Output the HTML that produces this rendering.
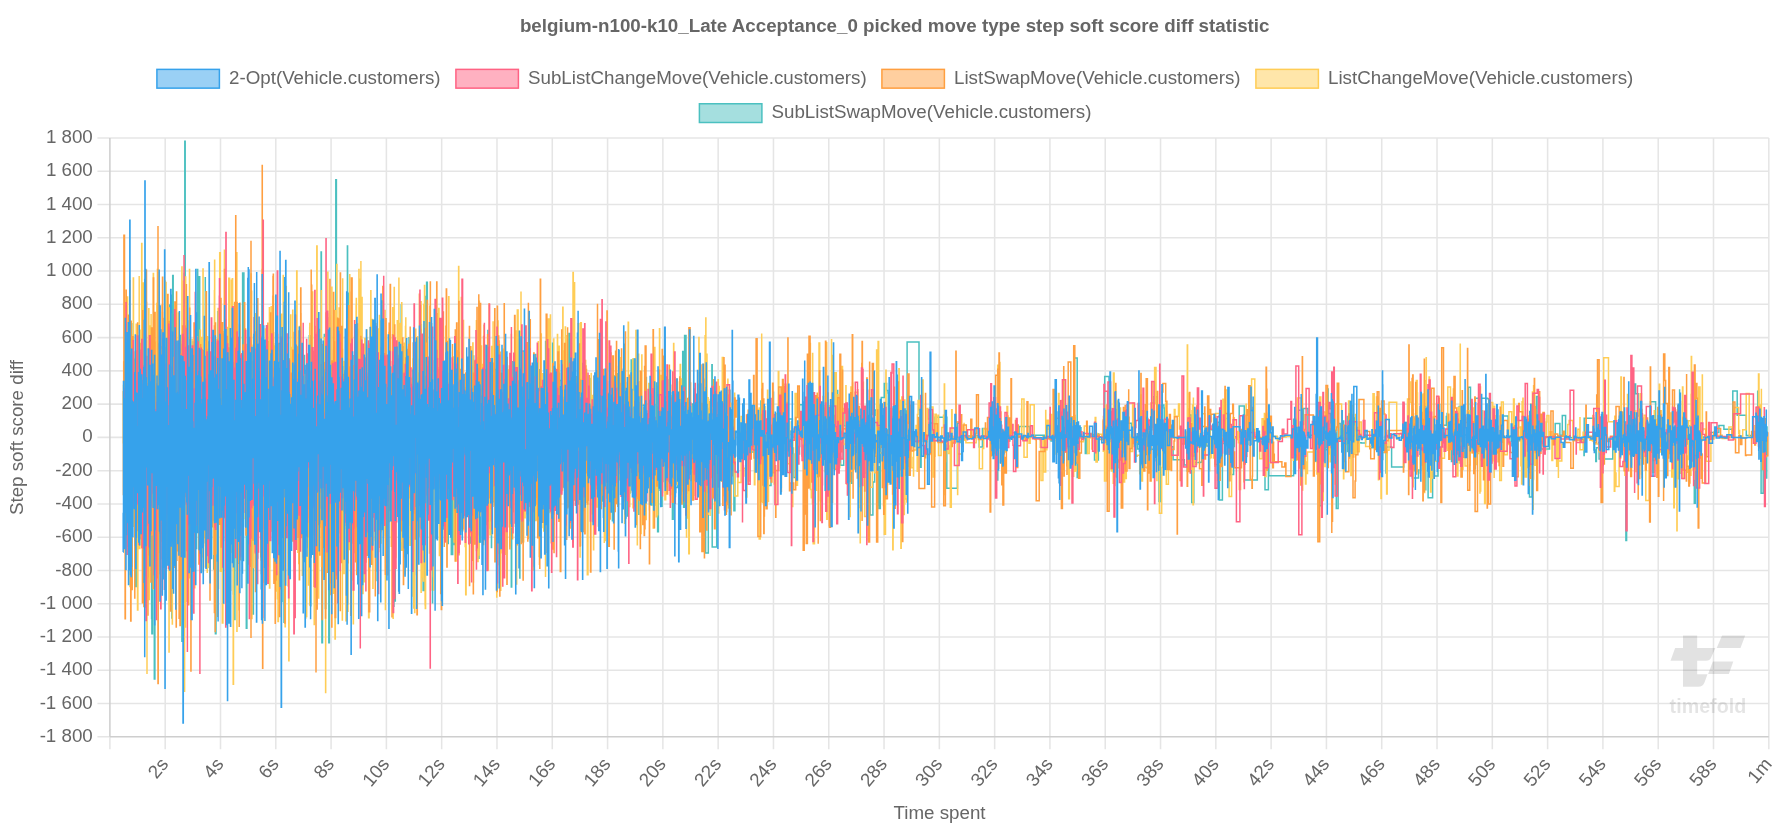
<!DOCTYPE html>
<html><head><meta charset="utf-8"><title>chart</title>
<style>
html,body{margin:0;padding:0;background:#fff;}
body{width:1792px;height:832px;overflow:hidden;position:relative;font-family:"Liberation Sans",sans-serif;}
svg{position:absolute;left:0;top:0;display:block;will-change:transform}
text{font-family:"Liberation Sans",sans-serif;fill:#666;font-size:18.75px}
.g{stroke:#000;stroke-opacity:0.1;stroke-width:1.56;fill:none}
.s{fill:none;stroke-width:1.5;stroke-linejoin:miter;stroke-linecap:butt}
</style></head><body>
<svg width="1792" height="832" viewBox="0 0 1792 832">
<text x="894.7" y="31.6" text-anchor="middle" style="font-weight:bold">belgium-n100-k10_Late Acceptance_0 picked move type step soft score diff statistic</text>
<rect x="156.90" y="69.38" width="62.5" height="18.75" fill="rgba(54,162,235,0.5)" stroke="rgb(54,162,235)" stroke-width="1.5"/><text x="229.0" y="84.0">2-Opt(Vehicle.customers)</text>
<rect x="455.90" y="69.38" width="62.5" height="18.75" fill="rgba(255,99,132,0.5)" stroke="rgb(255,99,132)" stroke-width="1.5"/><text x="528.0" y="84.0">SubListChangeMove(Vehicle.customers)</text>
<rect x="881.90" y="69.38" width="62.5" height="18.75" fill="rgba(255,159,64,0.5)" stroke="rgb(255,159,64)" stroke-width="1.5"/><text x="954.0" y="84.0">ListSwapMove(Vehicle.customers)</text>
<rect x="1255.90" y="69.38" width="62.5" height="18.75" fill="rgba(255,205,86,0.5)" stroke="rgb(255,205,86)" stroke-width="1.5"/><text x="1328.0" y="84.0">ListChangeMove(Vehicle.customers)</text>
<rect x="699.40" y="103.75" width="62.5" height="18.75" fill="rgba(75,192,192,0.5)" stroke="rgb(75,192,192)" stroke-width="1.5"/><text x="771.5" y="118.0">SubListSwapMove(Vehicle.customers)</text>
<path class="g" d="M97.40 138.00H1768.80M97.40 171.27H1768.80M97.40 204.53H1768.80M97.40 237.80H1768.80M97.40 271.07H1768.80M97.40 304.33H1768.80M97.40 337.60H1768.80M97.40 370.87H1768.80M97.40 404.13H1768.80M97.40 437.40H1768.80M97.40 470.67H1768.80M97.40 503.93H1768.80M97.40 537.20H1768.80M97.40 570.47H1768.80M97.40 603.73H1768.80M97.40 637.00H1768.80M97.40 670.27H1768.80M97.40 703.53H1768.80M97.40 736.80H1768.80M109.90 138.00V749.30M165.20 138.00V749.30M220.49 138.00V749.30M275.79 138.00V749.30M331.09 138.00V749.30M386.38 138.00V749.30M441.68 138.00V749.30M496.98 138.00V749.30M552.27 138.00V749.30M607.57 138.00V749.30M662.87 138.00V749.30M718.16 138.00V749.30M773.46 138.00V749.30M828.76 138.00V749.30M884.05 138.00V749.30M939.35 138.00V749.30M994.65 138.00V749.30M1049.94 138.00V749.30M1105.24 138.00V749.30M1160.54 138.00V749.30M1215.83 138.00V749.30M1271.13 138.00V749.30M1326.43 138.00V749.30M1381.72 138.00V749.30M1437.02 138.00V749.30M1492.32 138.00V749.30M1547.61 138.00V749.30M1602.91 138.00V749.30M1658.21 138.00V749.30M1713.50 138.00V749.30M1768.80 138.00V749.30"/>
<path class="g" d="M109.90 138.00V736.80M109.90 736.80H1768.80"/>
<text x="92.8" y="143.0" text-anchor="end">1 800</text><text x="92.8" y="176.3" text-anchor="end">1 600</text><text x="92.8" y="209.5" text-anchor="end">1 400</text><text x="92.8" y="242.8" text-anchor="end">1 200</text><text x="92.8" y="276.1" text-anchor="end">1 000</text><text x="92.8" y="309.3" text-anchor="end">800</text><text x="92.8" y="342.6" text-anchor="end">600</text><text x="92.8" y="375.9" text-anchor="end">400</text><text x="92.8" y="409.1" text-anchor="end">200</text><text x="92.8" y="442.4" text-anchor="end">0</text><text x="92.8" y="475.7" text-anchor="end">-200</text><text x="92.8" y="508.9" text-anchor="end">-400</text><text x="92.8" y="542.2" text-anchor="end">-600</text><text x="92.8" y="575.5" text-anchor="end">-800</text><text x="92.8" y="608.7" text-anchor="end">-1 000</text><text x="92.8" y="642.0" text-anchor="end">-1 200</text><text x="92.8" y="675.3" text-anchor="end">-1 400</text><text x="92.8" y="708.5" text-anchor="end">-1 600</text><text x="92.8" y="741.8" text-anchor="end">-1 800</text>
<text transform="translate(169.2,764.6) rotate(-50)" text-anchor="end">2s</text><text transform="translate(224.5,764.6) rotate(-50)" text-anchor="end">4s</text><text transform="translate(279.8,764.6) rotate(-50)" text-anchor="end">6s</text><text transform="translate(335.1,764.6) rotate(-50)" text-anchor="end">8s</text><text transform="translate(390.4,764.6) rotate(-50)" text-anchor="end">10s</text><text transform="translate(445.7,764.6) rotate(-50)" text-anchor="end">12s</text><text transform="translate(501.0,764.6) rotate(-50)" text-anchor="end">14s</text><text transform="translate(556.3,764.6) rotate(-50)" text-anchor="end">16s</text><text transform="translate(611.6,764.6) rotate(-50)" text-anchor="end">18s</text><text transform="translate(666.9,764.6) rotate(-50)" text-anchor="end">20s</text><text transform="translate(722.2,764.6) rotate(-50)" text-anchor="end">22s</text><text transform="translate(777.5,764.6) rotate(-50)" text-anchor="end">24s</text><text transform="translate(832.8,764.6) rotate(-50)" text-anchor="end">26s</text><text transform="translate(888.1,764.6) rotate(-50)" text-anchor="end">28s</text><text transform="translate(943.3,764.6) rotate(-50)" text-anchor="end">30s</text><text transform="translate(998.6,764.6) rotate(-50)" text-anchor="end">32s</text><text transform="translate(1053.9,764.6) rotate(-50)" text-anchor="end">34s</text><text transform="translate(1109.2,764.6) rotate(-50)" text-anchor="end">36s</text><text transform="translate(1164.5,764.6) rotate(-50)" text-anchor="end">38s</text><text transform="translate(1219.8,764.6) rotate(-50)" text-anchor="end">40s</text><text transform="translate(1275.1,764.6) rotate(-50)" text-anchor="end">42s</text><text transform="translate(1330.4,764.6) rotate(-50)" text-anchor="end">44s</text><text transform="translate(1385.7,764.6) rotate(-50)" text-anchor="end">46s</text><text transform="translate(1441.0,764.6) rotate(-50)" text-anchor="end">48s</text><text transform="translate(1496.3,764.6) rotate(-50)" text-anchor="end">50s</text><text transform="translate(1551.6,764.6) rotate(-50)" text-anchor="end">52s</text><text transform="translate(1606.9,764.6) rotate(-50)" text-anchor="end">54s</text><text transform="translate(1662.2,764.6) rotate(-50)" text-anchor="end">56s</text><text transform="translate(1717.5,764.6) rotate(-50)" text-anchor="end">58s</text><text transform="translate(1772.8,764.6) rotate(-50)" text-anchor="end">1m</text>
<text transform="translate(22.8,437.6) rotate(-90)" text-anchor="middle">Step soft score diff</text><text x="939.5" y="819" text-anchor="middle">Time spent</text>
<g fill="#000" fill-opacity="0.115"><path d="M1683 635.6H1697.2V648.1H1715.4L1711.2 657.5Q1709.8 660.7 1706 660.7H1697.2V674.2H1707.5L1704.6 682.2Q1703 686.7 1698 686.7H1683V660.7H1670.5L1675.1 648.1H1683Z"/><path d="M1722 635.6H1745.2L1740.5 648.1H1716.7Z"/><path d="M1712.8 661.4H1733.3L1728.9 673.9H1708.1Z"/></g><text x="1707.9" y="713" text-anchor="middle" style="font-weight:bold;font-size:19.7px;fill:#000;fill-opacity:0.105">timefold</text>
<clipPath id="cp"><rect x="108.90" y="137.00" width="1660.90" height="600.80"/></clipPath><g clip-path="url(#cp)"><path class="s" stroke="rgb(75,192,192)" d="M123.6 430.1H123.9V469.3H124.7V375.9H125.1V476.2H125.2V431.4H126.7V370.0H127.2V397.1H129.1V475.6H129.8V466.1H130.8V323.8H131.8V400.9H132.2V459.2H132.5V494.5H133.2V391.5H133.6V470.9H134.6V359.3H134.8V447.9H135.4V586.4H136.5V338.7H137.2V457.1H137.3V463.3H137.4V461.9H137.7V336.3H138.3V532.7H138.7V378.3H138.7V359.7H139.2V471.4H139.8V451.9H140.3V426.2H141.4V506.3H142.7V429.3H142.9V336.7H143.3V491.8H143.4V453.1H143.9V421.3H143.9V530.4H144.0V399.9H144.2V332.6H144.2V417.9H146.2V507.2H146.2V499.7H147.5V408.9H148.1V373.5H149.5V451.8H149.7V409.9H150.5V334.4H151.1V384.3H151.1V492.9H151.3V379.4H151.6V618.6H151.9V633.7H152.5V409.3H153.5V408.8H153.5V375.3H153.9V391.7H153.9V410.4H154.1V485.2H154.3V679.1H154.9V406.9H157.5V444.9H157.5V378.6H157.6V524.4H157.7V480.8H157.8V397.7H158.6V344.1H159.1V377.9H159.4V391.8H160.5V346.7H161.0V389.2H161.2V400.1H161.4V409.1H161.7V353.4H162.3V558.4H162.4V330.0H162.5V434.0H163.1V471.4H164.0V445.0H164.2V383.1H164.5V530.3H164.5V374.8H166.7V391.9H166.9V557.0H167.4V462.0H168.2V486.6H168.3V329.7H168.7V433.8H168.9V451.7H169.5V456.4H169.6V305.0H170.0V462.0H170.2V471.4H170.2V430.6H170.2V471.0H170.4V469.1H170.6V370.9H171.3V295.3H171.6V528.8H171.7V475.8H171.8V497.4H171.8V617.9H172.2V503.7H172.3V479.8H172.4V343.6H172.7V275.5H173.2V427.3H173.3V314.7H173.9V491.8H174.1V421.6H174.4V410.9H174.5V461.8H174.9V405.2H175.1V443.6H176.2V391.9H176.8V459.3H178.3V372.2H178.5V411.6H178.6V411.1H178.7V399.9H178.9V422.2H178.9V321.1H179.2V375.6H179.3V516.4H179.4V550.8H179.4V513.7H179.8V335.6H180.9V410.0H180.9V496.8H181.2V414.7H181.3V341.8H181.9V641.3H182.1V521.7H182.5V384.4H182.8V624.0H183.2V433.7H183.3V499.2H183.4V425.0H183.5V467.7H183.7V347.4H183.7V475.6H183.9V393.0H184.0V309.1H184.3V273.6H184.6V426.3H184.8V141.2H185.2V447.0H185.3V331.9H185.4V479.8H185.6V557.8H186.4V539.2H186.6V321.1H187.7V495.5H188.0V354.4H188.2V510.2H188.4V443.3H188.9V518.9H189.5V539.0H189.6V492.2H190.7V479.7H191.1V368.2H191.5V505.0H192.6V342.0H192.7V520.7H192.7V446.2H192.9V449.1H193.9V454.9H194.4V395.1H194.7V413.9H194.8V404.1H194.9V488.2H195.0V415.9H196.0V506.5H196.3V450.5H196.3V367.0H196.5V548.5H196.6V430.2H196.8V425.8H197.3V269.4H197.7V403.4H198.0V486.2H198.4V353.3H198.9V276.7H199.7V392.8H199.9V362.8H200.6V553.8H200.6V404.0H201.7V431.6H201.8V362.8H201.9V340.2H202.0V513.0H202.7V452.3H203.0V459.9H203.3V430.1H203.7V397.6H204.1V409.5H204.4V401.8H205.0V414.6H205.2V460.4H205.3V277.1H205.3V542.8H206.0V406.2H206.2V342.8H206.2V388.7H206.2V487.0H206.7V355.1H208.8V478.5H209.5V403.2H209.7V496.4H209.9V519.3H209.9V394.2H210.4V431.4H210.4V401.0H210.7V520.6H210.8V415.4H212.0V451.6H212.1V466.6H213.7V568.9H215.4V633.7H216.0V392.6H216.2V370.0H217.3V342.8H217.3V423.0H217.3V427.6H217.4V457.5H217.7V311.7H218.1V327.3H218.2V478.9H218.5V427.4H219.8V501.7H220.0V387.4H222.5V404.5H224.1V418.6H225.4V422.8H225.5V377.4H226.1V388.3H227.0V488.4H227.3V439.3H227.6V369.3H227.7V456.3H227.8V480.8H229.5V462.8H229.9V443.4H230.3V462.0H230.4V363.7H231.0V379.2H231.3V407.4H231.4V481.7H231.5V413.0H232.1V483.3H233.5V593.9H234.8V455.2H234.8V619.6H234.9V388.7H235.2V497.0H236.8V407.5H237.0V462.3H237.6V489.6H238.5V558.9H238.7V444.2H238.9V563.3H239.1V445.1H239.1V501.1H240.0V486.7H240.6V473.6H240.6V382.0H240.8V409.3H241.0V404.5H241.0V405.4H242.5V467.8H242.6V272.9H243.9V378.7H245.3V482.8H245.5V526.0H245.6V383.4H246.2V521.0H246.2V519.3H246.3V628.2H246.9V383.2H247.1V491.6H247.3V535.3H247.8V418.6H247.9V468.3H248.1V443.6H248.4V456.3H249.2V439.6H249.2V510.8H249.5V517.4H250.0V511.1H251.6V401.2H251.6V490.4H251.9V519.4H252.1V449.0H252.8V571.0H252.8V614.0H253.4V390.6H255.0V408.9H255.0V508.2H256.1V489.9H256.2V457.4H256.5V461.6H256.9V424.6H257.1V479.5H257.3V405.0H257.4V558.1H257.7V464.9H258.5V463.2H258.8V381.3H259.4V486.0H260.8V523.3H260.9V432.8H261.2V336.4H261.5V400.9H262.3V421.7H262.4V395.7H263.2V493.3H263.3V393.0H263.5V371.4H263.6V405.6H263.7V426.1H264.0V420.3H264.3V500.1H265.0V419.1H266.5V326.0H266.7V500.6H266.7V429.7H266.8V502.6H268.1V428.4H269.0V410.5H269.3V389.0H270.1V463.5H270.2V404.6H270.4V429.4H270.5V348.6H270.5V406.7H271.2V493.2H271.3V473.3H271.6V406.5H272.1V455.2H272.3V395.8H272.4V502.1H273.4V462.1H273.9V478.0H274.0V400.6H274.4V401.9H274.7V485.6H275.2V547.7H275.3V435.5H275.3V347.2H276.0V360.8H276.9V390.0H277.0V473.9H277.1V405.4H277.2V460.4H278.0V436.5H278.0V454.2H278.8V409.5H278.9V343.5H280.7V390.6H280.8V446.3H281.0V433.1H281.5V476.1H281.6V601.6H282.0V407.5H282.2V477.3H282.8V430.4H282.9V413.7H284.0V623.1H284.0V516.4H284.5V539.9H284.8V430.5H284.9V405.3H285.2V451.0H285.6V424.8H285.7V443.6H287.6V467.0H289.3V435.9H289.7V453.4H290.9V424.8H291.5V404.4H291.6V410.3H292.3V408.2H292.4V410.9H292.6V455.5H294.0V444.6H294.4V354.8H294.4V485.0H294.6V379.5H295.2V496.1H296.3V476.2H296.9V428.3H297.0V454.4H297.9V448.3H298.0V471.5H299.4V472.7H300.5V401.7H300.9V468.9H301.0V451.8H301.1V376.0H301.8V489.5H302.0V487.2H302.6V381.8H303.0V355.6H304.5V497.0H304.6V419.2H304.8V370.4H305.1V445.2H305.2V478.5H307.0V433.3H307.6V509.6H308.5V402.6H308.6V443.3H308.9V407.6H309.0V401.5H309.3V335.8H310.0V395.0H310.2V416.9H310.4V554.2H310.6V605.7H310.8V376.2H311.0V376.2H311.2V506.5H311.5V493.1H311.6V429.2H311.7V375.5H312.1V505.9H313.3V415.0H313.8V445.0H314.1V355.0H314.1V426.2H314.2V435.7H314.2V465.6H314.6V403.5H315.1V452.0H315.7V400.7H315.8V464.8H316.0V520.2H316.3V454.3H317.8V450.7H318.1V499.1H318.6V422.6H318.8V438.5H318.9V366.7H319.1V453.3H319.2V435.7H319.2V422.9H320.1V367.6H320.1V442.5H320.4V476.3H320.5V363.8H321.1V252.1H321.4V448.8H321.7V494.4H321.7V430.8H321.7V423.5H321.9V642.8H322.5V409.7H324.3V515.2H324.3V473.2H324.3V334.4H324.8V474.3H325.4V608.5H325.9V360.4H327.6V317.9H327.7V492.5H327.9V484.7H328.3V419.2H328.8V642.8H329.4V382.9H329.8V404.6H330.0V393.1H330.1V398.0H330.3V385.4H331.7V494.5H331.9V556.7H332.2V485.2H332.2V523.9H332.8V410.9H333.8V466.0H333.9V423.2H334.0V389.7H334.5V365.4H334.5V432.4H334.6V470.3H334.7V455.6H335.8V440.0H335.8V179.7H336.4V485.9H336.5V446.6H337.4V439.7H337.9V431.6H338.2V470.7H338.2V408.0H338.4V358.3H338.7V417.1H339.8V423.8H340.0V504.1H340.5V502.8H340.6V476.8H341.1V484.5H341.7V386.7H342.0V493.2H342.3V505.1H343.3V449.7H343.9V459.4H343.9V426.2H344.1V453.2H344.2V394.1H344.9V507.0H344.9V489.8H345.3V402.7H345.5V468.3H345.6V473.6H346.2V396.2H346.7V421.4H346.8V518.1H347.0V464.1H347.4V246.0H347.6V416.6H348.0V465.7H348.1V293.2H349.0V500.1H349.3V442.7H349.5V464.3H350.9V520.3H351.9V396.2H352.5V471.4H354.0V428.8H354.0V354.9H354.0V376.4H354.7V450.6H354.9V453.8H356.8V405.8H356.9V529.5H357.2V425.8H357.4V414.8H358.1V452.6H358.2V422.4H358.9V413.3H358.9V382.4H359.0V499.5H359.1V350.8H359.5V414.6H359.8V538.7H361.0V488.3H361.5V501.0H361.6V417.0H361.7V533.6H361.9V410.4H362.0V373.7H362.1V434.9H362.2V418.4H362.2V424.9H362.9V466.7H364.1V407.5H365.2V502.3H365.3V421.6H365.6V523.3H365.7V490.7H367.6V434.1H367.8V496.5H367.9V451.2H368.4V345.8H369.0V386.9H369.2V426.0H369.7V465.6H369.9V483.5H370.6V338.9H370.8V385.6H371.0V421.7H371.5V371.4H371.7V367.5H371.7V438.2H371.8V507.9H372.1V495.3H372.5V462.7H372.8V446.8H372.8V422.9H373.9V388.7H375.4V406.4H375.4V418.4H376.1V404.0H376.1V465.1H376.5V499.3H376.7V447.2H376.8V417.0H377.1V580.4H377.2V460.9H377.3V358.0H377.8V481.5H378.2V397.1H378.7V523.2H378.7V461.1H379.9V412.6H380.0V478.8H380.1V539.2H380.1V398.6H380.2V416.6H380.8V509.1H380.9V412.7H381.2V475.7H381.9V424.4H383.2V418.7H383.4V468.7H384.6V403.2H385.0V450.5H385.2V382.0H385.8V372.3H386.9V458.0H387.8V439.3H388.9V461.8H388.9V391.5H389.2V406.8H389.3V461.5H389.7V466.5H391.2V381.1H391.6V442.6H392.3V454.9H392.8V429.2H393.0V567.3H393.1V606.3H393.9V412.1H394.7V424.0H394.7V457.4H395.1V381.5H395.1V601.1H395.3V449.2H395.4V488.1H395.9V373.4H396.4V396.2H396.6V466.0H397.8V376.8H397.9V384.8H398.3V462.0H398.6V424.6H399.4V406.1H399.7V338.6H400.9V404.6H401.2V305.1H401.4V505.2H401.5V550.0H401.9V464.7H402.6V470.9H403.0V346.9H404.7V370.4H405.7V392.5H406.2V468.7H406.3V439.9H406.7V388.0H407.0V405.8H407.2V353.3H407.7V479.2H408.1V352.0H408.5V477.8H408.7V381.9H409.0V337.0H409.0V407.6H410.1V462.7H410.6V506.3H410.9V511.8H411.1V413.9H411.4V436.8H412.6V496.0H413.3V398.7H413.7V530.9H413.9V511.4H414.4V488.8H415.4V370.4H415.6V373.3H415.9V431.1H416.6V444.2H418.1V410.6H418.4V440.0H419.8V366.2H420.1V461.4H420.5V389.5H420.9V324.8H421.3V392.8H422.5V491.5H423.1V590.5H424.3V461.1H424.5V494.8H425.5V296.5H425.8V501.9H426.0V458.6H426.1V362.7H426.6V405.9H426.6V282.2H427.3V451.6H428.0V488.2H428.4V396.1H428.6V416.5H428.7V371.1H429.0V437.1H431.2V465.1H431.2V433.6H431.4V404.8H431.7V424.2H432.5V602.8H432.6V403.4H433.8V426.6H433.8V422.7H435.0V423.3H435.5V425.0H435.7V324.3H436.0V462.3H436.3V421.6H436.4V435.8H437.7V415.0H438.2V437.5H438.3V374.6H438.9V472.8H439.2V448.9H439.2V428.2H439.7V398.7H439.7V513.2H439.9V490.2H440.2V430.8H440.4V395.4H440.6V500.1H441.2V420.0H441.3V461.9H441.3V329.0H442.3V421.3H443.0V357.9H443.2V429.7H444.5V373.8H444.8V369.8H445.4V408.8H446.4V343.9H446.6V455.6H447.5V378.2H447.6V484.0H447.9V502.3H447.9V424.1H448.1V455.6H448.2V543.5H448.3V411.3H448.9V378.9H449.2V366.6H449.4V454.0H449.5V352.2H450.3V438.2H450.4V459.5H451.3V554.4H452.7V442.8H452.9V499.1H454.0V405.0H454.0V396.5H454.3V544.5H454.8V399.4H455.7V512.3H456.6V503.9H457.5V425.2H458.4V353.6H458.6V481.2H458.6V410.9H458.9V452.6H458.9V466.6H461.1V469.8H461.2V416.0H461.3V389.7H461.9V373.3H462.7V449.9H463.6V453.4H463.8V458.5H463.9V430.8H464.8V408.5H465.3V388.0H465.4V474.1H466.1V456.3H466.5V495.4H466.6V427.3H467.9V454.8H468.3V446.6H468.5V408.7H468.9V408.5H469.2V399.2H470.1V542.9H471.0V415.0H471.7V440.9H472.7V425.7H472.9V420.9H473.4V396.3H473.4V356.1H473.7V409.3H474.7V503.1H474.8V486.2H478.2V479.2H478.3V558.2H479.0V411.7H479.8V487.3H480.2V494.7H480.5V542.1H480.6V477.8H480.7V427.5H480.9V424.3H482.6V494.0H483.9V427.2H484.7V433.0H485.1V438.6H485.6V434.9H486.7V424.5H487.5V381.7H487.9V330.4H488.3V447.2H488.9V421.9H489.1V449.0H489.1V375.5H489.1V384.3H489.6V473.2H490.2V428.2H491.0V447.0H491.3V456.4H491.4V515.8H491.4V547.4H491.6V501.8H493.2V422.7H493.4V394.4H493.9V369.6H495.0V466.8H495.9V416.6H496.0V450.1H496.3V425.5H497.4V478.1H498.0V363.6H498.0V410.6H498.3V430.7H498.5V411.4H498.6V469.4H498.6V389.4H498.6V442.1H499.9V498.7H500.3V439.3H500.6V379.2H500.9V508.1H501.3V427.7H502.4V534.4H502.9V443.0H503.1V390.5H504.1V504.9H505.4V448.6H506.7V408.6H506.8V425.5H506.9V454.6H507.6V471.4H508.8V430.5H508.9V459.7H509.3V450.0H509.8V383.1H509.9V413.9H511.3V587.0H511.7V361.7H512.8V436.0H513.6V419.4H514.1V463.5H514.2V414.4H514.6V442.9H515.3V440.4H516.1V380.4H517.6V372.6H517.6V431.1H517.9V469.6H518.1V511.3H518.3V350.2H519.1V435.0H519.8V577.9H519.9V449.8H522.0V542.0H522.2V351.1H523.1V457.2H523.3V487.6H523.7V449.6H524.4V405.6H524.6V416.7H525.5V423.7H526.1V427.9H526.1V368.8H526.9V423.9H527.0V458.4H527.2V373.4H527.6V503.0H530.0V376.1H530.2V428.7H530.5V542.1H531.2V420.4H531.7V450.1H532.0V476.0H532.5V440.1H533.7V416.8H534.1V451.5H535.0V362.8H535.2V354.5H535.8V517.1H536.5V389.6H537.2V417.1H537.2V452.7H537.3V452.8H537.4V391.0H539.6V369.7H540.6V420.6H541.2V459.5H542.7V411.8H542.8V482.9H544.9V477.6H545.0V453.5H545.3V398.3H545.6V341.4H546.2V422.6H546.4V404.3H547.2V456.9H548.6V412.7H549.3V446.8H551.6V512.6H552.6V375.8H552.6V343.2H552.8V486.4H554.4V474.1H554.6V450.8H556.5V435.5H559.0V420.0H559.8V380.5H563.9V458.7H564.6V498.8H564.8V431.8H565.2V425.4H565.4V460.5H565.5V506.9H566.3V407.6H566.7V463.4H566.8V412.5H567.5V440.7H567.6V430.8H568.1V441.4H568.4V387.1H568.9V412.3H568.9V333.6H570.0V442.1H570.9V428.2H572.2V458.7H572.8V446.7H573.1V385.6H576.7V490.0H577.1V391.3H577.3V411.4H578.9V504.0H580.4V479.5H581.8V432.3H582.0V457.2H582.0V420.3H582.5V363.6H582.8V510.4H583.5V456.3H586.2V418.2H586.5V375.6H586.5V472.3H587.1V404.1H588.0V459.1H589.1V434.3H589.3V389.4H589.3V430.5H589.8V378.4H590.0V446.5H590.5V417.2H591.3V462.9H592.0V417.3H592.9V454.7H593.7V448.6H594.0V467.3H594.5V400.9H596.3V465.7H598.2V359.4H598.2V442.9H598.3V448.8H599.2V425.2H599.7V432.0H600.3V447.8H600.3V488.3H600.7V469.8H600.8V446.0H601.7V411.5H602.5V501.0H602.7V436.1H603.4V488.6H606.4V452.5H606.6V480.5H607.0V432.3H608.9V442.8H608.9V398.2H609.4V394.9H610.2V410.3H612.1V429.6H612.4V520.8H613.2V376.0H614.3V475.6H614.4V426.3H615.6V433.4H617.1V489.4H617.1V373.7H618.4V400.2H618.5V454.0H618.9V350.8H619.1V361.8H619.8V420.1H619.9V427.8H620.2V412.0H620.6V441.1H620.9V475.1H621.1V411.1H621.2V422.8H624.0V344.3H624.3V428.6H626.1V473.3H627.0V421.8H627.4V516.0H628.1V465.3H628.9V463.2H629.0V413.4H630.0V493.0H630.1V435.6H631.2V360.1H631.4V413.5H632.5V418.5H633.8V358.9H634.0V404.8H634.1V416.5H634.7V419.6H634.9V478.4H635.9V408.8H636.0V442.6H636.5V447.5H636.7V416.6H637.9V416.5H638.8V514.2H638.9V402.8H640.5V390.5H640.9V412.3H641.8V405.2H644.5V430.6H646.0V377.5H646.4V444.9H648.1V422.3H650.9V505.0H652.4V444.3H655.6V448.4H656.4V383.0H656.8V386.5H657.0V394.4H657.1V442.8H657.2V418.6H657.6V531.8H658.4V448.9H658.9V421.0H661.0V439.2H661.1V506.3H662.1V481.5H663.0V424.0H663.2V441.3H663.9V390.9H664.0V397.1H665.2V441.6H665.5V421.9H665.9V471.5H666.6V377.0H667.2V417.2H667.9V379.2H667.9V443.4H668.6V417.0H669.3V397.2H671.0V484.2H672.0V470.9H672.4V519.3H673.2V403.5H673.4V397.6H674.9V405.9H675.2V487.4H677.8V408.2H679.0V460.2H682.7V351.5H683.2V411.1H683.6V507.3H684.6V335.4H686.0V477.6H687.5V438.0H687.5V462.4H687.8V398.9H688.0V489.1H688.3V433.0H689.5V435.5H691.1V435.4H691.5V471.9H692.2V442.6H692.2V404.0H694.3V446.1H696.5V453.8H697.1V414.4H697.6V419.7H698.0V479.7H698.1V385.0H700.1V462.7H701.2V405.6H701.9V440.2H705.6V553.0H708.3V408.9H709.4V407.9H711.0V472.7H711.9V364.7H712.2V547.1H716.7V422.5H719.5V424.1H725.4V458.8H726.5V426.9H728.1V390.2H730.0V410.3H731.7V463.4H731.9V451.0H732.7V450.7H733.9V510.8H734.9V432.3H748.0V443.7H748.4V428.3H750.6V449.6H750.9V452.1H756.3V444.5H760.9V400.9H761.7V443.2H762.9V430.6H763.1V410.4H763.3V454.9H766.8V483.8H767.4V419.5H767.6V439.2H768.2V485.4H771.0V450.8H771.1V443.1H773.2V392.3H773.5V432.1H779.5V459.3H782.4V427.1H783.0V434.6H784.5V402.6H787.4V429.4H788.7V418.9H792.4V447.9H793.4V477.5H795.3V453.9H799.5V404.7H802.5V429.1H804.1V410.7H806.4V485.5H806.5V399.3H807.3V464.1H810.7V423.0H812.4V427.4H812.9V467.2H813.7V425.0H816.9V476.7H818.5V426.2H818.9V430.1H821.6V425.8H822.8V437.6H824.0V431.5H824.6V432.4H825.1V423.2H825.3V438.5H826.8V458.1H834.6V431.0H835.4V390.5H837.7V457.0H840.6V465.2H843.7V413.4H844.0V425.7H846.1V442.2H850.4V483.2H851.9V441.1H854.1V426.8H859.0V431.7H860.2V417.4H861.0V433.7H861.4V457.5H862.0V402.6H862.0V439.6H864.8V473.0H870.1V515.1H872.9V481.9H874.6V409.9H876.2V415.3H877.5V480.4H878.1V505.0H878.7V466.7H878.9V508.6H880.3V441.3H881.3V397.5H884.3V383.6H886.6V390.6H888.0V393.1H888.3V459.3H889.9V442.9H891.8V430.9H893.6V432.5H894.4V440.0H894.5V444.8H896.0V410.2H898.1V411.8H900.1V434.9H900.7V456.1H905.0V410.9H906.3V479.6H906.5V482.3H907.0V419.6H907.1V342.0H919.0V410.0H920.4V467.3H921.1V446.2H921.2V435.2H929.4V422.9H932.3V437.8H932.6V414.1H932.9V423.5H934.9V417.2H946.8V488.3H957.4V423.2H959.8V442.6H960.2V439.0H960.9V435.9H979.2V446.9H982.4V428.6H985.7V438.3H992.0V436.5H992.5V435.4H993.4V453.6H994.7V430.7H996.5V480.1H997.8V430.8H1004.1V441.1H1009.8V437.3H1019.1V426.5H1029.7V435.3H1044.9V436.9H1051.0V441.1H1053.0V438.2H1059.0V455.1H1059.7V429.9H1061.4V430.2H1062.4V440.0H1063.0V379.8H1063.7V448.5H1066.4V444.3H1066.5V420.3H1067.5V436.3H1067.9V422.3H1073.9V358.1H1077.2V477.4H1078.6V427.8H1081.0V438.0H1084.1V437.1H1084.5V437.0H1085.3V453.4H1086.8V436.0H1094.5V460.0H1098.4V433.8H1098.6V437.1H1104.7V376.5H1109.0V435.4H1113.8V409.5H1116.0V455.1H1118.1V455.7H1122.0V423.3H1131.4V438.5H1134.2V438.6H1137.3V444.2H1137.7V449.1H1140.8V411.0H1143.4V430.5H1145.2V454.6H1146.7V428.8H1147.1V453.8H1148.1V433.8H1148.1V449.2H1153.7V396.7H1157.1V450.1H1158.3V464.9H1158.4V412.6H1159.0V501.5H1160.2V441.4H1161.1V404.9H1163.9V408.1H1164.2V452.7H1164.7V447.3H1167.6V466.4H1170.5V446.7H1173.1V459.7H1184.3V465.0H1187.3V471.0H1189.3V422.7H1189.9V414.9H1191.7V502.4H1193.8V462.5H1200.1V462.3H1201.8V413.1H1202.1V440.4H1202.5V439.6H1206.6V445.9H1208.5V429.7H1215.9V446.2H1217.5V422.3H1219.4V500.1H1222.4V443.6H1225.0V418.4H1228.4V427.7H1228.7V452.1H1229.5V434.2H1231.0V474.5H1233.6V446.6H1234.4V436.9H1239.2V406.1H1244.3V479.9H1257.3V441.8H1265.0V489.8H1268.4V441.8H1268.5V453.8H1268.6V428.0H1268.9V475.7H1293.6V419.3H1295.8V450.4H1297.7V449.0H1297.8V410.3H1301.8V424.6H1303.5V408.6H1307.9V435.3H1316.6V429.8H1317.1V461.6H1317.5V432.6H1317.9V457.0H1319.1V441.1H1319.5V505.7H1321.4V451.0H1322.3V485.0H1322.4V443.4H1322.6V424.3H1323.7V441.4H1323.9V452.5H1324.1V459.8H1324.4V448.0H1325.1V449.7H1327.5V389.0H1328.1V413.5H1330.4V437.9H1331.8V398.3H1334.1V444.4H1334.3V445.4H1335.3V431.9H1336.3V508.4H1338.1V423.4H1340.2V436.6H1342.5V421.1H1343.7V443.5H1347.2V436.3H1347.2V416.5H1347.4V451.6H1347.9V432.6H1349.5V418.1H1354.6V439.4H1358.3V442.8H1361.3V443.0H1365.6V435.6H1366.6V439.2H1371.6V447.7H1385.6V450.2H1385.9V432.6H1386.0V472.9H1386.5V447.0H1391.6V467.1H1403.7V433.0H1406.2V422.6H1406.7V427.6H1407.1V446.4H1411.8V435.3H1412.4V478.1H1418.5V473.0H1418.8V469.9H1420.6V408.7H1424.7V489.7H1425.8V403.7H1427.6V428.9H1428.1V497.7H1432.6V448.3H1434.5V475.9H1438.0V456.1H1439.1V404.5H1439.7V425.3H1446.3V416.6H1447.1V413.6H1447.4V448.2H1449.7V448.2H1450.2V438.3H1451.5V461.4H1452.5V424.1H1455.2V434.7H1457.2V455.1H1459.1V406.6H1461.7V465.7H1462.3V435.0H1467.4V445.2H1468.3V387.3H1470.5V414.5H1474.6V412.9H1475.0V468.6H1475.3V398.3H1487.5V398.8H1488.7V442.9H1500.3V416.0H1508.1V436.1H1511.1V441.2H1518.1V440.7H1525.5V452.9H1526.5V456.1H1529.5V464.5H1529.5V497.0H1532.0V425.8H1535.3V451.6H1536.5V396.6H1538.2V436.0H1541.0V448.9H1549.5V436.9H1551.9H1552.8V437.0H1554.1H1555.2V423.5H1559.9V435.3H1562.3V415.4H1565.6V437.6H1570.0V435.8H1570.2V437.7H1574.9V440.1H1575.8V438.6H1581.5V442.0H1583.9V438.5H1584.0V455.6H1584.2V418.3H1594.0V450.0H1595.8V461.5H1596.4V447.7H1598.8V442.6H1599.1V458.9H1612.8V437.4H1622.7V412.4H1623.1V422.0H1625.9V540.6H1626.6V437.8H1631.2V467.3H1631.7V429.9H1634.6V384.0H1635.6V393.7H1638.1V416.0H1640.5V435.6H1648.7V432.9H1650.3V440.6H1650.5V401.7H1655.6V456.5H1656.3V425.4H1658.6V450.9H1672.7V438.7H1673.4V429.6H1675.4V459.6H1679.6V389.2H1679.6V451.4H1680.5V469.5H1683.7V449.2H1686.3V435.6H1686.9V444.0H1688.0V426.0H1692.7V436.6H1694.3V503.2H1695.3V439.8H1703.0V436.9H1710.7V432.4H1718.9V425.5H1723.9V429.2H1732.8V391.1H1737.2V415.2H1746.3V435.5H1757.7V391.2H1758.4V425.5H1759.4V434.1H1760.7V414.4H1761.1V493.3H1763.2V421.1H1765.7V478.0H1766.7V427.0H1767.0V450.1"/>
<path class="s" stroke="rgb(255,205,86)" d="M123.4 391.3H123.4V439.7H123.4V442.8H123.5V385.4H123.7V487.0H123.7V458.4H124.3V491.9H124.5V421.6H125.1V436.4H125.2V379.4H125.3V434.5H125.7V533.3H125.8V459.3H125.8V453.2H126.0V378.9H126.1V398.8H126.2V355.3H126.2V445.4H126.3V425.7H126.7V474.3H126.7V534.7H126.9V413.9H127.2V528.3H127.2V415.2H127.2V362.8H127.4V296.9H127.6V356.6H127.7V391.0H127.7V368.6H127.8V487.7H127.9V488.9H128.0V431.3H128.2V414.0H128.3V492.4H128.4V489.2H128.7V404.0H128.8V333.1H128.9V543.5H129.0V514.5H129.2V484.9H129.4V426.6H129.5V378.5H129.7V507.1H129.7V415.4H130.0V524.0H130.0V515.2H130.0V586.6H130.1V429.0H130.3V493.1H130.3V481.0H130.6V450.5H130.7V488.8H130.8V442.8H130.9V491.8H131.1V475.4H131.2V587.7H131.8V442.2H132.3V399.4H132.6V334.2H132.6V472.9H132.7V477.0H133.2V409.9H133.3V410.0H133.3V278.0H133.5V434.9H133.6V407.7H133.7V526.2H133.9V396.6H134.1V517.9H134.6V485.8H135.1V425.7H135.5V394.4H135.6V451.7H135.6V357.2H135.9V465.2H135.9V454.0H136.1V408.6H136.2V324.2H136.4V351.0H136.5V368.9H136.6V429.4H137.5V610.0H137.9V406.9H138.0V472.3H138.2V547.9H138.3V455.0H138.3V379.0H138.4V465.6H138.4V478.3H138.5V413.3H138.5V486.1H138.6V502.0H138.8V368.7H138.8V381.8H138.9V448.7H139.0V404.9H139.0V505.2H139.1V503.1H139.2V275.9H139.2V364.8H139.3V548.4H139.9V330.2H140.0V452.6H140.2V512.6H140.3V531.9H140.4V365.9H140.5V389.3H140.7V456.8H140.7V446.9H140.7V504.8H140.9V393.5H141.1V457.6H141.4V481.2H141.6V439.6H141.7V243.5H141.9V295.7H142.0V479.9H142.3V472.4H142.4V443.9H142.5V458.0H142.5V451.7H142.5V497.7H142.5V424.3H142.6V363.4H142.7V496.7H142.8V408.6H143.1V388.2H143.1V452.9H143.2V283.1H143.5V308.7H143.8V400.6H143.9V435.2H144.0V475.6H144.1V419.0H144.2V401.3H144.4V317.8H144.9V512.7H145.0V477.0H145.1V369.5H145.1V428.3H145.1V390.6H145.4V500.5H145.4V433.5H145.5V396.9H145.7V510.4H145.7V475.7H145.7V429.5H145.8V559.4H146.0V416.4H146.1V425.5H146.3V404.4H146.3V450.2H146.4V341.0H146.5V592.2H146.6V408.3H146.8V458.0H146.9V393.7H147.0V674.1H147.0V420.4H147.2V387.2H147.4V356.4H147.6V385.1H147.7V443.3H147.9V549.1H148.1V394.9H148.7V308.7H148.9V576.8H149.0V334.6H149.2V409.5H149.3V600.2H149.3V495.1H149.6V353.6H149.8V360.7H149.8V477.5H149.9V450.5H150.1V463.0H150.3V326.1H150.4V380.0H150.4V474.8H150.6V389.9H150.9V518.9H151.1V314.0H151.1V460.9H151.8V534.7H151.9V432.4H152.0V461.5H152.1V396.1H152.2V362.7H152.3V403.8H152.6V453.6H152.7V475.3H152.7V466.7H152.8V334.2H152.8V469.9H153.3V273.5H153.5V589.0H153.7V358.6H153.9V396.3H154.4V511.2H155.0V401.8H155.1V443.4H155.2V413.7H155.5V513.5H155.9V387.1H156.0V341.4H156.0V421.5H156.2V410.7H156.4V426.9H156.4V450.1H156.5V413.5H156.6V495.1H156.6V426.2H156.8V424.6H156.8V303.6H157.1V445.5H157.3V399.5H157.4V269.4H157.7V366.7H157.9V381.9H158.0V435.2H158.2V349.5H158.4V373.8H158.7V375.7H158.8V456.0H158.8V375.0H158.9V552.2H159.0V392.4H159.2V426.0H159.5V455.5H159.6V399.5H159.7V430.0H159.9V474.3H159.9V417.8H160.1V381.9H160.1V574.5H160.1V452.8H160.2V472.7H160.4V443.1H160.5V474.1H160.5V419.1H160.7V460.7H160.8V360.3H160.9V469.6H161.0V495.6H161.1V504.7H161.1V456.6H161.3V427.6H161.6V468.1H161.6V349.5H161.7V372.8H161.7V384.0H162.3V530.8H162.5V463.7H162.5V311.8H162.5V362.6H162.8V445.0H163.1V377.9H163.2V471.2H163.3V451.2H164.2V354.1H164.3V366.8H164.6V329.6H164.6V378.6H164.7V423.4H165.0V440.4H165.0V445.8H165.1V280.9H165.3V421.7H165.3V488.3H165.4V373.1H165.5V447.6H165.7V282.4H166.1V347.1H166.2V499.5H166.5V502.8H166.9V477.3H167.2V408.3H167.5V444.3H167.5V534.5H167.5V480.4H167.6V394.2H167.6V414.7H168.0V428.6H168.1V465.5H168.2V424.8H168.2V426.1H168.8V459.4H169.0V652.0H169.1V410.3H169.1V308.0H169.4V401.7H169.6V381.2H169.8V515.6H169.8V432.9H169.9V397.6H170.1V336.0H170.1V427.6H170.2V495.5H170.3V425.9H170.4V314.0H170.7V429.8H170.9V361.0H171.0V480.6H171.1V471.2H171.2V368.3H171.5V386.8H171.8V438.4H172.0V541.6H172.0V410.7H172.1V522.3H172.3V624.0H172.4V463.7H172.4V450.4H172.7V478.3H172.7V452.8H172.8V403.5H172.9V380.2H173.5V508.9H173.5V457.9H173.5V391.0H173.7V397.3H173.7V456.1H174.1V459.0H174.7V429.4H175.1V508.5H175.3V451.6H175.5V439.3H175.7V432.1H175.7V507.7H175.8V570.8H176.0V436.9H176.1V474.5H176.1V395.9H176.3V469.1H176.4V492.2H176.5V390.9H177.1V464.3H177.6V464.5H178.2V434.2H178.4V313.0H178.6V349.7H178.7V456.8H178.8V512.5H178.8V408.3H178.9V433.2H179.0V518.6H179.2V412.8H179.3V405.0H179.4V384.1H179.4V510.5H179.6V432.6H179.7V403.6H179.8V392.5H180.1V430.0H180.2V512.9H180.3V470.5H180.4V366.1H180.5V523.7H180.5V489.1H180.6V550.1H180.6V503.2H180.7V501.3H181.3V451.2H181.5V488.7H181.7V422.2H181.9V266.9H182.0V432.8H182.2V456.3H182.3V472.7H182.3V513.6H182.4V411.4H182.5V485.3H182.6V332.9H182.8V529.8H182.9V470.5H182.9V414.8H183.1V451.4H183.2V405.2H183.4V419.5H183.4V592.7H183.6V280.5H183.6V502.9H183.6V476.4H183.7V419.6H183.8V338.8H183.9V418.2H183.9V469.4H184.0V306.2H184.0V505.8H184.1V449.2H184.2V371.8H184.3V407.8H184.3V422.6H184.5V463.9H184.6V691.9H184.6V417.9H184.6V441.2H184.6V388.6H185.2V402.4H185.3V360.7H185.4V414.8H185.5V627.0H185.6V276.9H185.7V351.4H185.9V409.3H186.0V403.2H186.1V328.5H186.1V362.9H186.6V459.8H186.8V487.6H186.8V388.0H187.0V465.3H187.0V432.5H187.2V601.3H187.6V506.3H187.6V381.9H187.6V530.3H187.6V376.9H187.8V472.8H187.9V537.3H188.0V464.3H188.2V381.3H188.4V444.7H189.2V577.7H189.5V269.4H189.6V445.7H189.8V516.2H190.0V509.4H190.1V563.4H190.9V405.1H191.0V487.6H191.3V565.5H191.3V391.4H191.3V612.4H191.5V460.8H191.5V429.6H191.6V431.1H192.1V338.8H192.1V403.9H192.2V403.1H192.2V503.1H192.3V497.2H192.6V436.3H193.0V454.0H193.1V472.7H193.2V396.0H193.3V420.1H193.4V455.8H193.5V457.3H193.9V427.1H193.9V381.8H194.0V394.9H194.1V513.7H194.1V529.6H194.6V476.3H194.7V587.7H194.8V448.5H195.3V338.2H195.5V495.2H195.6V446.6H195.6V478.1H195.7V524.6H195.8V457.2H196.0V518.6H196.1V441.5H196.1V406.5H196.5V394.7H196.6V478.1H197.3V336.3H197.3V388.4H197.4V375.4H197.5V524.9H197.7V487.2H197.8V452.9H197.9V495.4H198.0V498.0H198.0V446.6H198.1V424.0H198.1V529.0H198.2V477.0H198.2V530.3H198.7V431.3H198.9V387.4H198.9V378.9H199.3V556.6H199.3V412.1H199.4V529.5H199.6V404.6H199.7V560.8H199.9V542.4H200.0V475.5H200.1V462.7H200.1V330.2H200.4V523.7H200.5V376.1H200.5V479.6H200.7V427.3H201.2V517.0H201.3V337.5H201.5V442.5H201.5V502.3H201.5V449.8H201.8V456.1H202.0V491.4H202.0V557.5H202.0V471.2H202.3V365.8H202.3V403.5H202.4V385.1H202.5V509.6H202.5V464.5H202.5V415.7H202.8V348.1H202.9V394.5H203.0V269.1H203.1V368.3H203.1V391.8H203.1V492.2H203.2V572.2H203.2V409.3H203.3V472.0H203.3V521.3H203.5V434.5H203.5V430.2H203.6V457.7H203.6V448.4H203.7V391.0H203.9V387.6H203.9V397.6H204.0V537.9H204.3V477.6H204.4V404.8H204.5V366.2H204.6V426.9H204.8V468.1H205.0V481.9H205.4V488.6H205.4V452.6H205.5V418.3H205.5V460.5H205.5V447.3H205.5V341.2H205.7V421.1H206.1V292.0H206.3V388.5H206.7V398.9H206.7V447.5H206.8V336.0H206.8V383.5H206.9V343.5H206.9V419.0H207.1V420.5H207.1V417.3H207.2V572.3H207.3V435.5H207.3V498.2H207.7V431.1H207.8V335.9H207.8V453.0H207.8V422.9H207.9V482.9H208.1V405.0H208.3V434.6H208.5V401.7H208.5V567.6H208.9V397.4H208.9V439.6H209.0V469.6H209.6V378.7H209.6V541.7H209.8V577.6H209.9V567.5H210.1V433.1H210.1V559.1H210.2V406.1H210.2V467.1H210.3V415.0H210.5V417.3H210.6V497.6H210.6V463.3H210.7V354.4H210.8V475.1H211.0V477.5H211.3V461.7H211.5V362.7H211.9V369.9H212.4V374.3H212.5V453.1H212.7V418.4H213.4V464.1H213.4V477.9H213.5V406.5H213.6V554.3H213.7V474.8H214.1V534.4H214.2V481.8H214.3V501.7H214.4V290.1H214.4V453.6H214.6V434.3H214.6V260.3H214.7V606.2H214.8V535.0H214.8V409.9H215.2V494.8H215.3V464.4H215.8V427.1H215.9V487.9H215.9V480.3H215.9V367.7H216.0V525.6H216.0V511.2H216.1V463.1H216.1V553.4H216.8V501.6H217.0V510.6H217.1V415.3H217.1V480.4H217.3V409.7H217.5V341.6H218.1V308.4H218.4V519.1H218.5V589.0H218.5V458.0H218.6V482.6H218.6V346.0H219.1V461.0H219.3V384.6H219.7V252.8H220.3V493.0H220.5V571.3H220.8V420.0H220.9V482.6H221.0V380.1H221.2V358.1H221.2V527.7H222.1V422.4H222.3V466.6H222.3V456.2H222.3V623.0H222.9V524.6H223.3V533.0H223.4V456.7H223.5V521.1H223.5V417.4H223.6V377.9H223.6V331.8H223.7V517.9H224.0V446.6H224.0V408.2H224.2V440.5H224.4V249.6H224.4V451.3H224.5V483.4H224.6V359.2H224.7V410.4H224.9V445.8H225.0V495.1H225.0V340.1H225.1V396.8H225.1V444.9H225.6V438.2H225.7V391.3H225.9V364.6H226.1V447.2H226.2V424.1H226.7V500.3H226.7V425.7H226.8V385.9H226.9V494.1H227.1V521.9H227.1V597.7H227.1V393.9H227.6V326.7H227.6V483.5H227.7V409.1H227.8V399.4H227.9V562.1H228.1V403.6H228.4V416.3H228.6V409.9H228.8V278.3H229.6V433.9H229.7V391.8H229.7V409.0H229.8V411.0H230.0V473.6H230.1V450.6H230.1V427.9H230.1V435.1H230.7V591.1H230.7V443.9H230.8V515.9H230.9V358.6H230.9V457.8H230.9V526.6H230.9V436.3H231.0V552.2H231.3V528.6H231.3V419.0H231.4V280.3H231.6V497.3H231.7V503.2H231.8V495.4H231.8V357.1H231.9V421.0H232.2V481.3H232.2V382.2H232.3V278.8H232.6V412.8H232.8V519.7H232.8V412.5H232.9V403.6H233.0V476.2H233.1V498.7H233.1V381.9H233.2V684.2H233.5V422.4H233.7V468.2H233.8V414.4H233.8V378.6H234.3V411.3H234.5V480.2H234.6V486.6H234.8V417.5H235.0V411.4H235.0V472.1H235.2V475.0H235.6V460.0H235.7V426.4H236.0V458.1H236.0V533.2H236.0V475.7H236.1V525.2H236.2V399.3H236.7V252.8H236.9V631.2H237.0V412.9H237.3V458.9H237.3V477.9H237.3V349.4H237.3V448.6H237.4V477.7H237.5V381.6H237.6V455.4H237.7V373.9H237.8V562.2H238.0V405.2H238.0V397.2H238.3V416.9H238.9V352.9H239.0V500.6H239.1V382.6H239.2V461.3H239.2V547.4H239.4V396.2H239.5V454.2H239.5V325.1H239.6V339.0H239.6V426.3H239.8V424.8H240.0V513.8H240.1V371.3H240.3V526.3H240.4V550.7H240.8V456.2H241.3V467.8H241.4V426.0H241.4V443.4H241.4V457.5H241.6V461.6H241.7V433.5H242.1V516.4H242.2V483.1H242.3V411.6H242.6V429.8H242.7V455.0H242.7V374.1H243.0V391.2H243.1V402.0H243.3V374.0H243.8V518.5H243.9V430.6H244.1V424.5H244.2V466.6H244.9V478.9H244.9V357.8H245.0V335.4H245.3V480.0H245.4V421.1H245.5V471.9H245.9V441.7H245.9V397.7H246.0V386.8H246.1V412.7H246.3V431.9H246.5V417.5H246.6V450.5H246.6V471.8H246.7V494.9H246.8V401.1H246.9V383.8H247.0V380.0H247.5V375.9H248.0V436.0H248.3V494.3H248.4V455.8H248.7V450.2H248.7V473.7H249.0V543.7H249.4V486.1H249.4V540.3H249.5V421.6H249.7V392.9H249.7V476.7H249.7V440.8H250.1V457.8H250.4V559.9H250.8V417.6H251.0V273.9H251.2V350.8H251.3V423.8H251.4V396.2H251.7V385.9H251.7V406.2H251.7V290.5H251.7V414.0H251.9V618.4H252.0V409.8H252.3V348.4H252.6V515.8H252.6V409.3H252.7V426.3H252.7V485.9H252.8V455.2H252.8V484.2H252.9V418.0H253.0V478.4H253.2V407.3H253.2V402.2H253.3V441.6H253.7V567.4H253.8V462.6H253.8V392.7H253.9V398.1H253.9V416.2H254.0V552.0H254.0V444.7H254.1V387.6H254.1V470.3H254.5V360.2H254.7V334.0H254.8V463.0H254.8V497.3H254.9V543.5H254.9V453.3H255.0V405.1H255.0V398.9H255.2V330.5H255.2V489.7H255.2V355.5H255.3V396.0H255.3V357.3H255.3V411.8H255.3V313.7H255.5V545.7H255.8V422.2H255.8V478.9H255.9V515.6H256.0V375.3H256.0V322.9H256.0V416.3H256.1V576.2H256.1V368.6H256.1V459.4H256.2V349.5H256.2V370.6H256.4V533.0H256.4V467.2H256.6V522.5H256.7V476.0H256.8V421.3H257.0V473.7H257.0V543.5H257.1V362.4H257.1V536.8H257.2V435.5H257.4V487.9H257.5V463.6H257.5V407.0H257.7V436.4H257.8V371.7H257.9V469.7H258.0V375.5H258.1V440.9H258.2V460.5H258.3V495.8H258.5V468.7H258.5V477.7H258.5V478.6H258.7V411.7H258.8V379.1H258.9V483.2H258.9V485.8H259.0V441.0H259.2V434.2H259.4V469.7H259.6V491.1H259.7V441.2H259.8V461.5H260.2V507.8H260.3V511.1H260.8V382.6H260.9V485.0H261.1V533.3H261.1V560.1H261.2V461.9H261.4V417.2H261.4V465.3H261.4V478.9H261.4V422.1H261.6V439.4H262.0V393.2H262.2V269.4H262.3V516.1H262.3V443.0H262.4V586.0H262.4V537.3H262.5V484.5H262.7V437.8H262.7V465.5H262.9V535.7H263.1V409.1H263.6V440.9H263.6V581.9H263.7V490.2H263.7V430.3H263.8V502.6H263.8V405.9H263.9V406.9H263.9V382.7H264.0V563.4H264.1V543.9H264.3V502.7H264.6V500.5H264.9V387.9H265.2V395.2H265.2V494.3H265.4V328.9H265.7V395.5H266.8V462.7H266.9V448.4H267.0V465.5H267.3V412.1H267.3V464.9H267.4V424.9H267.7V455.4H267.7V471.4H268.1V394.6H268.2V358.0H268.3V440.6H268.4V459.8H268.6V341.7H268.8V566.1H268.9V468.9H268.9V491.0H269.2V422.4H269.3V472.4H269.4V373.8H269.4V307.7H269.5V434.3H269.5V416.0H269.5V588.1H269.8V504.4H269.9V568.4H269.9V449.6H270.3V411.1H270.4V519.2H270.4V345.1H270.6V464.5H271.1V377.2H271.2V305.9H271.2V376.7H271.4V335.3H271.5V531.0H271.7V477.3H271.9V522.1H272.0V397.1H272.1V450.7H272.4V436.0H272.4V378.9H272.5V434.3H272.5V398.4H272.6V374.0H272.7V295.4H272.7V478.5H272.7V339.3H272.8V486.6H272.9V437.4H272.9V541.4H273.0V453.2H273.2V296.8H273.4V343.7H273.8V442.0H273.8V361.8H273.9V384.9H274.0V456.3H274.1V489.8H274.1V475.4H274.2V415.7H274.3V518.7H274.5V345.3H274.5V488.1H274.7V393.3H274.7V416.9H274.8V398.1H274.8V523.3H274.9V388.8H275.0V487.3H275.2V439.1H275.4V386.9H275.6V537.9H275.7V473.4H276.0V432.2H276.0V395.7H276.1V567.2H276.4V590.9H276.6V500.0H276.9V468.2H277.1V459.8H277.4V598.7H277.8V419.7H277.9V366.7H277.9V456.5H278.0V396.3H278.0V621.5H278.4V453.7H278.6V481.0H278.7V489.4H278.9V527.4H279.0V555.6H279.1V364.5H279.9V434.4H280.0V528.6H280.2V407.7H280.3V446.8H280.3V518.2H280.5V498.1H280.6V486.2H280.6V541.6H280.7V526.5H280.8V324.8H281.0V458.6H281.0V316.1H281.1V454.1H281.2V408.1H281.2V525.9H281.3V402.3H281.4V383.9H281.5V313.4H281.5V397.3H281.6V415.4H281.8V443.2H281.9V539.9H282.0V397.2H282.0V504.0H282.2V424.1H282.4V399.1H282.5V478.1H283.0V392.8H283.2V275.5H283.3V364.0H283.6V398.2H284.0V470.7H284.1V415.9H284.6V474.7H284.9V456.3H285.0V500.2H285.0V427.9H285.1V626.7H285.3V509.6H285.3V363.0H285.3V512.0H285.4V409.5H286.0V456.5H286.2V286.6H286.3V520.3H286.4V464.7H286.4V422.1H286.4V523.5H287.1V506.8H287.1V507.8H287.1V429.3H287.2V344.1H287.3V375.4H287.4V388.8H287.7V496.3H287.8V428.9H287.8V478.7H287.9V403.5H288.0V585.8H288.1V547.0H288.1V364.7H288.8V660.8H289.0V404.2H289.0V403.5H289.2V443.6H289.4V419.6H289.8V390.7H289.8V422.4H290.1V406.4H290.2V494.3H290.2V481.4H290.4V534.7H290.6V496.1H290.7V314.9H290.8V487.8H290.8V421.4H291.1V493.3H291.1V475.1H291.2V404.7H291.2V429.8H291.3V513.8H291.4V466.9H291.4V382.9H291.4V442.5H291.4V374.8H291.7V347.6H291.9V416.6H292.1V411.9H292.5V530.8H292.5V391.9H292.6V516.3H292.7V417.8H292.7V310.2H292.8V357.9H292.8V453.0H293.0V409.8H293.5V446.8H293.7V428.1H294.1V450.7H294.1V407.3H294.1V395.9H294.5V420.7H294.7V422.4H294.8V498.8H295.0V386.3H295.0V337.9H295.0V381.7H295.2V402.3H295.4V338.5H295.5V378.7H295.6V413.4H296.1V430.0H296.3V501.4H296.5V310.5H296.5V433.0H296.7V270.9H297.0V484.5H297.0V433.9H297.1V389.3H297.4V462.4H297.4V457.5H297.7V399.2H297.8V396.1H297.9V552.2H298.5V469.6H298.5V365.4H298.5V403.9H298.8V449.4H298.8V563.5H298.9V437.4H299.0V416.9H299.3V418.9H299.5V325.8H299.5V437.0H299.8V539.8H299.8V367.3H299.9V428.3H299.9V479.4H300.0V422.8H300.1V385.6H300.3V428.3H300.5V457.9H300.7V448.6H301.0V430.0H301.4V448.7H301.4V430.1H301.6V504.8H301.9V490.2H302.0V351.9H302.2V428.1H302.2V345.0H302.3V575.3H302.4V407.1H302.4V425.4H302.5V462.9H302.6V397.2H302.6V477.8H302.8V564.3H302.8V384.2H302.8V519.5H302.9V411.1H303.0V417.1H303.2V425.8H303.4V467.2H303.6V462.6H304.1V423.3H304.6V468.0H304.7V374.7H305.1V424.1H305.2V466.9H305.3V415.2H305.4V401.0H305.5V387.9H305.7V618.0H305.8V475.6H306.0V483.8H306.3V393.3H306.4V449.1H306.6V616.5H306.7V525.2H306.8V410.8H306.9V479.5H306.9V525.6H307.0V386.5H307.1V460.5H307.2V405.9H307.4V510.1H307.7V387.0H307.8V525.9H308.1V357.2H308.2V425.7H308.3V366.0H308.4V548.1H308.5V458.6H308.6V585.0H308.7V480.7H309.0V362.9H309.3V408.9H309.4V420.5H309.5V367.9H309.6V464.5H309.7V327.5H309.8V322.8H309.8V604.9H309.9V384.8H310.0V484.1H310.0V494.2H310.1V438.0H310.2V361.3H310.4V473.6H310.8V370.3H311.0V420.0H311.1V464.1H311.2V412.0H311.3V437.8H311.3V364.3H311.7V345.4H311.8V412.9H312.1V406.5H312.3V421.1H312.3V454.8H312.4V412.3H312.4V528.9H312.4V503.1H312.5V427.4H312.6V292.0H312.7V424.6H312.8V441.3H312.9V398.2H312.9V486.3H313.0V464.5H313.2V535.2H313.8V494.6H313.9V421.6H314.2V624.5H314.4V394.7H314.5V430.8H314.6V504.0H314.7V504.2H315.2V325.8H315.2V449.6H315.3V435.6H315.4V420.0H315.8V433.1H315.9V434.0H316.0V400.8H316.1V396.8H316.1V389.0H316.4V477.8H316.5V518.4H316.6V496.0H316.7V485.4H316.8V246.0H317.1V547.4H317.2V579.7H317.2V401.0H317.4V494.7H317.5V492.2H317.9V418.8H318.0V468.3H318.1V481.8H318.1V352.6H318.5V495.4H318.6V598.0H318.7V437.7H318.7V412.2H318.7V432.4H318.8V427.6H319.1V544.2H319.2V467.8H319.3V431.4H319.5V511.5H319.7V344.2H320.0V476.2H320.1V458.2H320.5V416.7H320.5V526.9H320.7V492.1H320.8V387.4H321.1V450.7H321.3V290.7H321.4V451.7H321.4V458.3H321.5V566.5H321.8V415.0H321.9V434.5H322.3V409.1H322.3V422.0H322.6V464.8H322.6V351.1H322.7V411.3H323.5V540.7H323.7V407.1H324.1V449.1H324.1V396.2H324.2V394.3H324.2V453.3H324.4V514.7H324.5V525.7H324.6V337.7H324.7V425.6H324.7V444.6H324.7V430.0H324.7V451.3H324.7V487.3H324.8V475.5H325.1V416.7H325.1V362.7H325.3V453.1H325.4V462.6H325.4V477.5H325.6V692.4H325.7V312.2H325.7V511.4H325.8V381.0H325.8V375.1H326.2V406.7H326.5V451.6H326.9V419.1H327.3V434.4H327.3V407.0H327.4V491.9H327.8V272.2H327.9V464.7H327.9V461.1H328.0V410.6H328.0V320.2H328.1V400.1H328.2V496.0H328.3V393.1H328.5V335.7H328.6V400.1H328.7V379.4H328.9V528.4H328.9V374.5H329.2V383.9H329.8V493.0H329.9V484.8H330.5V403.0H330.5V431.8H330.5V389.7H330.6V415.3H330.8V446.5H330.9V368.5H331.5V453.9H331.6V315.7H331.8V287.3H331.9V546.2H332.1V488.2H332.2V383.0H332.2V440.1H332.4V466.2H332.4V571.8H332.4V504.7H332.4V361.9H332.8V535.5H332.8V492.8H333.0V515.7H333.0V374.2H333.2V569.2H333.4V499.5H333.5V593.2H333.7V395.9H333.8V543.4H333.9V360.3H334.1V367.0H334.1V441.0H335.0V639.0H335.3V517.1H335.3V462.5H335.3V310.7H335.6V382.5H335.7V397.6H336.1V487.1H336.1V467.9H336.2V466.1H336.3V502.5H336.4V396.3H336.6V531.0H336.6V410.8H336.6V441.5H336.7V405.6H336.8V264.4H336.9V504.0H336.9V502.8H337.0V384.3H337.2V447.5H337.2V521.9H337.4V489.4H337.4V412.3H337.5V402.4H337.5V474.9H337.6V416.1H337.7V401.0H337.8V510.2H337.8V416.3H337.9V457.4H338.4V391.1H338.4V421.9H338.7V413.0H338.9V435.0H339.0V446.0H339.1V383.0H339.1V308.0H339.3V413.5H339.4V420.5H339.6V489.8H339.6V501.7H339.8V443.7H340.0V371.7H340.0V357.2H340.3V542.0H340.4V454.4H340.4V497.2H340.7V375.0H340.8V461.1H340.8V427.4H341.4V387.5H341.7V525.4H341.8V331.0H341.9V421.3H342.1V433.7H342.2V487.2H342.2V493.8H342.2V531.9H342.3V619.9H342.4V425.9H342.5V412.3H342.6V278.9H342.7V540.8H342.7V445.0H342.8V457.2H343.1V460.0H343.1V406.5H343.4V398.6H343.5V480.8H343.8V425.3H343.9V411.4H344.0V573.5H344.1V453.8H344.1V404.7H344.2V360.7H344.2V427.6H344.3V450.0H344.4V469.7H344.4V522.0H344.5V400.9H344.6V444.3H344.8V478.5H344.9V528.2H345.4V484.2H345.4V400.9H345.8V452.4H345.9V620.8H346.4V523.2H346.6V398.9H346.8V364.7H346.9V569.6H347.0V336.1H347.1V417.4H347.1V337.5H347.1V421.5H347.3V492.5H347.6V611.2H348.0V499.8H348.0V365.0H348.0V355.9H348.2V386.3H348.3V461.5H348.6V445.8H349.0V451.5H349.4V445.5H349.4V443.0H349.6V550.2H349.6V327.2H349.7V274.8H349.8V334.3H349.9V548.8H350.1V494.1H350.3V471.4H350.3V369.8H350.3V404.7H350.4V371.3H350.7V395.6H350.7V415.6H350.8V443.9H350.9V374.8H351.0V410.1H351.0V426.6H351.1V428.4H351.8V347.8H351.8V394.7H352.0V463.2H352.1V521.5H352.1V400.3H352.3V492.1H352.4V408.1H352.4V397.0H352.6V390.9H352.6V397.7H352.7V409.6H352.8V579.7H353.3V623.8H353.4V482.0H353.4V422.9H353.9V410.0H353.9V475.3H354.1V408.1H354.4V478.4H354.4V439.4H354.5V369.7H354.5V449.7H354.7V334.9H354.7V485.8H354.7V412.2H354.9V552.5H355.0V342.6H355.0V446.9H355.6V377.4H355.7V504.4H355.8V421.3H355.9V490.1H356.1V481.6H356.1V382.6H356.1V305.4H356.3V298.5H356.4V527.3H357.1V369.0H357.4V497.2H357.5V419.8H357.6V407.2H357.8V379.6H357.8V453.9H358.0V550.0H358.2V329.6H358.3V412.1H358.5V514.6H358.5V429.6H358.6V461.0H358.8V510.5H358.9V448.4H358.9V269.4H359.0V310.5H359.1V391.4H359.3V279.3H359.5V472.3H359.5V499.9H359.6V507.0H359.8V476.0H359.9V445.8H360.3V408.3H360.4V407.7H360.5V449.1H360.9V260.9H360.9V480.1H361.0V351.1H361.0V400.4H361.2V433.2H361.3V432.3H361.5V462.8H361.5V409.3H361.5V493.0H362.0V297.6H362.1V434.0H362.4V424.5H362.8V593.6H363.0V489.3H363.0V391.7H363.1V450.4H363.2V424.6H363.2V357.1H363.4V389.3H363.7V394.0H364.1V495.0H364.1V581.8H364.6V344.1H364.8V532.1H364.8V338.6H365.2V390.5H365.2V517.8H365.3V343.5H365.4V404.9H365.6V511.1H366.2V451.3H366.2V423.9H366.2V551.9H366.4V473.9H366.5V410.3H366.8V329.3H366.8V504.7H366.9V473.6H366.9V467.4H367.2V510.5H367.6V455.5H367.8V374.6H368.0V476.3H368.1V463.2H368.1V537.9H368.3V462.8H368.4V469.4H368.5V395.5H368.5V493.6H368.6V617.7H369.1V444.6H369.7V469.5H370.1V490.7H370.2V327.1H370.2V436.6H370.2V439.2H370.7V465.0H370.8V290.7H370.9V394.6H370.9V547.2H370.9V449.6H371.2V477.5H371.3V517.0H372.1V460.6H372.2V501.3H372.3V529.9H372.4V473.0H372.4V319.4H372.5V351.4H372.8V474.7H372.9V397.4H372.9V588.3H373.0V504.4H373.3V496.7H373.3V464.5H373.5V450.0H373.5V479.8H373.6V328.8H374.0V489.4H374.0V507.5H374.0V503.0H374.0V454.0H374.7V439.9H375.0V509.2H375.2V470.5H375.2V400.5H375.3V461.5H375.3V453.5H375.3V540.1H376.0V348.2H376.0V459.9H376.1V459.5H376.2V421.3H376.9V482.7H377.2V465.7H377.6V436.5H377.8V362.5H378.0V438.6H378.3V328.9H378.6V426.3H378.7V551.6H378.8V406.2H379.0V474.5H379.1V508.1H379.2V484.0H379.4V315.5H379.5V342.9H380.0V388.8H380.1V391.5H380.4V321.1H380.6V392.3H380.8V483.9H381.0V543.1H381.1V499.2H381.3V450.8H381.4V496.0H381.6V529.9H381.8V508.3H381.8V481.0H382.4V480.3H383.0V423.5H383.1V388.6H383.5V357.8H383.5V428.5H383.6V432.3H383.7V443.8H384.8V500.3H385.0V310.4H385.1V535.6H385.2V500.4H385.4V610.2H385.4V398.7H385.5V393.5H385.5V546.2H385.6V438.6H385.6V405.7H386.1V426.9H386.4V414.6H386.7V544.2H386.9V386.6H386.9V419.3H387.6V475.6H387.6V517.9H387.9V463.5H388.0V519.9H388.3V424.0H388.5V455.9H388.7V520.6H388.8V378.7H389.0V450.8H389.0V331.7H389.0V494.6H389.1V521.6H389.4V518.9H389.4V395.4H389.7V409.4H389.9V371.3H390.3V450.9H390.5V384.3H390.6V412.1H390.7V389.6H391.2V425.8H391.3V477.4H391.3V449.9H391.5V403.6H391.7V449.1H391.8V464.7H391.8V415.0H392.5V499.8H392.7V464.7H392.8V306.9H392.8V421.2H392.9V416.7H393.0V392.3H393.1V459.0H393.1V477.5H393.1V411.0H393.1V618.3H393.2V377.5H393.5V563.2H393.5V436.2H393.6V465.5H393.7V512.3H393.9V423.8H394.2V526.8H394.2V287.5H394.3V390.0H394.7V430.4H395.4V515.6H395.6V556.9H396.0V436.2H396.2V481.7H396.3V423.9H396.4V362.7H396.5V415.5H396.5V421.1H396.6V388.5H396.8V422.1H397.3V492.7H397.3V458.5H397.3V320.8H397.4V335.7H397.6V483.3H397.6V383.7H397.8V511.6H398.0V490.0H398.2V400.6H398.3V484.4H398.3V367.2H398.3V387.4H398.5V465.0H398.5V402.5H398.6V501.1H398.7V446.8H398.9V277.6H398.9V488.5H399.5V535.7H399.5V434.2H399.6V489.5H399.9V323.4H400.4V424.7H400.5V406.1H400.7V523.2H400.7V354.8H400.8V428.6H401.0V533.0H401.3V541.5H401.5V388.0H401.5V464.6H401.7V302.7H401.8V355.6H401.9V429.1H401.9V551.0H401.9V491.3H402.5V523.2H402.5V410.0H402.8V473.9H403.0V361.7H403.2V485.0H403.5V524.2H403.8V401.7H404.1V343.3H404.3V378.2H404.5V471.3H404.5V387.0H404.5V461.7H404.6V451.7H405.0V414.6H405.2V573.8H405.3V501.4H405.4V492.1H405.5V509.4H405.5V326.4H405.6V411.6H405.6V472.0H405.7V411.3H405.8V317.3H405.8V389.1H406.1V417.6H406.2V348.7H406.5V427.6H406.5V465.5H406.5V468.7H406.8V404.3H406.9V371.4H407.1V534.0H407.2V520.4H407.7V398.9H407.8V518.6H407.8V529.1H407.9V452.5H408.2V444.5H408.4V488.0H408.4V346.9H408.8V436.1H409.0V414.8H409.8V442.1H409.9V526.0H409.9V355.6H410.0V545.2H410.3V407.7H410.7V464.2H411.2V463.2H411.7V415.7H411.8V383.0H411.9V596.1H412.0V378.3H412.3V427.5H412.4V492.1H412.6V485.8H412.8V500.8H412.8V516.8H412.9V376.8H412.9V421.6H413.1V358.2H413.1V412.6H413.2V493.2H413.4V413.0H413.5V524.5H413.6V457.3H413.7V607.9H414.0V591.4H414.2V507.3H414.2V427.7H414.7V428.3H414.7V612.5H414.8V495.4H414.8V451.2H414.8V475.4H414.9V536.4H415.1V376.5H415.1V403.6H415.3V379.6H415.3V388.2H415.4V475.1H415.4V494.3H415.4V329.2H415.8V369.7H416.1V441.7H416.3V423.0H416.7V431.8H417.0V458.0H417.4V429.2H417.7V447.5H417.7V403.6H417.8V428.5H417.8V335.9H417.8V511.7H417.9V454.5H418.6V373.1H418.7V386.9H418.8V421.9H419.0V499.1H419.0V536.1H419.2V480.6H419.2V465.9H419.5V429.0H419.5V412.2H419.6V420.0H419.8V380.2H419.9V477.0H420.0V481.2H420.1V402.2H420.3V527.3H420.7V371.3H420.7V368.0H420.9V469.6H420.9V301.8H421.1V433.3H421.1V592.3H421.2V495.7H421.3V414.3H421.7V419.8H421.9V525.8H422.1V477.3H422.6V576.9H422.7V439.2H422.8V353.3H422.9V471.0H423.0V520.4H423.0V388.7H423.1V580.9H423.4V443.8H423.4V404.3H423.6V463.5H423.7V304.6H423.9V410.6H424.0V429.6H424.5V285.6H424.7V441.9H424.8V410.2H424.8V419.3H424.8V540.5H425.1V604.7H425.2V440.5H425.3V608.5H425.6V496.9H425.8V372.6H425.9V421.4H426.0V385.9H426.1V428.2H426.4V343.2H426.5V436.5H426.7V459.8H426.7V368.4H426.8V440.9H427.0V405.1H427.0V477.0H427.2V421.6H427.3V480.2H427.5V424.3H427.5V506.7H427.6V453.8H427.7V427.5H427.9V424.0H428.0V361.5H428.4V411.7H428.4V486.4H428.6V493.9H428.8V456.5H429.0V443.1H429.3V381.0H429.4V486.5H429.4V407.3H429.5V553.0H429.7V448.9H429.7V306.3H430.1V462.9H430.1V490.0H430.2V443.3H430.4V478.0H430.5V323.7H430.5V409.3H430.8V329.6H430.8V341.6H431.0V413.2H431.4V431.1H431.4V431.0H431.9V374.3H432.0V384.8H432.2V350.6H432.4V446.4H433.1V408.1H433.2V469.8H433.5V576.6H433.6V505.5H433.7V589.9H433.8V489.5H433.9V464.6H434.1V481.3H434.1V453.1H434.1V417.0H434.1V421.1H434.2V399.3H434.3V360.8H434.4V490.1H434.4V403.9H434.5V408.0H435.1V441.4H435.3V417.1H435.4V501.3H435.6V446.3H435.6V520.9H435.7V460.6H435.7V393.6H435.9V455.6H436.0V384.8H436.0V408.9H436.3V450.3H436.4V461.7H436.5V467.0H436.6V470.1H436.8V445.4H437.4V371.4H437.4V427.1H437.5V399.4H437.6V470.1H437.6V313.8H437.7V468.0H437.8V401.7H438.2V394.1H438.4V448.4H438.4V404.3H438.4V441.9H438.5V392.8H438.6V374.2H438.7V308.4H439.0V419.4H439.0V508.0H439.2V511.4H439.2V441.0H439.4V555.6H440.1V510.4H440.2V428.2H440.4V432.6H440.4V479.4H440.5V423.7H440.7V472.2H441.0V465.4H441.2V483.9H441.4V358.7H441.5V414.7H441.5V436.6H441.9V423.7H442.0V397.4H442.1V420.9H442.2V473.4H442.2V431.3H442.3V377.2H442.4V480.6H442.7V528.5H442.8V380.9H442.8V521.4H442.9V476.2H442.9V439.8H442.9V475.6H442.9V418.3H443.2V484.0H443.3V475.3H443.4V424.4H443.6V454.2H443.7V421.2H444.0V421.4H444.3V403.0H444.3V383.1H444.3V394.3H444.5V477.0H444.9V514.8H445.0V365.7H445.1V460.1H445.2V523.1H445.3V405.9H445.4V388.9H445.7V326.2H446.0V464.5H446.6V459.0H446.6V520.7H446.9V421.8H447.4V394.5H447.8V438.3H448.0V394.5H448.1V411.9H448.1V403.9H448.2V436.7H448.3V455.8H448.6V296.7H448.9V473.0H449.0V487.8H449.0V471.4H449.6V470.9H449.8V520.0H450.5V477.7H450.9V431.6H451.6V465.4H452.0V403.1H452.2V467.0H452.3V404.2H452.3V430.7H452.5V465.7H452.5V443.0H452.6V434.6H452.8V475.7H453.2V391.9H453.3V493.4H453.3V407.8H453.6V486.5H453.7V373.6H453.7V357.0H453.8V423.7H453.9V391.8H454.1V542.0H454.2V407.8H454.5V528.5H454.7V487.4H454.8V386.5H455.4V408.1H455.4V487.7H455.7V431.4H455.8V365.8H456.0V407.3H456.2V473.2H456.3V402.6H456.3V428.5H456.4V421.9H456.4V561.0H456.8V375.8H457.1V443.8H457.5V350.9H457.6V504.6H457.6V355.7H457.6V512.5H457.7V370.9H458.0V514.9H458.2V386.2H458.4V430.8H458.5V448.6H458.5V527.7H458.6V266.4H458.8V519.0H459.2V464.3H459.5V461.1H459.7V465.2H459.8V467.3H459.8V454.8H460.0V460.4H460.3V417.6H460.4V535.2H460.4V452.8H460.4V432.0H460.5V497.1H460.6V440.4H460.7V422.2H460.7V477.1H460.8V424.9H461.3V297.5H461.5V443.1H461.5V471.3H461.9V530.8H462.9V421.8H463.3V320.5H463.5V529.9H463.5V399.7H463.7V441.9H463.8V377.6H463.9V418.1H464.0V442.7H464.1V409.7H464.2V469.8H464.6V474.6H465.1V422.1H465.1V454.4H465.2V502.5H465.2V546.5H465.5V406.7H465.5V460.2H465.7V594.8H466.1V482.9H466.2V417.0H467.0V454.5H467.0V444.2H467.1V391.9H467.6V487.5H467.8V405.4H467.9V360.5H468.2V386.5H468.3V379.6H468.6V461.5H468.7V488.0H468.7V404.0H468.8V425.0H468.9V448.8H468.9V478.2H469.2V482.2H469.2V466.1H469.4V412.0H469.5V364.1H469.5V366.1H469.5V434.2H469.6V418.1H469.6V456.0H469.9V438.4H470.4V536.5H470.4V409.2H470.5V346.9H470.7V452.4H471.5V426.7H471.5V384.0H471.6V411.9H472.1V422.0H472.1V429.0H472.2V350.3H472.2V459.8H472.3V466.3H472.4V432.9H472.5V359.0H472.5V366.0H472.5V489.4H472.8V452.2H472.8V342.9H473.0V475.9H473.1V468.7H473.1V411.3H473.1V442.8H473.2V419.7H473.2V461.1H473.2V394.8H473.9V387.4H473.9V417.7H474.4V439.9H474.9V451.4H475.3V428.8H475.3V416.0H475.9V459.2H475.9V369.0H476.2V428.5H476.4V320.0H476.4V458.2H476.5V401.2H477.1V476.8H477.3V478.8H477.4V468.6H477.5V379.0H477.8V561.4H478.1V414.9H478.1V424.3H478.2V357.9H478.4V455.3H478.5V430.9H479.0V432.2H479.0V555.7H479.0V413.6H479.1V315.1H479.1V461.9H479.3V301.2H479.4V493.8H479.4V420.8H479.5V414.9H479.6V484.6H479.7V473.6H479.8V449.1H479.9V393.1H480.2V428.6H480.2V392.1H480.2V515.7H480.4V417.8H480.5V515.7H480.6V397.6H480.8V382.1H480.8V433.7H481.3V346.1H481.5V436.8H481.5V370.7H481.8V421.7H481.9V496.8H481.9V418.8H482.3V483.9H482.5V394.8H482.5V364.6H482.6V477.9H483.1V423.9H483.5V377.1H483.5V509.4H483.9V444.9H483.9V325.2H484.0V489.6H484.3V436.1H484.3V433.1H484.3V405.8H484.8V490.5H485.0V515.8H485.1V344.6H485.1V384.1H485.2V461.6H485.3V377.5H485.3V483.4H485.8V411.1H486.7V524.6H486.9V411.4H487.0V493.8H487.0V369.9H487.1V380.1H487.3V435.9H487.7V419.0H488.1V360.6H488.2V404.7H488.2V570.1H488.4V409.3H488.4V507.8H488.4V385.3H488.7V383.5H488.8V426.6H489.0V391.6H489.1V303.8H489.2V490.3H489.2V472.2H489.5V487.2H489.5V475.9H489.7V446.8H489.7V496.1H489.8V435.6H489.9V528.1H490.0V425.5H490.1V534.7H490.8V402.7H491.0V461.9H491.3V388.5H491.4V373.4H491.6V346.6H491.8V414.3H491.8V425.2H491.9V456.6H492.3V484.4H492.3V423.6H492.3V465.1H492.3V430.1H492.4V456.4H492.6V488.6H493.0V367.5H493.1V321.3H493.1V483.7H493.3V398.3H493.4V490.3H493.7V476.3H493.7V395.2H493.9V501.4H493.9V477.2H494.1V425.3H494.8V505.2H495.2V443.5H495.3V448.2H495.4V424.0H495.7V406.8H495.7V371.1H495.8V489.4H495.9V454.4H496.2V420.8H496.3V510.7H496.4V411.0H496.6V416.7H496.6V396.0H496.7V597.1H496.8V454.8H497.3V511.4H497.4V564.5H497.8V421.9H497.9V321.1H498.0V392.4H498.3V553.5H498.4V374.8H498.5V410.0H499.0V458.5H499.0V454.2H499.1V373.9H499.2V400.3H499.4V433.7H499.4V420.2H499.6V517.4H499.6V573.7H499.6V404.3H499.8V419.8H499.9V428.2H499.9V553.7H499.9V509.2H500.0V531.8H500.0V456.5H500.0V413.6H500.3V391.2H500.5V491.5H500.7V401.6H500.7V590.2H500.8V437.8H501.1V445.5H501.4V553.4H501.4V389.7H501.9V401.0H502.5V403.4H502.8V385.4H503.0V508.7H503.2V417.5H503.2V431.3H503.3V348.5H503.3V562.3H503.4V526.4H504.0V384.3H504.0V518.7H504.1V415.8H504.4V451.6H504.6V375.7H504.8V400.9H505.0V554.2H505.3V479.1H505.5V475.8H505.7V515.3H505.7V524.4H505.7V412.6H505.9V480.2H506.5V417.1H506.6V481.2H506.7V526.0H506.7V450.5H506.9V422.0H507.1V384.8H507.8V438.2H508.3V370.1H508.5V438.0H508.5V384.1H508.7V458.0H508.8V471.0H509.0V408.5H510.0V546.8H510.0V405.0H510.0V479.7H510.4V390.1H510.5V428.1H510.7V431.8H511.0V466.7H511.0V468.6H511.1V417.4H511.3V334.6H511.4V527.5H511.4V436.7H511.7V466.2H511.8V430.2H512.1V479.4H513.0V501.7H513.1V405.8H513.2V469.7H513.4V387.9H513.4V444.0H513.5V473.5H513.6V485.3H513.6V430.2H513.6V448.0H513.7V356.5H514.0V429.5H514.2V437.8H514.7V479.3H514.9V394.9H514.9V477.0H514.9V401.9H515.1V456.5H515.1V400.5H515.2V354.1H515.3V526.2H515.4V510.3H515.7V450.8H515.9V404.1H515.9V330.2H515.9V388.0H515.9V547.8H516.4V453.9H516.5V441.9H516.5V380.5H516.6V584.0H516.7V478.8H516.9V383.0H517.3V415.3H517.3V310.0H518.1V463.2H518.2V479.1H518.5V411.2H518.6V380.2H518.7V422.5H518.8V459.4H518.9V374.9H518.9V387.3H519.1V395.6H519.1V350.5H519.3V453.7H519.4V331.4H520.1V454.7H520.3V467.4H520.7V459.5H520.9V480.9H521.0V291.4H521.0V443.0H521.2V437.9H521.3V512.0H521.5V390.3H521.6V488.8H521.9V438.0H522.1V479.6H522.1V491.1H523.0V352.8H523.6V434.1H523.7V542.4H523.7V419.7H523.7V411.2H524.0V465.5H524.1V410.8H524.4V460.3H524.5V382.1H524.7V414.9H524.7V379.2H524.8V517.7H525.1V427.3H525.2V361.2H525.6V497.0H526.9V347.8H527.0V403.4H527.3V478.0H527.4V410.3H527.4H527.7V446.5H527.9V383.3H528.4V450.3H528.5V490.3H528.5V385.0H528.8V458.9H529.2V311.8H529.3V450.7H529.3V498.4H529.6V466.8H530.0V460.3H530.1V419.1H530.4V426.3H530.7V393.4H530.7V420.8H530.7V372.7H530.9V390.6H531.4V439.6H531.6V423.8H532.0V468.0H532.0V445.9H532.1V477.1H532.2V425.0H532.5V497.7H532.6V441.4H532.7V389.0H533.0V462.9H533.2V569.9H533.3V479.1H533.4V516.6H533.5V454.3H533.8V493.2H533.9V426.6H534.3V507.3H534.3V421.9H534.3V454.7H534.7V463.5H534.7V497.1H534.7V412.6H534.9V520.5H536.1V448.7H536.9V498.0H537.1V520.0H537.1V383.3H537.2V414.0H537.2V399.7H537.4V425.5H537.5V464.0H537.8V386.6H537.9V407.3H537.9V510.4H537.9V463.6H538.0V437.4H538.0V453.7H538.3V500.1H538.3V341.0H538.3V477.1H538.7V535.1H538.8V470.8H538.9V452.8H539.0V392.3H539.3V556.6H539.9V483.9H540.0V473.9H540.1V462.6H540.8V425.2H540.9V397.2H541.0V356.0H541.2V387.2H541.2V334.1H541.3V488.2H542.2V422.9H542.2V458.7H542.4V474.0H542.6V485.5H542.7V373.8H543.1V527.6H543.5V380.4H543.8V423.3H543.8V392.5H543.8V397.5H543.8V531.1H544.1V448.7H544.1V475.5H544.2V442.0H544.2V432.3H544.2V425.0H544.4V451.6H544.5V458.4H544.5V413.5H544.8V498.8H545.5V576.9H545.5V450.4H545.5V409.9H546.2V397.0H546.3V473.8H546.3V418.7H546.6V452.1H546.7V472.8H546.7V369.4H547.1V446.9H547.4V455.7H547.7V402.7H547.9V523.8H548.0V319.1H548.9V418.6H549.0V512.6H549.1V455.1H549.1V461.9H549.3V377.5H549.4V451.9H549.8V414.6H550.1V388.4H550.1V466.4H550.4V315.1H550.5V494.4H550.6V477.4H550.9V417.7H551.0V486.2H551.1V543.6H551.1V379.6H551.5V471.9H551.5V466.6H551.6V430.7H551.8V506.8H551.9V398.7H552.3V422.0H552.3V472.2H552.5V469.6H552.9V497.1H552.9V416.1H553.3V423.9H553.5V524.4H553.7V445.5H553.8V338.2H553.8V486.6H553.9V371.0H554.1V468.4H554.7V495.7H554.8V494.7H554.8V389.7H554.9V490.3H555.4V465.9H556.0V401.7H556.4V426.9H556.6V410.7H556.9V435.8H556.9V370.1H557.1V412.4H557.3V407.8H557.3V497.0H557.4V334.6H557.6V402.8H557.8V396.3H557.9V390.2H558.1V458.1H558.1V401.3H558.2V425.3H558.2V485.3H558.5V454.7H558.7V346.2H559.2V448.5H559.6V492.7H559.6V402.3H559.6V454.7H559.8V418.7H560.2V467.0H560.5V495.1H560.6V494.2H560.7V387.3H560.8V408.7H561.8V486.6H561.8V357.5H562.2V370.7H562.2V489.9H562.6V421.3H562.8V453.3H562.8V307.3H563.0V351.1H563.3V426.4H563.4V456.5H564.5V480.3H564.6V419.1H564.6V435.0H564.6V445.8H565.0V426.7H565.0V367.1H565.0V493.0H565.1V361.0H565.3V471.3H565.3V326.9H565.5V406.2H565.6V431.0H565.9V335.7H566.2V472.5H566.3V507.2H566.4V447.8H566.5V493.4H566.8V425.9H567.0V416.5H567.2V472.2H567.9V423.4H567.9V463.5H568.0V472.4H568.0V467.1H568.2V415.2H568.5V394.4H568.6V420.6H568.9V415.3H569.0V479.2H569.6V399.6H569.8V449.6H570.0V418.3H570.2V391.7H570.4V462.0H571.0V409.0H571.0V422.3H571.2V401.3H571.3V455.5H571.3V363.5H571.5V500.8H571.7V479.8H571.8V447.6H571.9V392.2H572.1V424.8H572.3V534.1H572.4V407.2H572.9V521.4H572.9V542.0H573.0V272.6H573.3V435.4H573.6V487.8H573.8V376.6H573.8V443.5H573.8V373.1H574.4V338.6H574.5V282.7H574.6V497.5H574.9V473.5H575.0V391.3H575.1V493.6H575.2V427.1H575.4V499.3H575.5V486.3H575.5V503.5H575.6V478.3H576.7V398.2H576.7V495.0H577.1V464.9H577.9V420.6H578.1V445.1H578.1V323.7H578.8V400.1H579.6V401.4H579.7V470.8H580.1V557.7H580.1V494.6H580.3V449.1H580.5V372.9H580.6V444.4H580.6V322.8H581.3V421.0H582.7V448.0H582.9V438.8H583.4V374.6H584.8V433.1H584.9V458.0H585.3V405.9H585.3V475.6H585.6V360.6H585.7V416.1H585.8V502.2H586.1V414.3H586.2V398.0H586.2V457.2H586.5V437.3H586.6V475.9H587.0V476.8H587.1V434.3H587.1V442.3H587.1V436.3H587.2V493.6H587.3V574.7H588.0V406.0H588.5V461.3H588.8V421.5H588.8V412.5H588.8V430.6H588.9V416.2H589.1V427.2H589.2V410.1H589.5V440.4H589.7V445.5H590.3V450.3H590.3V423.9H591.2V372.8H591.2V478.7H591.4V441.0H591.5V431.4H592.2V513.8H592.3V398.3H592.5V454.1H592.6V441.4H592.8V394.8H592.8V489.3H593.1V409.6H593.4V485.1H593.5V549.7H593.7V505.2H594.0V403.6H594.2V452.0H594.7V430.4H596.2V456.8H596.3V387.5H596.7V459.8H596.8V442.3H596.9V379.0H596.9V507.7H596.9V493.9H597.0V424.3H597.1V496.0H597.4V459.3H597.8V427.4H598.3V526.0H598.4V496.6H598.5V464.5H598.7V368.8H598.9V393.9H599.1V431.9H599.4V456.2H599.6V419.3H600.2V410.5H600.5V439.9H600.5V384.6H600.6V446.5H600.6V415.6H600.9V413.2H601.0V398.0H601.1V448.0H601.2V470.8H601.3V426.9H601.4V494.3H601.5V441.3H601.6V431.8H602.0V403.7H602.0V397.2H602.0V478.1H602.6V422.2H603.1V427.9H603.1V419.8H603.2V475.8H603.3V455.2H603.6V447.9H604.3V543.0H604.3V486.7H604.4V468.0H604.8V412.5H604.8V388.9H605.1V540.6H605.2V481.9H605.3V422.2H605.5V449.2H605.6V435.6H605.8V497.9H606.0V451.8H606.4V418.2H606.6V484.7H606.7V428.0H606.8V434.9H606.9V454.1H607.0V383.9H607.3V485.6H608.1V399.8H608.4V406.1H608.7V441.4H609.8V455.9H610.0V480.7H610.0V385.5H610.2V443.3H610.6V426.8H610.8V442.8H610.9V352.9H611.2V418.5H611.5V451.4H611.8V456.4H611.8V415.0H612.0V427.0H612.8V406.6H613.5V482.7H613.7V426.2H613.7V444.3H613.9V427.9H614.3V421.8H615.8V381.0H615.8V454.1H616.0V496.3H616.3V366.6H616.5V398.6H616.8V424.6H616.8V450.9H616.9V420.7H617.3V400.0H617.4V435.8H617.7V453.7H618.2V426.2H618.3V395.5H618.4V458.0H618.4V437.7H618.4V432.6H618.6V468.7H618.6V403.3H618.9V426.3H619.1V479.8H619.3V432.0H619.8V403.3H620.3V423.3H620.4V441.0H620.5V439.9H620.8V482.9H620.8V357.7H621.0V465.7H621.1V423.4H621.2V458.6H621.7V459.3H621.8V385.4H622.0V429.7H622.5V447.1H622.8V471.6H623.7V448.6H624.1V466.8H624.6V524.1H624.6V456.9H625.6V476.9H625.6V433.6H626.1V408.3H626.9V419.6H626.9V493.4H627.2V382.6H627.3V465.9H627.4V426.3H627.7V479.1H627.9V417.3H628.0V401.3H628.2V322.2H628.5V478.9H628.7V417.9H628.9V407.8H629.2V390.5H629.5V506.6H629.8V424.8H629.9V431.5H630.4V448.7H631.2V454.1H631.2V376.7H631.5V446.7H631.6V418.0H631.9V415.1H632.0V484.9H632.0V398.0H632.4V414.7H632.7V359.1H632.8V443.3H633.0V426.3H633.0V507.8H633.4V403.9H633.5V416.2H633.5V391.6H633.9V425.0H634.1V423.5H634.2V429.8H634.8V451.1H635.1V465.4H635.2V421.0H635.7V393.1H635.8V426.1H635.9V330.5H636.1V413.6H636.2V440.0H636.5V453.1H637.3V544.7H637.4V493.8H637.7V456.7H637.9V438.3H638.1V457.3H638.3V463.2H638.4V354.2H638.7V396.6H638.9V448.7H639.2V381.7H639.3V421.3H640.0V490.3H640.5V453.3H640.7V533.4H641.1V417.2H641.4V457.2H641.8V354.9H641.9V504.1H642.0V442.4H642.6V408.0H642.7V416.8H642.7V457.0H642.8V415.2H642.9V417.4H643.1V456.3H643.2V489.2H643.2V449.2H643.9V418.6H645.4V434.4H645.8V477.1H645.8V519.6H646.3V443.5H646.7V456.6H646.8V460.0H646.9V415.0H646.9V433.9H647.3V421.5H647.5V479.0H647.7V430.7H647.9V454.3H647.9V477.3H648.4V403.8H648.6V449.3H648.7V412.7H648.8V396.9H648.8V452.8H648.8V452.6H648.8V383.4H649.6V387.0H649.9V471.8H650.0V417.3H650.4V441.4H650.5V442.6H650.9V416.0H651.2V452.1H652.0V474.1H652.3V451.0H652.4V439.6H652.5V403.4H652.7V422.1H653.0V396.7H653.1V416.1H653.2V528.1H653.8V443.0H653.8V404.2H653.8V456.9H653.8V427.0H654.1V347.6H654.9V464.7H655.4V429.0H655.7V504.9H655.9V435.0H656.2V516.7H656.8V428.5H657.5V514.7H657.7V450.5H657.9V447.3H657.9V404.6H658.1V397.3H658.2V397.4H658.5V466.5H658.7V466.9H659.2V422.7H659.3V408.1H659.5V328.8H659.7V443.8H659.7V408.4H660.0V423.7H660.3V383.8H660.5V414.7H660.6V380.8H660.8V402.4H661.2V375.4H661.4V430.7H662.2V395.9H662.4V492.1H662.6V464.0H663.2V385.2H663.3V442.8H663.3V449.9H663.3V443.4H664.3V451.7H664.4V442.5H664.6V444.6H664.7V486.5H664.9V462.7H664.9V499.8H665.7V405.3H665.9V427.0H666.0V419.8H666.0V413.8H666.3V486.4H667.4V444.8H667.9V481.0H668.2V433.9H668.8V398.3H669.1V420.1H669.8V466.5H670.3V495.4H670.4V447.8H670.6V445.2H671.0V452.2H671.4V395.7H671.6V407.6H672.4V405.6H672.5V419.7H672.5V422.5H672.9V441.6H673.0V442.2H673.3V451.5H673.6V343.6H673.8V420.4H673.9V445.9H674.1V387.4H674.2V377.4H675.2V451.6H675.2V453.3H675.4V401.5H675.5V483.9H675.8V435.4H675.8V395.0H676.1V469.4H676.4V469.3H677.2V420.9H677.3V485.2H677.3V406.2H677.7V439.4H677.9V392.0H677.9V442.1H677.9V464.8H678.0V446.9H678.1V434.3H678.7V466.7H678.8V430.7H679.4V382.1H679.6V473.3H680.2V452.7H680.2V389.3H680.2V364.6H680.5V413.4H680.7V488.5H680.7V400.3H680.8V448.4H681.3V378.9H681.4V480.1H682.0V490.3H682.1V450.1H682.8V491.6H682.8V430.7H683.6V450.0H683.7V457.3H683.7V459.4H684.1V483.2H685.0V494.8H685.3V476.6H686.2V446.1H686.3V433.7H686.5V537.0H686.6V462.4H686.6V458.4H686.6V518.0H687.6V472.6H687.7V405.0H688.6V425.0H688.6V441.7H688.6V414.5H688.8V443.9H688.8V553.7H689.3V480.6H691.2V470.1H693.4V425.2H693.8V495.3H693.9V428.0H695.3V426.8H695.3V472.3H695.5V476.6H695.6V428.5H695.9V465.0H696.3V432.2H696.5V411.6H697.2V459.4H697.2V466.6H697.9V450.2H698.2V468.5H698.4V430.3H698.4V416.2H698.5V438.3H698.6V466.3H698.9V337.5H699.0V435.3H699.6V456.3H699.9V373.7H700.2V439.9H700.4V426.6H700.8V466.0H701.0V477.2H701.2V438.4H701.8V480.1H701.9V416.8H702.5V456.4H703.4V476.2H703.5V456.1H703.9V465.0H704.5V429.9H704.6V432.8H705.0V405.2H705.1V335.7H705.8V318.1H705.9V443.9H705.9V462.1H706.0V458.4H706.4V486.9H706.4V354.2H707.0V434.3H707.5V403.3H708.0V435.5H708.0V397.7H708.1V514.3H708.2V426.0H709.1V442.4H709.3V462.2H709.8V401.8H709.9V462.9H710.0V486.4H710.1V515.9H710.1V413.8H710.1V450.4H710.3V427.5H711.3V433.4H712.0V475.8H712.1V440.6H712.2V455.2H712.3V428.6H712.4V477.1H713.2V407.6H714.1V423.5H715.5V423.0H716.3V420.6H717.7V445.8H718.1V513.2H718.1V379.8H718.3V465.1H718.7V513.1H718.8V386.4H719.2V451.6H719.4V462.2H719.4V436.6H721.1V467.2H721.4V466.9H721.6V481.2H722.0V412.0H722.3V418.5H722.3V437.6H722.3V357.6H723.2V427.5H723.3V464.7H723.9V495.8H724.3V489.8H724.7V485.4H725.0V422.2H725.0V423.5H725.5V452.7H725.7V480.7H726.0V390.9H726.5V495.5H726.6V511.6H726.8V452.0H727.1V470.5H727.6V395.9H727.8V478.4H727.9V378.6H727.9V473.7H728.3V448.0H728.3V441.8H728.5V507.7H729.9V415.6H730.8V403.2H730.9V479.4H730.9V410.9H731.0V413.9H731.2V433.6H733.8V420.0H734.6V393.2H734.7V496.1H737.8V403.0H738.0V482.6H741.1V416.4H742.9V476.1H743.9V468.2H745.8V467.6H746.0V497.0H746.9V455.9H748.5V481.0H749.7V441.4H754.4V484.8H754.9V420.9H755.9V451.5H757.1V459.2H757.2V409.4H759.2V407.2H759.2V538.9H760.3V441.6H761.7V333.5H761.7V501.7H762.7V502.5H762.8V446.3H763.6V442.2H763.8V454.7H764.8V474.1H764.8V406.7H765.0V424.6H765.4V434.8H766.1V426.3H766.6V446.3H767.5V390.2H767.8V472.4H767.9V452.3H768.0V416.5H768.2V501.5H768.5V424.7H770.0V451.2H770.1V443.6H772.7V460.8H773.0V476.0H773.1V435.6H774.1V484.0H774.4V455.9H775.3V441.0H775.5V455.4H776.1V413.6H778.2V453.0H778.3V371.6H778.8V439.4H779.2V441.4H781.0V429.7H783.1V473.7H783.2V450.0H784.0V384.2H786.0V424.3H786.3V417.2H787.0V426.5H787.0V406.1H787.2V463.8H789.4V422.0H789.8V430.9H791.0V434.5H792.3V506.4H792.8V437.3H795.1V393.6H796.3V485.3H797.5V422.4H800.5V434.7H802.9V402.0H803.9V453.8H804.2V432.3H806.4V467.8H806.6V487.3H809.4V406.4H809.8V410.1H809.9V472.1H810.1V343.5H810.4V489.6H811.3V497.7H812.3V390.5H812.4V503.8H812.6V353.4H812.7V481.1H813.2V543.8H814.5V432.8H814.6V447.4H814.9V463.8H815.1V401.4H816.0V453.6H816.3V490.2H816.5V419.6H816.8V420.5H817.7V473.5H818.1V432.2H818.5V405.1H818.9V433.1H819.0V343.0H819.7V428.6H820.3V500.7H821.0V434.0H821.1V432.8H821.2V456.0H823.3V405.8H825.0V471.8H825.1V439.0H825.3V407.8H825.5V490.4H825.8V342.7H826.7V519.3H827.4V410.2H827.8V423.7H828.2V405.7H829.2V408.3H829.4V461.1H830.1V472.4H831.2V488.3H831.5V339.8H831.6V457.6H831.8V452.8H831.9V439.7H832.1V434.9H832.2V391.5H832.3V390.0H832.4V448.9H832.5V386.4H832.5V355.6H832.8V424.5H833.0V468.5H833.3V452.9H834.8V372.7H836.3V431.9H836.5V446.3H837.6V401.3H838.0V437.5H838.0V394.8H838.2V467.7H839.8V434.2H841.7V366.5H842.5V408.5H843.5V440.4H843.7V444.4H844.2V444.0H845.9V385.7H846.0V448.3H846.5V484.0H847.1V461.6H850.0V440.8H850.0V452.1H850.2V517.2H850.2V398.0H850.5V432.6H850.9V387.1H851.3V471.3H851.9V416.8H852.6V382.2H852.6V450.7H853.3V424.3H853.3V431.2H854.4V451.8H854.4V430.7H854.9V469.1H855.0V392.2H857.5V471.1H859.3V507.4H860.2V542.8H860.3V433.1H860.4V434.4H860.5V476.8H861.1V484.4H861.2V419.1H861.6V371.0H861.9V418.2H861.9H862.8V423.8H863.0V382.2H863.4V446.2H863.6V432.5H863.8V435.3H864.1V425.3H864.4V441.6H864.6V495.6H864.6V516.5H866.5V430.2H866.9V540.6H866.9V431.5H867.8V438.8H868.7V491.1H868.7V475.8H869.3V487.3H872.3V428.0H873.4V451.7H873.8V446.8H874.0V403.3H874.1V465.1H874.4V461.3H874.4V450.1H874.5V472.7H876.6V350.1H876.7V435.4H877.0V441.7H878.1V341.6H878.7V404.9H879.6V453.0H883.5V505.5H883.6V494.1H884.3V534.2H885.5V429.5H885.9V370.2H886.1V484.5H887.7V466.1H889.3V427.4H890.4V428.2H891.9V483.5H892.8V549.7H893.1V426.0H893.6V467.8H894.3V424.9H895.8V461.0H896.2V433.3H896.8V446.7H897.3V438.3H897.4V430.9H897.6V459.6H898.0V432.9H898.2V392.8H898.9V368.7H899.2V482.4H899.3V418.2H899.6V400.2H900.9V548.3H901.2V460.4H901.6V413.8H901.7V461.2H901.7V401.1H901.8V396.9H903.3V404.6H903.3V409.6H903.9V514.6H904.3V503.9H904.8V400.0H904.9V418.3H905.0V452.9H905.1V499.1H906.8V502.1H906.9V466.3H908.5V437.8H909.4V422.2H910.9V436.2H911.2V452.0H911.2V467.7H913.0V457.5H913.5V476.1H913.6V450.1H916.1V425.6H917.2V471.3H917.4V414.6H918.1V400.4H919.5V406.3H919.9V433.7H920.7V441.2H921.5V439.0H921.6V380.0H923.1V441.8H927.1V408.4H927.8V419.1H930.0V407.8H930.6V448.7H930.7V406.9H933.0V477.1H934.5V436.7H934.9V456.2H935.0V414.2H936.3V431.6H938.0V415.2H938.5V455.5H941.1V438.1H941.8V427.5H943.5V415.3H944.1V441.5H944.3V384.1H944.6V494.4H945.3V461.6H945.6V443.4H948.1V453.5H949.8V445.9H950.1V432.1H950.3V507.2H951.3V437.2H951.7V409.8H952.1V435.8H952.5V439.1H953.2V442.2H953.8V437.1H954.1V438.0H955.9V438.7H957.6V494.4H957.7V454.0H961.9V437.4H963.6V435.4H964.1V422.8H964.1V440.3H964.8V435.4H965.9V442.8H976.2V436.8H979.3V468.7H982.5V448.4H983.7V429.1H987.4V436.4H990.2V438.5H991.1V411.6H991.6V439.2H992.8V414.7H993.9V441.0H994.1V432.5H995.4V417.9H996.2V409.9H997.2V449.9H997.7V365.3H998.3V437.5H998.6V387.8H999.3V420.5H999.6V362.6H999.9V423.9H1000.2V441.2H1000.3V462.4H1002.2V447.9H1002.3V444.5H1004.3V430.6H1005.0V451.5H1005.6V443.9H1005.6V451.9H1006.1V442.0H1007.0V406.6H1007.7V416.1H1008.3V423.5H1010.6V438.4H1010.7V436.3H1020.3V437.3H1020.9V436.1H1020.9V438.4H1020.9V437.1H1021.5V409.2H1021.6V438.2H1021.8V399.0H1024.0V457.2H1027.2V437.7H1029.0V443.3H1030.2V404.8H1034.2V437.7H1034.5V439.1H1040.2V447.2H1041.0V480.6H1042.9V436.7H1043.9V471.9H1045.7V410.6H1045.8V449.8H1046.9V420.2H1048.2V429.3H1049.1V435.3H1049.5V430.0H1050.0V414.5H1051.6V436.6H1054.2V439.2H1054.9V440.4H1056.0V454.1H1056.7V440.3H1058.5V393.4H1059.0V433.1H1059.1V418.3H1059.7V444.2H1060.1V426.7H1061.1V420.7H1061.1V400.5H1061.3V427.0H1061.6V444.8H1061.9V444.2H1062.5V437.6H1063.1V415.7H1064.3V409.0H1064.5V417.1H1066.0V417.8H1067.0V436.3H1068.3V473.6H1068.5V420.4H1068.6V463.0H1068.6V444.2H1068.7V498.8H1069.4V436.1H1070.0V458.7H1071.0V431.5H1071.7V416.7H1072.4V476.2H1073.7V452.4H1073.8V404.2H1073.8V444.1H1074.0V415.6H1075.0V471.9H1075.0V418.1H1075.3V470.8H1076.1V460.8H1077.2V440.2H1079.6V441.8H1083.5V436.7H1084.3V426.0H1087.5V453.4H1089.2V437.7H1091.7V433.5H1091.9V449.1H1092.2V435.6H1093.2V438.2H1093.3H1095.1H1095.2V417.5H1095.8V437.5H1096.0V462.0H1097.3V433.4H1097.4V437.3H1099.0V434.2H1101.6V436.9H1103.3V451.3H1103.4V416.6H1103.5V435.0H1103.6V438.1H1104.1V418.8H1104.5V481.1H1106.2V405.0H1107.5V424.9H1109.3V439.2H1110.5V468.9H1111.0V415.5H1111.4V470.9H1111.9V408.6H1113.2V483.3H1113.4V373.0H1114.1V419.5H1114.1V455.6H1114.4V422.4H1114.8V460.7H1114.8V436.0H1114.8V485.5H1115.0V424.2H1115.2V438.2H1115.5V459.8H1115.6V436.6H1116.7V467.6H1116.8V431.1H1117.0V477.5H1117.2V456.3H1117.4V401.0H1118.2V426.1H1118.3V467.8H1118.4V403.8H1118.6V461.9H1118.7V457.9H1119.0V446.6H1119.2V445.9H1119.5V445.8H1120.3V408.0H1120.5V438.7H1121.8V461.0H1122.5V435.2H1123.0V423.1H1123.6V481.9H1124.6V448.0H1125.3V424.3H1125.9V478.4H1126.3V448.6H1126.7V441.7H1128.7V434.8H1129.7V437.5H1130.7V451.6H1132.6V403.3H1134.2V446.5H1134.3V435.5H1135.7V456.2H1137.2V455.2H1139.7V473.8H1139.8V459.3H1140.9V397.4H1141.0V395.0H1141.1V463.0H1141.8V480.9H1142.5V410.9H1144.0V445.2H1144.5V467.2H1147.0V468.1H1147.5V429.5H1151.8V382.8H1152.3V427.3H1154.2V456.4H1154.3V397.6H1154.6V434.2H1154.6V367.6H1156.0V403.6H1156.9V480.5H1157.0V436.3H1157.1V425.8H1158.2V420.2H1158.8V448.9H1159.4V513.3H1161.7V475.0H1161.9V467.5H1162.4V449.7H1164.2V434.3H1165.7V447.7H1165.8V412.0H1165.8V403.1H1166.3V484.3H1168.4V431.8H1168.4V432.6H1170.0V469.5H1170.4V439.5H1170.8V443.6H1171.4V439.4H1171.5V438.0H1174.3V409.5H1175.0V416.2H1178.5V404.1H1179.5V429.0H1182.0V436.6H1185.3V432.1H1186.4V443.7H1186.6V441.5H1186.8V434.5H1187.1V450.4H1187.3V345.0H1187.6V393.3H1188.0V442.9H1188.5V430.9H1188.7V409.0H1189.4V461.5H1190.1V427.3H1190.4V449.9H1191.4V421.8H1191.4V469.3H1192.0V410.8H1192.3V444.8H1192.5V405.0H1193.0V504.7H1193.4V397.6H1193.4V472.5H1193.9V407.8H1194.7V464.4H1196.7V405.7H1197.0V420.6H1197.1V432.1H1197.1V433.3H1197.9V434.5H1198.5V447.2H1199.0V436.4H1200.4V422.3H1201.9V412.7H1202.3V413.8H1204.8V426.7H1208.0V416.9H1208.8V428.5H1208.9V470.8H1209.7V432.1H1210.0V419.9H1210.3V457.9H1210.6V449.3H1211.2V458.3H1211.2V452.9H1211.5V453.1H1213.5V457.9H1213.6V418.3H1214.9V466.2H1215.6V413.5H1220.1V463.9H1220.6V457.2H1220.6V442.3H1222.0V435.8H1222.9V399.2H1223.5V433.6H1224.5V438.2H1224.7V455.0H1225.2V390.1H1226.9V444.8H1228.2V419.7H1229.1V496.4H1231.6V432.4H1232.1H1233.5V417.8H1234.3V437.9H1236.9V439.4H1237.6V431.5H1238.4V442.7H1239.3V489.5H1240.6V442.8H1241.6V460.0H1243.1V452.8H1243.8V481.7H1244.3V438.3H1246.0V448.6H1246.1V404.3H1246.2V457.5H1246.4V427.9H1247.5V439.7H1248.7V431.0H1250.1V410.6H1251.6V379.1H1254.8V435.0H1258.4V435.1H1259.7V458.8H1262.1V418.8H1263.7V451.1H1264.4V413.5H1264.9V476.5H1266.0V414.6H1266.1V430.6H1268.2V462.7H1272.5V436.3H1277.3V440.2H1279.1V439.2H1280.0V438.2H1282.2V429.9H1283.0V437.2H1283.7V437.0H1286.1V436.3H1292.0V433.9H1292.7V455.0H1293.3V460.3H1296.9V425.8H1297.1V431.4H1297.3V397.9H1301.1V437.0H1301.2V406.4H1301.6V467.2H1302.5V489.9H1302.7V453.2H1304.3V442.0H1305.5V483.9H1306.0V462.1H1307.2V473.6H1307.5V452.0H1314.3V437.3H1314.7V435.4H1315.1V457.4H1315.2V461.6H1316.9V474.8H1316.9V434.1H1317.1V423.1H1318.9V540.8H1319.2V428.9H1319.6V417.9H1319.7V396.9H1320.8V441.0H1322.2V427.0H1323.1V500.6H1323.3V412.1H1325.0V466.5H1325.1V421.2H1326.0V447.1H1326.9V403.5H1327.3V424.6H1328.4V453.9H1329.5V424.2H1330.2V461.8H1330.4V438.5H1333.1V453.9H1334.4V463.4H1335.2V404.1H1341.6V446.6H1343.5V478.7H1343.8V470.3H1345.1V452.5H1345.4V435.9H1345.9V421.8H1345.9V444.5H1346.2V431.0H1348.6V400.9H1349.8V444.6H1350.9V475.6H1351.4V424.9H1351.5V451.2H1351.6V405.7H1353.3V456.9H1353.8V454.2H1354.3V440.6H1354.5V426.2H1355.4V414.5H1355.6V454.5H1356.1V429.3H1356.3V427.6H1357.6V451.8H1359.3V439.0H1359.5V422.1H1361.3V437.8H1365.6V446.5H1373.0V393.8H1374.2V445.0H1376.4V445.7H1376.5V396.9H1378.0V431.7H1378.4V479.8H1378.7V472.1H1379.1V452.3H1379.8V411.2H1380.0V444.3H1380.2V429.2H1380.3V457.6H1380.9V430.6H1381.0V498.6H1381.4V452.4H1384.4V443.3H1386.6V494.0H1387.2V450.3H1389.0V402.3H1396.7V439.0H1398.4V438.2H1399.1V433.4H1401.9V438.0H1402.9V433.1H1406.6V430.8H1407.5V398.9H1410.8V381.3H1410.8V402.5H1411.7V450.9H1411.7V409.6H1413.2V487.5H1413.2V413.8H1413.6V418.8H1414.0V427.5H1414.1V430.8H1414.2V437.5H1416.1V415.7H1416.3V380.6H1417.2V392.9H1417.5V442.8H1417.9V444.8H1420.2V472.8H1420.4V436.7H1420.9V394.9H1422.7V426.0H1422.9V469.1H1423.0V421.0H1423.1V394.1H1423.5V451.4H1424.7V493.3H1424.7V380.8H1426.2V357.7H1426.3V405.3H1426.9V403.4H1427.9V442.4H1428.7V478.0H1428.7V427.1H1429.1V376.9H1429.5V445.9H1430.6V492.1H1431.1V458.1H1431.3V449.0H1431.6V477.9H1433.3V417.0H1434.3V431.1H1434.8V444.1H1435.1V461.2H1438.4V397.0H1439.3V427.1H1439.6V448.1H1439.6V458.2H1444.5V447.5H1445.7V435.7H1447.1V450.3H1447.8V425.0H1447.8V387.1H1450.5V437.1H1452.7V428.5H1453.1V431.3H1453.2V394.6H1453.4V389.0H1453.9V449.7H1454.9V439.0H1456.9V475.9H1457.9V438.0H1458.0V407.4H1458.9V431.3H1459.6V463.1H1459.9V424.7H1460.2V344.3H1460.3V414.0H1461.0V461.5H1461.6V414.9H1461.8V433.7H1462.0V469.6H1463.0V453.0H1463.9V450.1H1465.0V466.0H1467.3V410.8H1469.5V470.8H1470.0V442.9H1470.4V435.0H1470.5V434.3H1470.9V446.0H1471.8V452.7H1472.1V402.5H1472.3V428.1H1472.7V440.4H1473.4V408.0H1473.8V435.4H1475.9V423.5H1476.8V464.4H1477.1V453.6H1478.9V416.2H1479.9V493.0H1480.0V387.0H1480.5V439.9H1480.6V490.9H1480.7V448.3H1481.0V423.8H1481.0V441.6H1482.0V427.9H1482.1V410.7H1482.6V442.3H1483.2V432.0H1484.6V503.5H1485.3V423.9H1485.9V416.7H1485.9V423.7H1486.7V410.4H1486.9V443.5H1488.4V434.3H1489.5V465.3H1490.4V421.8H1490.7V402.5H1492.7V460.7H1494.0V442.7H1494.1V477.3H1494.2V406.2H1494.6V422.5H1495.2V463.1H1495.4V424.0H1496.2V415.8H1496.5V433.3H1497.2V453.0H1498.4V436.9H1499.6V466.6H1499.7V480.5H1501.4V402.1H1503.3V439.0H1503.4V437.1H1503.8V436.6H1504.6V454.8H1507.3V436.9H1507.9V444.4H1508.9V411.8H1511.7V436.3H1512.8V424.5H1513.5V399.0H1514.2V442.8H1515.1V446.4H1515.9V439.5H1519.4V436.6H1520.2V427.0H1520.6V430.8H1520.9V465.8H1521.6V484.0H1522.1V401.7H1522.9V398.2H1523.1V435.4H1524.8V457.3H1525.0V477.1H1526.5V432.0H1526.6V467.4H1527.4V410.4H1527.5V465.6H1528.5V415.9H1530.9V429.4H1531.3V451.3H1532.4V392.0H1532.5V407.4H1532.6V434.3H1533.1V509.3H1533.2V426.3H1533.3V479.5H1533.5V478.6H1533.6V385.8H1533.9V421.9H1534.7V413.6H1534.9V465.2H1535.3V428.2H1536.4V448.9H1537.3V454.5H1538.4V429.0H1539.0V445.9H1539.1V456.6H1539.6V429.9H1540.0V428.3H1540.2V431.6H1541.3V445.8H1543.3V438.2H1543.8V436.8H1544.2V419.0H1544.6V437.3H1545.6V450.1H1545.7V438.0H1546.1V436.8H1546.3V422.1H1546.9V415.5H1548.9V437.1H1550.2V431.8H1551.9V460.5H1552.7V436.0H1553.6V438.1H1554.6V437.0H1556.6V466.3H1557.9V435.6H1558.4V478.1H1558.4V460.9H1561.8V443.9H1564.5V437.2H1567.8V424.4H1569.1V420.4H1572.9V439.4H1573.2V437.0H1573.2V440.7H1577.6V435.8H1577.9V429.3H1579.8V436.5H1580.0V417.1H1580.0V449.7H1583.1V432.3H1583.7V437.1H1589.9V440.3H1591.4V437.3H1592.0V438.2H1592.5V441.1H1594.2V442.8H1594.5V444.1H1598.9V451.7H1603.6V442.5H1603.7V357.7H1608.5V421.8H1614.3V435.4H1614.3V491.3H1614.8V416.3H1615.2V473.0H1616.0V486.6H1619.1V449.2H1619.1V442.4H1620.9V377.0H1621.4V449.8H1623.1V430.3H1624.9V475.2H1625.9V467.0H1626.0V445.4H1627.5V394.5H1627.8V454.2H1630.4V455.4H1630.9V419.2H1631.4V405.8H1631.6V435.2H1635.2V436.5H1635.4V447.3H1635.6V410.8H1635.8V471.6H1636.4V460.7H1638.3V471.9H1639.1V411.4H1639.4V409.1H1639.9V425.0H1640.1V393.8H1641.5V473.9H1642.0V477.4H1642.3V417.9H1643.8V429.9H1643.9V431.7H1644.1V415.2H1645.8V500.5H1649.2V432.0H1649.7V443.7H1652.6V472.2H1654.3V410.8H1654.6V432.9H1655.0V458.4H1655.0V451.5H1655.4V431.3H1655.5V457.9H1656.5V419.4H1657.0V444.3H1657.1V432.7H1657.4V447.8H1658.3V438.2H1659.2V430.6H1659.2V384.3H1659.7V425.6H1660.1V452.1H1661.0V410.7H1661.4V436.3H1661.8V432.5H1662.2V452.8H1663.9V440.2H1664.9V446.9H1665.1V439.3H1666.1V438.5H1666.9V469.0H1666.9V425.1H1668.9V426.6H1670.2V440.1H1670.4V413.0H1671.7V477.1H1672.6V439.7H1673.8V507.7H1674.3V455.5H1674.9V427.4H1675.3V478.3H1676.1V442.3H1676.7V422.7H1676.9V530.8H1677.1V462.6H1677.4V421.9H1677.8V451.8H1678.6V478.7H1678.7V454.5H1679.4V427.0H1679.8V473.3H1681.1V455.4H1681.9V447.2H1682.4V428.9H1682.5V386.9H1682.9V478.5H1683.7V452.3H1684.0V443.9H1684.9V421.2H1685.2V415.0H1685.2V423.5H1685.7V440.8H1686.6V472.3H1687.5V456.0H1688.4V459.4H1688.6V420.8H1690.9V475.3H1691.0V394.5H1691.3V356.4H1691.6V449.4H1692.9V451.4H1693.0V469.8H1693.5V436.8H1693.9V479.1H1694.1V470.0H1694.7V442.5H1698.7V386.9H1700.0V445.4H1700.1V440.7H1702.1V428.0H1702.3V375.1H1702.4V430.0H1702.9V429.1H1705.6V436.0H1706.1V461.2H1710.9V439.1H1711.8V436.8H1712.6V435.3H1722.3V438.6H1728.4V434.6H1728.9V427.1H1734.1V407.5H1738.7V433.7H1738.9V430.6H1739.6V436.7H1742.7V429.7H1746.2V393.4H1749.2V436.7H1754.2V425.7H1754.9V439.6H1757.0V436.1H1757.3V431.9H1757.3V424.0H1758.5V373.9H1759.0V431.7H1759.1V405.0H1760.4V457.2H1761.4V388.8"/>
<path class="s" stroke="rgb(255,159,64)" d="M123.2 446.1H123.4V391.0H123.4V494.6H123.6V485.8H123.7V361.9H123.8V439.5H123.9V235.3H124.5V470.0H124.6V342.4H124.7V446.7H124.9V410.6H125.1V416.1H125.1V618.7H125.4V371.3H126.1V528.6H126.2V289.6H126.2V423.3H126.4V395.8H126.5V388.4H126.6V431.9H126.9V349.4H127.2V473.6H128.3V458.5H128.4V378.8H128.5V315.3H128.6V413.6H128.6V462.5H128.7V387.9H129.1V401.0H129.2V351.8H129.3V491.7H129.4V373.4H129.6V331.0H129.8V280.7H129.9V480.7H130.0V525.9H130.0V378.0H130.1V365.4H130.1V414.9H130.1V476.2H130.3V441.6H130.5V470.6H130.6V464.3H130.7V621.0H131.0V458.9H131.1V456.2H131.1V321.3H131.2V373.3H131.3V440.4H131.6V405.7H131.6V420.0H132.1V589.6H132.2V371.8H132.2V429.4H132.4V509.0H132.4V418.2H132.6V336.7H133.1V381.6H133.1V427.8H133.2V443.2H133.7V380.8H133.7V488.2H133.7V362.7H133.8V368.6H134.1V453.3H134.2V364.3H134.8V598.7H134.8V444.2H134.9V545.0H135.0V481.8H135.0V431.4H135.0V400.4H135.1V394.5H135.2V352.0H135.3V355.9H135.4V459.2H135.4V542.4H135.7V560.6H135.7V477.4H135.7V415.0H135.9V409.2H136.1V412.8H136.1V351.0H136.5V401.4H136.6V405.5H136.8V425.3H137.0V530.5H137.1V420.3H137.2V498.3H137.3V443.7H137.5V389.6H137.5V405.4H137.6V323.0H137.7V386.3H137.8V522.8H137.9V418.5H138.2V396.3H138.2V406.5H138.5V459.3H139.3V392.9H139.7V538.8H140.0V343.4H140.1V353.6H140.4V392.3H140.5V508.8H140.6V371.8H140.6V431.4H140.8V402.6H140.9V503.5H141.2V498.1H141.3V528.4H141.4V493.3H141.4V404.1H141.6V485.9H141.7V548.3H141.7V451.4H142.4V602.7H142.7V310.7H142.8V426.9H143.1V474.4H143.3V431.7H143.4V503.6H143.4V387.1H143.5V457.3H143.9V607.3H143.9V411.1H144.3V378.3H144.3V604.5H144.5V579.6H144.6V369.0H144.8V544.9H144.9V557.0H145.0V381.2H145.1V403.6H145.2V404.2H145.3V355.0H145.3V293.5H145.6V473.3H145.8V607.0H145.9V459.5H145.9V473.5H146.1V371.4H146.5V373.5H146.5V269.4H146.5V302.6H146.7V544.7H146.8V468.5H146.9V488.7H146.9V470.0H146.9V458.8H147.2V447.6H147.2V422.1H147.9V504.3H147.9V396.5H148.0V383.0H148.0V615.7H148.0V525.5H148.1V468.2H148.2V394.4H148.5V554.8H148.6V363.2H149.0V426.9H149.0V490.5H149.2V457.8H149.3V484.4H149.5V417.5H149.8V506.4H150.0V542.2H150.0V422.5H150.6V401.1H150.9V582.7H150.9V397.0H150.9V460.7H151.0V514.0H151.2V505.9H151.3V454.0H151.5V328.1H151.9V406.1H152.3V425.2H152.4V456.3H152.6V345.9H153.2V589.0H153.2V535.4H153.2V394.0H153.4V278.1H153.6V461.1H153.6V407.8H153.7V481.9H153.7V411.7H153.8V363.9H154.0V495.3H154.1V383.6H154.5V438.3H154.5V399.4H154.6V433.0H154.8V364.0H154.9V408.1H154.9V569.0H155.0V312.6H155.1V445.4H155.4V467.8H155.4V514.1H155.5V555.9H155.6V396.1H155.6V450.4H155.6V548.0H155.6V456.3H156.0V409.1H156.1V419.9H156.1V479.5H156.1V485.6H156.5V547.9H156.6V487.8H156.9V445.3H156.9V384.0H157.0V431.7H157.0V516.5H157.2V519.8H157.2V414.9H157.4V526.9H157.4V577.8H157.7V415.7H157.8V410.3H157.8V479.3H157.8V461.9H157.9V503.8H158.0V423.5H158.0V226.0H158.0V683.6H158.2V416.8H158.6V488.2H158.6V399.6H158.7V508.8H159.0V437.1H159.1V443.4H159.4V478.2H159.5V491.3H159.7V411.2H159.7V463.2H159.8V428.7H159.9V533.0H160.5V421.8H160.5V484.9H160.6V387.4H160.8V430.4H161.0V389.2H161.1V463.8H161.1V415.2H161.5V515.0H161.6V463.6H161.7V417.2H161.9V429.3H162.0V361.0H162.1V304.6H162.1V541.6H162.2V466.2H162.2V408.1H162.3V366.1H162.3V424.3H162.4V422.7H162.5V277.2H162.7V374.0H162.7V545.2H162.8V455.7H162.8V419.8H162.8V390.2H163.0V509.4H163.0V507.4H163.0V440.9H163.2V543.6H163.4V449.6H163.4V472.6H163.7V494.1H163.9V477.6H164.2V504.4H164.3V507.9H164.3V318.6H164.4V444.7H164.5V495.8H164.6V425.9H165.0V580.4H165.0V539.5H165.1V451.7H165.3V509.9H165.3V398.2H165.4V448.6H165.5V376.3H165.5V347.8H165.7V365.8H166.1V468.3H166.2V568.4H166.5V531.9H166.5V518.9H166.5V537.0H166.7V479.6H166.9V561.6H167.0V398.8H167.6V419.1H167.6V294.4H168.0V457.7H168.2V464.0H168.5V446.4H168.5V468.4H168.7V400.1H168.7V371.7H168.7V321.5H169.1V410.9H169.2V416.8H169.5V482.0H169.9V502.8H170.0V465.6H170.1V375.5H170.6V611.0H170.7V549.7H170.7V428.4H170.9V471.8H170.9V530.9H171.1V381.4H171.5V447.6H171.8V482.2H172.1V408.5H172.1V453.6H172.3V542.7H172.9V467.2H173.2V507.7H173.6V391.1H173.7V357.4H173.8V459.6H173.9V397.8H174.2V376.4H174.4V567.3H174.5V410.6H174.6V425.0H174.9V301.9H175.0V402.6H175.1V512.4H175.2V462.4H175.6V444.8H175.7V513.2H175.7V459.7H175.8V489.4H176.0V420.7H176.2V627.0H176.3V450.3H176.3V442.5H176.5V291.9H176.6V465.3H176.7V350.8H176.7V482.7H176.8V560.2H176.9V465.4H177.0V416.3H177.1V442.8H177.3V427.7H177.6V550.8H177.7V425.7H178.4V473.2H179.0V418.4H179.1V618.3H179.3V456.3H179.3V478.0H179.5V386.9H180.0V625.5H180.3V437.4H180.3V512.7H180.5V416.9H180.6V411.6H180.7V354.3H180.9V411.2H180.9V503.7H181.1V434.3H181.2V429.2H181.3V384.6H181.7V389.1H181.9V412.6H182.0V578.8H182.1V472.4H182.2V344.5H182.4V373.0H182.6V326.0H182.7V504.7H183.7V430.4H183.7V507.1H183.8V443.9H183.9V519.3H184.0V337.4H184.1V527.1H184.1V462.3H184.1V443.3H184.2V423.8H184.5V416.4H184.6V445.9H185.0V435.6H185.6V384.5H185.7V325.9H185.9V349.4H185.9V496.6H186.4V283.9H186.4V434.7H186.5V334.3H186.6V426.4H186.7V424.6H186.7V440.3H186.8V449.0H186.8V331.9H186.8V550.4H187.0V459.1H187.0V489.0H187.1V379.5H187.1V428.1H187.2V411.2H187.3V449.5H187.5V461.8H187.5V479.7H187.7V494.8H187.8V395.1H188.0V418.1H188.2V458.4H188.3V426.3H188.5V604.7H188.7V521.5H188.9V422.1H188.9V533.6H188.9V383.7H188.9V418.6H189.0V450.3H189.1V518.8H189.2V418.8H189.2V459.3H189.4V492.8H189.5V435.0H189.6V330.2H189.6V508.9H189.7V307.6H189.7V408.5H190.0V392.1H190.2V492.5H190.2V455.7H190.4V434.4H190.8V420.7H190.8V511.2H190.9V670.9H191.0V489.9H191.1V418.9H191.5V406.9H191.5V509.8H191.5V568.9H191.5V355.8H191.7V477.8H191.7V456.6H191.7V443.0H191.8V571.2H192.1V557.1H192.3V406.0H192.4V396.9H192.5V429.0H192.6V408.4H192.6V487.8H192.8V459.6H193.1V448.2H193.1V450.3H193.3V454.3H193.3V495.0H193.4V463.2H193.4V349.7H193.5V393.4H193.5V403.5H193.5V433.3H193.6V503.7H194.0V471.9H194.0V322.9H194.3V480.4H194.9V398.4H195.0V584.4H195.0V461.1H195.3V464.1H195.4V516.4H196.0V330.6H196.1V464.9H196.1V409.3H196.3V399.2H196.9V453.1H197.0V451.0H197.2V423.4H197.3V403.5H197.4V482.6H197.5V411.2H198.0V410.4H198.3V348.2H198.5V430.5H198.5V426.9H198.8V510.2H198.8V435.0H198.8V549.2H198.8V401.6H198.9V563.9H199.2V397.5H199.3V445.8H199.3V547.9H199.7V521.6H200.3V407.6H200.5V442.1H200.6V443.5H200.7V344.1H200.7V425.2H200.9V440.1H201.2V391.7H201.2V415.4H201.2V538.4H201.4V509.5H201.4V409.5H201.6V498.5H202.0V349.7H202.1V462.1H202.3V355.1H202.4V467.1H202.5V411.2H202.8V463.6H202.9V446.5H203.2V493.4H203.3V541.9H203.3V545.8H203.4V350.8H203.6V492.4H203.8V372.8H204.1V413.7H204.2V396.6H204.4V499.7H204.4V390.9H204.7V378.8H204.9V393.8H204.9V388.6H205.4V567.0H205.8V526.9H206.2V503.6H206.2V400.0H206.3V361.9H206.4V290.9H206.4V401.2H206.5V445.0H206.9V399.9H207.1V519.2H207.3V362.1H207.7V445.1H207.9V355.8H208.0V499.6H208.4V349.4H208.6V475.7H208.7V442.3H208.8V341.9H209.1V420.4H209.1V451.0H209.1V478.2H209.8V434.9H209.9V400.6H210.0V525.8H210.0V600.8H210.0V444.3H210.2V457.5H210.3V402.7H210.6V438.5H210.7V417.9H210.9V428.5H211.0V419.3H211.1V441.2H211.1V539.0H211.4V471.4H211.5V491.9H211.7V465.0H212.0V526.8H212.3V451.2H212.4V364.6H212.5V461.6H212.6V412.3H212.7V455.5H212.8V336.8H212.8V434.5H213.3V462.4H213.4V403.3H213.5V352.6H213.6V520.4H213.7V383.0H214.4V613.3H214.4V376.2H214.4V361.3H214.5V325.9H214.8V412.9H214.8V513.6H215.0V448.6H215.2V632.2H215.2V374.3H215.4V323.0H215.5V388.4H215.6V491.1H215.8V391.7H216.0V434.4H216.2V357.6H216.3V420.8H217.1V403.0H217.1V405.0H217.3V339.6H217.4V359.1H217.6V617.0H217.6V492.7H217.7V371.5H217.7V423.0H218.1V364.3H218.2V390.3H218.3V416.2H218.6V463.2H219.0V516.2H219.2V396.5H219.3V524.3H219.8V455.0H220.0V319.5H220.5V298.5H221.0V389.2H221.1V547.1H221.3V527.9H221.4V446.7H221.4V478.8H221.4V334.3H221.6V353.0H221.6V424.3H221.7V322.8H222.6V480.0H222.6V427.8H222.9V408.9H223.0V396.8H223.2V334.3H223.5V378.9H223.8V422.4H224.0V468.0H224.0V456.3H224.1V467.8H224.2V445.6H224.5V269.4H224.6V492.9H224.9V476.7H225.1V487.3H225.1V332.1H225.5V319.9H225.6V465.2H226.0V362.1H226.0V441.5H226.1V380.1H226.2V417.0H226.2V467.2H227.0V336.5H227.4V413.5H227.4V468.3H227.4V366.7H227.5V369.0H227.6V533.7H227.7V426.9H228.3V376.5H228.3V547.2H228.4V384.4H228.7V349.0H228.8V347.9H229.0V442.3H229.3V618.2H229.5V453.9H229.7V561.8H229.9V442.0H230.2V457.1H230.3V468.4H230.4V511.4H231.0V475.1H231.1V495.5H231.2V429.1H231.4V450.6H231.7V536.2H231.9V358.0H232.1V403.8H232.2V477.4H232.2V457.2H232.9V459.3H233.0V398.8H233.4V396.0H233.4V517.0H233.5V385.5H233.7V484.4H233.8V514.3H234.0V480.1H234.1V368.5H234.3V361.0H234.5V409.8H234.6V302.6H234.9V430.5H234.9V348.9H235.0V499.9H235.3V346.7H235.7V215.7H235.8V528.5H235.9V399.3H236.2V354.8H236.2V482.4H236.3V480.3H236.3V454.3H236.8V353.5H236.9V302.5H237.1V369.5H237.1V386.4H237.2V435.9H237.2V488.3H237.4V382.0H237.5V425.3H237.5V421.8H237.6V426.2H237.9V492.4H238.0V480.1H238.2V463.6H238.3V456.8H238.4V492.0H238.4V375.1H238.5V533.6H238.6V509.0H238.7V397.4H238.7V516.7H238.8V470.5H239.0V609.7H239.2V435.8H239.2V627.0H239.2V383.2H239.3V470.2H239.3V507.5H239.5V473.2H239.5V406.6H239.7V474.5H239.8V503.2H239.9V303.2H240.0V415.3H240.0V381.4H240.4V378.4H240.4V516.5H240.4V559.7H240.7V446.7H240.9V479.8H241.5V458.4H241.5V477.9H241.9V465.9H242.1V395.8H242.2V453.3H242.2V416.4H242.3V505.0H242.4V389.0H242.6V484.3H242.6V471.3H242.7V534.7H242.8V417.9H242.8V383.3H242.8V360.9H243.1V345.1H243.4V453.9H243.8V467.7H243.9V415.4H244.4V302.7H244.7V382.2H244.8V478.0H244.9V454.5H245.1V448.5H245.2V337.3H245.2V473.5H245.2V442.3H245.2V455.9H245.3V329.0H245.5V426.3H245.6V418.7H245.9V453.7H246.0V534.9H246.1V472.2H246.4V417.7H246.5V457.3H246.5V428.0H247.2V517.8H247.2V420.8H247.2V451.0H247.2V344.4H247.3V451.2H248.1V482.6H248.2V434.4H248.6V564.0H249.0V459.4H249.1V368.1H249.2V452.1H249.4V410.5H249.6V510.2H249.8V454.2H249.9V527.7H250.5V385.1H250.7V566.2H250.8V388.0H250.9V419.6H251.0V240.8H251.0V638.0H251.0V492.4H251.3V489.1H251.6V459.6H251.6V388.0H251.7V429.1H251.9V395.3H252.0V361.4H252.1V500.6H252.2V502.9H253.0V540.8H253.0V452.8H253.3V344.6H253.3V444.2H253.5V382.7H253.5V446.9H253.6V470.4H253.8V401.2H253.8V498.1H253.8V359.2H253.9V481.4H254.1V426.7H254.2V478.2H254.3V427.4H254.3V336.8H254.5V379.8H254.6V393.3H254.8V332.0H255.3V364.0H255.3V428.3H255.5V591.5H255.7V406.7H255.7V462.8H256.1V429.6H256.9V439.0H257.6V338.6H257.7V298.8H257.8V401.0H257.8V528.9H257.9V459.3H258.1V411.0H258.4V434.8H258.5V494.8H258.6V455.2H258.8V448.5H258.8V361.8H258.9V430.7H259.0V494.6H259.1V386.4H259.4V372.2H259.4V492.5H259.4V513.8H259.6V413.7H259.7V479.7H259.7V465.2H260.3V463.1H260.3V461.5H260.3V458.2H260.4V498.5H260.7V508.6H260.8V460.2H260.8V556.7H261.0V454.5H261.1V365.7H261.2V417.4H261.4V573.4H261.6V357.0H261.7V356.0H262.0V415.1H262.2V583.9H262.2V165.6H262.3V423.3H262.4V492.2H262.6V668.3H262.8V476.4H262.8V336.7H263.2V411.6H263.2V416.1H263.3V450.7H263.8V489.3H263.8V472.2H264.0V451.5H264.1V466.3H264.2V410.0H264.5V439.7H264.5V389.9H264.9V552.7H265.0V441.1H265.4V445.2H265.5V453.7H265.5V386.2H265.8V493.0H265.9V541.0H266.0V489.3H266.1V452.4H266.2V542.5H266.3V482.7H266.4V501.3H266.6V452.2H266.8V354.1H267.0V391.6H267.2V504.9H267.2V469.1H267.4V443.7H267.4V478.5H267.7V337.3H267.9V322.5H267.9V400.5H268.0V452.2H268.4V385.6H268.6V380.0H268.6V467.8H268.7V470.5H268.8V415.3H270.2V480.6H270.6V413.9H270.6V312.9H270.8V456.7H270.8V451.4H270.9V488.2H270.9V453.3H271.0V489.9H271.6V401.0H271.7V492.5H272.4V458.3H272.7V523.4H272.7V506.3H272.7V446.5H273.0V275.7H273.0V530.1H273.2V497.8H273.2V472.1H273.3V274.2H273.4V530.4H273.6V332.0H273.6V467.2H273.7V451.0H273.9V372.5H273.9V583.2H274.3V492.1H274.7V513.5H275.1V444.3H275.1V424.0H275.1V416.9H275.2V360.0H275.2V623.3H275.3V597.9H275.3V384.9H275.4V444.3H275.4V459.2H275.6V370.0H275.6V468.8H275.9V451.3H275.9V436.1H276.1V580.8H276.1V436.2H276.1V319.3H276.3V377.8H276.3V442.3H276.3V466.3H276.3V344.6H276.4V529.7H276.4V495.7H276.5V464.0H276.6V347.1H276.6V356.3H276.8V417.3H277.0V426.7H277.4V334.5H277.6V406.9H277.7V468.1H277.7V491.6H277.8V544.0H278.1V384.8H278.4V448.3H278.5V420.7H279.0V465.1H279.1V411.2H279.1V405.2H279.5V469.9H279.5V616.4H279.8V393.2H280.4V588.7H280.5V387.8H280.5V379.6H280.6V471.3H280.8V392.0H280.8V336.4H280.9V368.8H281.0V503.0H281.2V575.2H281.3V401.6H282.3V461.5H282.8V501.3H283.0V397.6H283.0V508.4H283.4V496.4H283.6V464.2H283.8V472.0H284.0V461.2H284.2V426.8H284.4V448.9H284.4V404.2H284.4V461.0H284.6V536.6H284.6V383.2H284.7V375.0H284.8V561.4H284.8V568.2H284.8V406.0H284.9V623.0H285.0V483.0H285.0V390.1H285.1V406.9H285.2V447.8H285.3V406.5H285.4V429.7H285.5V412.6H285.6V427.2H285.7V413.3H285.9V506.5H286.0V425.6H286.0V395.2H286.1V500.7H286.1V450.1H286.1V470.6H286.2V472.5H286.6V435.4H286.6V427.7H286.8V430.8H286.8V519.3H286.9V486.3H286.9V439.9H287.4V519.8H287.8V470.7H288.3V525.5H288.4V522.8H288.5V388.9H288.6V424.7H288.6V458.4H288.7V522.5H288.8V426.5H288.8V423.1H289.3V358.9H289.4V404.0H289.4V426.5H289.7V446.8H289.7V476.9H290.5V459.4H290.7V424.3H290.9V426.5H290.9V477.4H290.9V496.2H291.1V399.0H291.3V373.2H292.1V424.3H292.4V453.4H292.8V349.6H292.8V541.0H292.9V453.9H293.1V462.0H293.2V477.7H293.2V383.3H293.6V487.2H293.9V432.6H293.9V453.7H293.9V477.5H294.1V332.4H294.2V481.7H294.3V391.1H294.7V377.5H294.8V334.9H295.2V453.7H295.3V360.9H295.3V315.0H295.4V448.7H296.5V471.8H296.6V456.8H296.8V410.5H297.2V464.0H297.2V482.8H297.6V346.9H297.8V471.9H298.0V422.5H298.1V446.3H298.1V537.2H298.3V425.5H298.6V346.0H298.7V394.9H298.8V462.9H298.8V396.7H298.9V330.9H299.0V398.9H299.2V461.0H299.3V579.7H299.5V374.5H299.7V476.8H299.8V362.7H299.9V370.2H300.0V328.3H300.1V432.5H300.1V368.0H300.1V541.5H300.3V496.0H300.4V442.7H300.5V504.1H300.6V441.1H300.6V402.5H300.7V287.9H300.9V485.8H300.9V313.8H301.0V349.4H301.1V405.0H301.7V467.9H301.7V371.0H301.7V463.4H301.8V538.2H301.8V393.6H302.0V473.7H302.5V434.5H302.6V459.0H302.6V390.6H302.8V436.9H303.0V383.1H303.0V526.6H303.1V397.0H303.6V502.5H303.8V531.9H303.9V466.8H304.0V396.5H304.1V426.5H304.1V499.6H304.2V494.4H304.3V489.0H304.4V497.5H304.4V446.1H304.8V436.2H305.0V492.9H305.3V542.0H305.6V394.8H306.3V401.5H306.7V396.2H307.2V401.0H307.3V427.4H307.5V514.1H307.7V536.8H307.8V407.0H307.8V400.1H307.9V426.5H308.1V479.5H308.3V397.5H308.3V369.4H308.4V449.5H308.6V396.3H308.6V374.3H308.7V429.4H309.0V508.2H309.1V419.6H309.4V503.0H309.5V517.6H309.7V468.6H309.7V449.1H309.8V455.6H309.9V502.2H310.0V561.0H310.3V414.8H310.9V453.3H311.0V349.5H311.2V269.4H311.2V488.9H311.5V428.7H311.6V462.3H311.7V456.3H311.7V284.6H311.7V398.0H312.1V525.2H312.3V371.4H312.5V470.3H312.8V468.8H312.9V534.3H313.2V461.5H313.4V441.7H313.4V399.8H313.4V454.6H313.4V425.2H313.6V424.3H313.6V493.2H313.6V351.5H313.8V451.6H313.9V461.6H314.0V416.3H314.0V499.5H314.1V587.0H314.1V561.6H314.1V405.0H314.5V510.6H315.1V404.2H315.7V423.8H315.7V355.5H315.7V386.4H316.0V672.4H316.0V415.2H316.0V554.9H316.1V520.2H316.3V407.4H316.3V433.6H316.6V419.6H316.6V512.4H316.7V486.3H317.0V464.3H317.1V609.1H317.2V441.5H317.4V332.0H317.4V465.2H317.4V377.5H318.2V448.0H318.2V355.3H318.4V525.2H318.4V521.2H319.0V379.3H319.0V402.7H319.1V524.0H319.4V328.8H319.4V379.6H319.4V401.9H319.8V415.7H319.8V555.1H319.9V464.2H320.0V472.7H320.6V419.2H320.6V491.8H320.8V471.6H320.9V389.9H321.1V449.8H321.1V364.7H321.3V397.2H321.8V405.7H321.8V470.5H321.9V401.4H322.2V619.5H322.3V484.7H322.5V423.5H322.5V418.2H322.6V344.8H322.7V475.8H322.8V385.4H322.8V354.0H322.8V448.6H322.9V393.2H322.9V391.3H322.9V547.3H323.0V447.2H323.0V362.7H323.5V383.0H323.8V424.6H324.2V362.0H324.2V405.1H324.3V392.0H324.4V441.1H324.4V440.7H324.5V370.3H324.5V547.7H324.7V509.4H324.8V426.0H324.9V576.2H325.4V376.6H325.5V617.9H325.6V362.1H325.8V517.4H325.8V462.2H326.0V517.8H326.1V472.6H326.2V414.5H326.8V412.4H326.9V355.3H327.0V391.5H327.1V355.5H327.2V366.6H327.3V469.1H327.3V436.0H327.4V314.0H327.5V573.0H327.5V530.3H327.6V367.3H327.7V415.2H327.9V357.5H328.0V373.7H328.1V449.3H328.3V422.2H328.5V472.0H328.9V511.6H329.5V445.3H329.9V279.4H330.0V496.2H330.2V582.8H330.4V389.2H330.5V519.7H330.8V373.3H330.8V442.9H330.8V542.5H330.9V471.3H330.9V594.6H331.1V455.0H331.2V514.6H331.2V481.4H331.4V440.9H331.5V582.4H331.5V446.6H331.7V508.8H331.7V545.0H331.8V626.9H331.9V361.0H332.0V494.3H332.5V416.8H332.6V408.5H332.7V458.3H332.9V517.5H332.9V396.7H333.1V523.3H333.3V349.8H333.3V459.6H333.4V292.4H333.7V338.3H334.0V310.6H334.1V341.9H334.5V509.0H334.5V482.5H334.6V432.2H334.6V419.9H334.9V463.3H335.0V535.9H335.0V448.8H335.1V431.1H335.2V617.5H335.7V456.9H336.6V428.0H336.8V425.7H337.1V427.2H337.1V578.8H337.2V420.6H337.3V385.8H337.3V457.7H337.3V400.5H337.5V488.3H337.6V318.3H337.7V389.6H337.8V551.3H338.0V503.1H338.6V533.6H338.6V319.0H338.7V354.6H338.8V402.4H338.9V491.8H339.1V451.4H339.2V432.1H339.3V448.2H339.3V470.5H339.4V346.9H339.5V329.1H339.6V443.4H340.1V507.6H340.2V352.1H340.3V611.2H340.3V273.1H340.5V502.3H340.5V502.7H340.9V418.7H340.9V407.1H341.0V389.0H341.1V376.2H341.1V450.2H341.3V424.4H341.4V403.5H341.5V563.3H341.5V457.6H341.6V484.2H341.6V326.6H342.1V510.4H342.1V424.6H342.2V349.5H342.4V418.4H342.4V507.9H342.8V444.3H342.8V404.7H343.2V491.7H343.3V450.0H343.5V508.9H343.7V374.5H344.1V511.1H344.6V413.1H344.6V488.5H345.0V372.8H345.1V377.4H345.4V395.0H345.6V432.2H345.8V412.5H345.9V415.1H346.1V373.6H346.7V453.1H346.8V422.5H346.8V410.8H346.9V467.8H346.9V385.5H347.0V563.7H347.2V435.0H347.2V500.9H347.3V511.5H347.4V318.8H347.5V513.0H347.7V528.1H347.8V404.7H347.8V522.9H347.8V547.0H347.9V562.8H348.0V475.7H348.0V372.0H348.0V462.0H348.1V473.9H348.7V439.9H348.7V304.9H348.7V445.5H348.9V366.1H348.9V485.1H349.2V446.3H349.2V411.6H349.5V474.8H349.7V366.5H349.7V426.1H349.7V424.9H349.9V495.7H350.0V385.4H350.0V481.5H350.1V434.5H350.2V510.5H350.7V421.2H350.8V615.3H351.1V292.3H351.3V277.9H352.1V415.8H352.3V482.1H352.4V372.5H352.7V458.4H352.9V530.6H352.9V542.9H353.0V440.0H353.4V443.2H353.4V478.8H353.4V391.6H353.5V448.0H353.5V364.9H353.5V476.5H353.6V518.6H353.7V465.0H353.8V372.4H354.0V486.4H354.0V444.1H354.0V409.2H354.3V527.9H355.0V449.7H355.4V440.3H355.4V561.7H355.5V544.8H355.5V420.0H356.0V388.5H356.3V394.1H356.6V574.5H356.7V528.6H356.7V416.3H356.9V362.5H357.3V510.1H357.4V324.1H357.6V476.6H358.0V382.1H358.4V387.5H358.6V409.5H358.6V406.9H359.0V387.1H359.4V414.7H359.7V417.3H359.7V513.3H359.8V422.4H360.8V548.1H360.8V424.7H360.9V335.8H360.9V389.7H360.9V443.0H361.6V495.8H361.8V354.4H362.5V397.7H362.5V411.3H362.7V426.4H362.8V557.7H363.1V432.2H363.8V457.0H363.9V473.7H364.5V497.9H364.5V445.9H364.7V507.9H364.8V516.5H364.9V451.7H365.0V358.7H365.2V498.2H365.8V562.1H366.0V457.9H366.0V510.5H366.2V403.4H366.4V424.3H366.6V498.5H366.6V433.4H366.8V377.1H367.1V502.9H367.3V410.1H367.4V539.9H367.5V555.3H367.9V411.3H367.9V406.7H368.0V518.3H368.1V413.7H368.4V352.8H368.4V388.2H368.5V449.5H368.5V459.7H368.9V424.8H368.9V611.8H369.7V344.3H369.9V395.1H370.2V390.1H370.6V483.3H370.7V488.0H371.4V474.9H371.4V448.2H371.5V564.2H371.8V444.5H372.1V421.1H372.5V491.2H373.0V355.0H373.4V367.9H374.2V382.9H374.3V405.4H374.3V418.7H374.4V458.8H374.6V491.6H374.9V345.4H375.3V596.4H375.3V417.9H375.4V424.3H375.6V406.6H375.7V323.8H375.8V446.9H376.0V335.8H376.0V467.5H376.1V467.7H376.5V379.7H376.8V422.9H377.3V477.2H377.4V361.4H377.8V408.5H377.9V580.9H378.2V491.7H378.5V442.2H378.5V439.8H378.5V486.2H378.6V412.5H379.1V404.7H379.4V433.6H379.4V493.0H379.7V372.5H379.8V415.1H379.8V427.9H379.8V547.2H380.0V490.1H380.3V405.2H380.3V454.5H380.3V450.4H380.3V444.4H380.5V434.9H380.5V362.5H380.8V531.7H380.9V420.9H381.0V391.0H381.2V433.2H381.3V382.7H381.9V364.0H382.0V417.5H382.0V514.9H382.6V405.9H382.6V412.8H382.7V418.8H382.7V505.8H382.7V413.1H382.8V286.4H383.3V372.0H383.5V435.6H383.8V432.7H383.9V397.9H384.1V495.9H384.3V520.1H384.4V353.7H384.5V357.9H385.2V378.4H385.2V453.1H385.4V421.0H385.4V574.2H385.5V510.3H385.6V359.9H385.6V418.2H385.7V405.3H385.7V479.4H385.9V447.3H385.9V473.3H385.9V318.7H386.1V356.2H386.2V417.2H386.4V452.9H386.8V390.5H386.9V371.8H387.0V490.1H387.5V407.4H387.5V468.6H387.8V574.7H387.9V485.0H387.9V533.4H387.9V422.3H388.1V375.1H388.4V475.8H389.2V323.2H389.4V390.9H389.8V456.2H389.8V446.8H389.8V510.4H389.9V423.9H390.2V484.6H390.2V284.4H390.5V343.5H390.5V452.6H390.8V377.6H391.0V479.4H391.0V451.2H391.1V445.3H391.4V546.2H391.6V450.5H391.7V374.5H391.8V466.5H391.9V483.2H392.0V562.5H392.0V617.5H392.0V513.3H392.1V499.0H392.2V394.9H392.3V367.3H392.5V398.6H392.6V400.5H392.6V334.1H392.6V397.7H392.7V401.9H392.7V448.0H392.8V473.8H393.0V384.6H393.4V388.0H393.5V576.8H393.6V493.4H393.8V395.2H394.2V417.6H394.4V425.2H394.5V402.3H394.6V471.5H394.7V325.0H394.8V468.1H395.3V477.7H395.7V502.5H395.8V465.8H395.8V404.0H395.9V445.9H395.9V362.8H396.1V448.0H396.2V389.3H397.7V355.5H398.2V447.3H398.5V502.6H398.6V456.5H398.7V455.0H399.0V539.5H399.0V357.9H399.0V372.6H399.4V409.0H399.5V491.0H399.9V369.5H400.0V391.1H400.0V420.5H400.1V494.9H400.1V408.6H400.2V439.9H400.9V414.4H401.0V423.5H401.2V475.5H401.3V531.4H401.3V425.2H402.2V374.0H402.3V444.9H402.5V438.7H402.7V337.9H402.8V383.4H402.8V415.5H403.0V475.3H403.4V584.5H403.6V383.3H404.0V446.8H404.1V513.4H404.2V526.7H404.3V445.1H404.4V412.9H404.5V427.9H404.9V425.4H405.1V407.5H405.2V372.6H405.2V417.0H405.3V452.3H405.3V503.5H405.3V429.0H405.5V519.2H405.5V452.3H405.5V396.0H405.7V455.0H405.7V358.0H405.8V525.8H405.9V524.4H406.0V497.4H406.4V544.5H406.4V416.5H406.5V406.3H406.6V452.7H407.3V460.6H407.7V445.4H407.8V388.2H407.9V349.7H408.1V473.2H408.3V446.4H408.4V477.3H408.6V426.9H408.7V344.6H409.1V367.6H409.4V366.4H409.9V409.3H410.2V326.6H410.2V498.4H410.2V490.4H410.3V337.1H410.3V459.9H410.5V469.7H410.6V409.4H410.7V396.2H410.9V508.6H411.3V444.4H411.3V484.7H411.6V500.4H411.7V432.2H411.7V400.3H411.9V491.9H412.3V540.3H412.4V468.9H412.5V513.6H412.8V421.5H412.8V445.6H412.9V426.0H412.9V464.3H413.0V369.0H413.1V419.9H413.2V343.0H413.4V454.8H413.4V353.0H413.5V387.9H413.8V419.9H413.9V441.3H414.0V429.1H414.5V513.8H414.5V393.3H414.9V363.8H415.0V467.6H415.0V419.8H415.0V418.1H415.0V538.9H415.4V486.0H415.5V392.9H415.7V353.4H415.7V428.5H415.7V519.1H416.1V396.4H416.4V457.7H416.4V413.9H416.4V485.4H416.9V432.9H417.0V420.1H417.0V614.7H417.3V444.4H417.3V442.6H417.4V445.5H417.5V461.3H417.5V420.4H417.8V428.4H418.4V475.7H418.5V384.3H418.5V404.8H418.6V381.6H418.7V384.0H418.7V469.8H419.4V455.8H419.4V294.3H419.5V401.8H420.1V410.9H420.3V422.8H420.4V305.4H420.5V467.7H420.7V340.9H420.7V329.4H420.8V373.3H421.0V401.6H421.0V467.0H421.3V380.3H421.3V447.2H421.6V488.2H421.8V505.4H422.0V375.9H422.3V428.8H422.5V414.7H422.6V496.0H422.9V427.5H422.9V470.8H423.0V434.9H423.1V374.4H423.3V517.6H423.4V381.5H423.6V424.6H423.8V415.2H424.2V491.5H424.3V477.9H424.5V446.2H424.7V434.7H424.9V328.5H425.1V528.6H425.3V416.8H425.4V388.6H425.5V428.7H425.6V493.4H425.8V424.4H426.5V476.2H426.6V444.4H427.1V479.1H427.2V300.6H427.4V419.2H427.4V364.9H427.5V510.4H427.6V503.2H427.7V361.8H427.7V380.4H427.8V509.6H428.2V444.1H428.3V482.3H428.4V509.6H428.8V434.0H429.0V452.0H429.2V439.8H429.3V483.8H429.4V378.2H429.4V450.1H429.4V419.6H429.4V387.6H430.0V512.9H430.3V281.9H430.4V449.9H430.4V449.3H430.5V422.0H430.6V590.1H430.7V449.1H430.7V454.8H430.9V488.3H431.1V387.5H431.2V440.2H431.3V510.8H431.3V367.5H431.4V323.8H431.6V446.9H432.3V426.9H432.4V485.4H432.7V475.1H432.8V446.9H432.8V446.8H433.2V436.5H433.9V434.1H434.0V432.4H434.3V405.7H434.6V445.8H434.8V451.9H435.3V427.2H435.4V471.5H435.8V448.8H436.0V431.7H436.0V391.3H436.2V487.5H436.7V440.3H436.7V281.9H436.9V383.7H437.0V395.1H437.3V494.0H437.4V483.1H437.8V367.0H437.8V503.5H437.8V391.0H438.1V380.5H438.8V370.0H439.2V487.7H439.4V467.6H439.6V428.3H439.8V467.4H440.0V377.0H440.5V427.2H440.7V594.3H440.7V400.9H440.7V459.6H440.8V391.7H441.1V466.0H441.3V609.4H441.6V491.2H441.7V418.9H441.7V468.6H441.7V425.2H442.0V460.3H442.0V418.8H442.2V538.9H442.3V389.1H442.4V522.2H443.1V415.5H443.1V312.1H443.4V387.9H443.7V450.4H444.3V547.1H444.3V460.8H444.6V479.1H444.8V426.2H444.9V494.7H444.9V482.5H445.1V379.0H445.2V541.4H445.3V497.1H445.3V424.9H445.5V367.3H445.8V407.5H446.3V288.9H446.6V456.7H446.9V567.1H447.1V355.5H447.1V341.5H447.3V401.6H447.4V400.3H447.8V488.0H448.0V394.2H448.2V419.7H448.3V407.3H448.4V419.1H449.3V474.8H449.4V382.8H449.7V422.5H449.8V404.7H450.0V405.6H450.1V479.7H450.1V410.7H450.3V425.7H450.3V422.0H450.6V400.8H450.8V412.9H450.9V373.6H450.9V408.7H451.2V472.1H451.3V422.4H451.4V408.4H451.6V482.7H451.9V457.5H451.9V388.4H452.1V475.6H452.3V488.6H452.4V483.2H452.5V343.9H452.5V436.6H452.6V393.6H452.7V410.3H452.9V394.2H453.2V409.6H454.1V395.5H454.3V386.0H454.3V414.8H454.5V386.8H454.7V450.2H454.9V510.4H455.2V561.0H455.3V330.0H455.5V465.0H456.3V421.0H456.5V414.9H456.6V323.0H457.0V350.7H457.0V432.8H457.1V454.9H457.2V410.7H457.5V419.1H457.6V429.7H457.6V412.3H457.7V407.4H457.8V498.6H458.1V478.3H458.1V408.3H458.6V410.3H458.7V478.7H458.7V426.2H458.8V473.9H458.8V301.5H459.0V555.4H459.0V352.6H459.1V501.9H459.6V455.2H459.9V415.3H460.0V376.3H460.2V499.5H460.2V532.2H460.2V451.0H460.3V395.4H460.5V471.5H460.7V369.5H461.3V394.9H461.7V417.9H461.7V447.7H461.7V433.6H461.8V392.3H462.1V433.9H462.1V528.3H462.8V505.2H462.8V483.6H463.0V473.1H463.3V448.4H463.4V461.1H463.8V400.8H464.0V439.3H464.6V429.8H464.6V485.8H464.7V458.3H465.0V495.9H465.4V428.4H465.8V372.9H465.9V486.9H466.0V509.2H466.2V431.8H466.3V399.9H466.6V426.7H466.8V454.1H466.8V468.9H466.9V406.0H467.0V468.7H467.6V468.0H467.7V431.3H467.8V433.6H467.8V437.8H468.3V443.3H468.3V462.9H468.3V476.5H468.8V431.2H468.8V424.2H469.0V417.8H469.3V497.1H469.4V375.4H469.4V326.5H469.5V585.4H469.6V496.6H469.9V375.2H470.1V400.6H470.5V410.6H470.7V346.1H470.7V358.2H471.2V445.6H471.5V365.6H471.5V380.6H471.8V399.3H471.9V445.3H472.6V560.3H472.8V460.9H472.9V449.6H472.9V399.6H473.3V593.8H473.4V581.9H473.5V372.4H473.5V409.8H473.5V440.0H473.7V457.6H474.2V450.6H474.2V448.6H474.6V414.6H474.7V543.9H474.9V361.2H475.2V414.0H475.9V434.3H476.0V413.4H476.0V396.3H476.1V451.8H476.1V518.0H476.5V550.4H476.6V460.9H476.8V492.5H476.9V473.7H477.0V421.5H477.0V307.5H477.1V399.1H477.1V383.1H477.3V448.3H477.4V425.1H478.0V370.5H478.2V490.7H478.3V453.0H478.7V396.0H478.8V294.2H478.8V482.9H478.9V508.2H478.9V421.7H478.9V492.4H479.0V381.0H479.2V500.6H479.5V512.0H479.9V303.5H480.6V429.1H480.7V371.3H481.0V423.8H481.1V488.2H481.2V398.5H481.2V439.8H481.3V478.3H481.4V386.6H481.6V427.9H481.8V459.9H481.9V404.1H482.0V487.2H482.1V509.9H482.2V471.2H482.3V491.3H482.4V477.3H482.4V457.9H482.5V483.8H482.7V381.7H482.7V467.9H482.8V393.3H483.0V379.6H483.4V416.3H483.6V545.2H483.6V438.8H483.6V376.4H483.6V421.8H483.6V335.8H483.6V445.3H483.7V452.8H483.8V488.2H483.9V421.5H484.3V525.5H484.5V491.9H484.8V433.4H484.8V468.2H484.8V456.2H485.1V481.6H485.3V472.9H485.4V388.4H485.5V454.1H485.7V369.6H486.2V406.1H486.4V511.1H486.8V429.0H486.9V482.0H487.0V357.2H487.2V463.1H487.3V472.4H487.3V503.7H487.4V449.6H487.5V446.4H487.5V407.9H487.5V419.0H487.5V492.5H487.6V334.7H487.7V521.0H487.9V431.2H488.0V502.1H488.0V409.7H488.1V471.2H488.3V452.8H488.4V464.7H488.5V433.4H488.8V497.8H489.3V455.7H489.6V424.8H489.7V428.3H489.9V380.1H490.2V358.8H490.3V465.3H491.0V474.3H491.1V509.1H491.1V422.2H491.3V360.7H491.4V521.4H491.4V492.6H491.4V375.6H491.4V452.2H491.5V475.2H491.6V416.2H491.8V424.4H492.0V512.3H492.1V474.0H492.1V504.3H492.6V491.2H492.7V506.2H492.9V443.8H493.0V434.3H493.1V414.8H493.3V376.1H493.4V438.7H493.9V363.3H494.4V486.0H494.5V442.9H494.5V453.4H494.7V308.7H494.9V561.7H495.2V454.0H495.2V488.7H496.0V395.8H496.0V416.3H496.4V425.7H496.4V443.1H496.5V474.3H496.8V469.1H496.8V397.8H497.2V592.2H497.2V475.3H497.3V306.2H497.5V413.9H497.6V487.5H497.8V427.6H497.9V486.9H498.2V450.7H498.2V425.2H498.3V504.1H498.4V503.6H498.7V335.3H498.7V341.1H499.1V507.5H499.2V347.5H499.3V459.1H499.4V344.0H499.4V512.8H499.5V425.5H499.7V375.1H499.8V595.9H499.9V421.0H500.0V352.3H500.1V448.4H500.4V410.9H500.7V468.5H501.2V415.2H501.4V444.7H501.5V373.3H501.8V402.7H502.0V502.2H502.1V410.2H502.4V466.0H502.4V438.4H503.0V490.2H503.1V486.9H503.3V451.9H503.6V422.5H503.6V398.8H503.8V439.0H504.0V540.4H504.0V417.1H504.2V541.3H504.2V303.7H504.3V422.9H504.5V432.2H505.2V373.3H505.3V473.1H505.5V385.7H505.6V468.4H505.7V426.7H505.9V401.3H505.9V414.4H506.1V458.5H506.3V436.6H506.3V399.7H506.4V385.9H506.4V479.6H506.5V409.9H506.6V411.2H506.6V381.5H506.9V584.3H507.1V444.1H507.2V357.6H507.3V425.3H507.4V433.1H507.5V496.8H508.6V469.0H508.7V444.2H508.8V415.8H508.8V438.1H509.0V475.6H509.3V527.6H509.3V415.7H509.4V450.6H509.4V366.1H509.7V470.9H509.8V407.8H509.9V549.5H509.9V493.3H510.1V487.9H510.1V419.2H510.1V466.1H510.3V493.3H510.9V400.3H511.6V521.5H511.9V409.6H512.1V505.1H512.4V422.1H512.6V539.6H512.6V408.9H512.6V385.2H512.8V440.4H512.9V406.8H513.0V467.7H513.3V512.6H513.3V404.3H513.4V457.3H513.5V375.3H513.9V390.5H514.1V392.5H514.6V315.4H515.0V406.4H515.0V462.3H515.3V405.2H515.5V371.0H515.7V514.2H515.8V402.3H515.9V466.1H516.9V481.4H517.1V369.2H517.1V383.3H517.1V388.2H517.2V475.9H517.2V403.6H517.3V545.5H517.3V402.2H517.6V409.4H517.8V413.7H518.7V423.7H518.7V380.9H518.8V455.4H519.1V395.0H519.2V478.1H519.7V487.7H519.8V404.3H519.8V427.3H520.0V368.2H520.8V518.9H521.2V474.3H521.2V367.4H521.2V544.2H521.2V431.7H521.3V379.0H521.3V503.4H521.9V499.1H522.5V448.8H522.6V441.3H522.6V428.0H522.7V486.2H522.7V475.7H522.9V389.0H523.1V580.0H523.2V477.1H523.3V474.8H523.4V494.3H523.6V472.0H523.8V468.2H524.4V499.8H524.5V436.8H524.7V472.1H524.8V334.2H525.1V425.0H525.2V452.0H525.4V405.6H525.8V403.5H525.8V457.4H526.0V446.8H526.0V470.4H526.3V364.0H526.8V342.7H526.9V425.1H527.3V514.5H527.3V465.2H527.8V525.1H527.8V541.7H527.8V488.5H527.8V538.4H528.2V404.4H528.4V302.7H528.4V410.8H528.8V456.3H529.0V438.9H529.3V442.2H529.4V413.8H529.4V463.7H529.9V492.6H530.0V412.9H530.3V318.9H530.3V520.8H530.5V413.2H530.6V417.6H530.6V430.4H530.8V410.3H531.0V435.4H531.1V373.3H531.5V442.7H531.6V489.1H531.6V449.3H531.7V506.5H531.8V445.9H532.0V495.1H532.2V452.1H532.2V450.2H532.4V512.6H532.5V478.6H532.7V453.5H532.7V451.2H533.0V404.1H533.0V416.5H533.1V457.5H533.2V445.0H533.3V506.8H533.4V428.4H533.5V388.8H533.8V353.1H534.0V433.8H534.2V481.9H534.8V414.5H534.9V455.4H535.3V479.1H535.5V404.9H535.6V442.6H535.9V504.7H535.9V391.0H536.0V435.2H536.6V467.7H537.0V379.7H537.1V392.8H537.3V400.0H537.5V498.0H537.5V419.5H537.7V537.7H537.8V441.9H538.0V477.1H538.1V463.0H538.6V407.9H538.7V489.0H538.8V484.1H538.9V418.1H539.0V450.4H539.3V464.5H539.5V565.1H539.5V443.1H539.5V449.3H539.7V403.9H539.8V568.9H539.8V470.3H539.9V517.8H540.3V279.2H540.6V516.6H540.9V486.0H541.0V518.5H541.3V446.4H541.6V522.2H543.2V462.3H543.5V400.8H544.2V396.4H544.2V469.1H544.7V411.3H544.7V493.7H544.8V424.3H544.9V521.2H545.1V486.0H545.2V505.0H545.5V386.9H546.2V314.3H546.9V422.3H547.0V552.3H547.6V487.3H548.0V429.5H548.0V411.9H548.4V467.2H548.5V507.7H548.6V501.9H548.7V455.8H549.0V401.1H549.2V457.5H549.2V428.9H549.3V403.9H549.6V386.8H549.8V446.1H549.9V412.8H550.0V414.9H550.2V379.8H550.6V407.5H550.7V439.4H550.8V487.0H551.3V512.7H551.5V485.8H551.9V381.6H551.9V400.3H552.0V485.7H552.0V549.0H552.7V438.9H552.7V363.4H553.0V454.7H554.0V552.5H554.1V474.2H554.3V479.1H554.3V489.3H554.7V474.8H554.8V485.4H554.8V398.6H555.1V393.1H555.3V436.3H555.4V368.6H555.5V428.3H555.6V410.4H555.7V497.0H556.5V452.6H556.5V419.2H556.6V493.8H556.7V442.9H557.0V450.6H557.1V514.3H557.2V439.6H557.9V352.1H558.6V364.5H558.9V521.2H559.0V373.2H559.6V449.3H560.3V571.5H560.8V491.8H561.5V481.5H561.7V329.9H561.8V385.2H562.2V385.9H562.6V416.2H562.7V415.3H563.3V400.3H563.5V486.7H563.8V450.4H564.0V449.8H564.2V419.0H564.6V348.0H564.6V455.7H564.6V467.4H564.6V408.7H564.6V343.6H565.1V373.8H565.1V497.5H565.4V466.2H565.6V539.2H566.7V459.6H567.1V453.0H567.6V327.2H567.6V507.8H567.9V498.7H568.6V396.6H568.8V394.7H568.9V506.6H569.5V464.6H569.5V391.0H569.7V447.1H569.9V528.1H570.1V444.3H570.5V369.4H570.5V413.0H570.6V433.7H571.2V442.7H571.8V394.1H571.9V428.3H571.9V459.1H572.0V423.1H572.3V420.0H572.5V395.1H572.7V415.7H573.4V417.0H573.6V395.1H573.7V377.3H573.8V500.0H574.2V464.9H575.1V420.3H575.1V449.8H575.2V407.2H575.7V387.5H576.2V376.8H576.4V461.4H576.5V395.7H576.8V425.5H577.2V402.5H577.3V382.8H577.3V381.3H578.0V427.8H578.1V423.2H578.7V440.6H578.9V350.4H579.3V492.7H579.4V344.0H579.5V450.3H579.7V455.9H580.1V545.9H580.2V510.5H580.3V379.6H580.3V545.4H580.5V446.1H580.8V455.3H581.5V421.0H581.7V515.4H581.9V531.4H582.0V405.1H582.3V419.9H582.5V379.5H583.0V531.6H583.2V418.1H583.3V468.7H583.4V457.3H583.4V414.1H583.5V470.5H583.7V414.2H584.5V407.2H584.7V420.2H584.7V410.4H584.7V369.8H584.8V533.8H585.1V469.6H585.8V365.9H585.9V384.7H586.0V446.4H586.2V467.7H586.5V368.8H586.5V410.8H586.6V472.8H586.7V407.2H587.1V419.8H587.3V468.3H587.4V457.2H587.4V449.6H587.4V504.0H587.7V418.2H587.7V403.9H587.9V499.9H588.3V456.7H588.3V456.8H589.2V417.2H589.3V459.8H589.3V402.0H589.3V374.9H589.3V417.9H589.4V415.0H589.4V468.5H589.5V423.6H590.2V409.4H590.2V459.9H590.3V474.5H590.4V415.5H590.5V572.0H590.9V405.6H590.9V471.1H591.4V443.2H591.7V424.2H592.2V454.6H592.4V457.8H592.9V488.0H593.5V405.0H593.6V472.3H593.9V376.7H594.0V478.6H594.2V435.3H594.7V428.8H594.7V432.8H595.2V423.7H595.3V388.6H595.4V488.8H596.0V412.4H596.2V418.6H596.4V441.7H597.2V466.9H597.3V469.3H597.4V407.4H597.5V303.7H597.5V496.5H597.9V443.4H598.1V492.8H598.2V435.8H598.3V494.5H598.3V422.6H598.5V430.4H598.7V410.1H598.9V339.8H599.3V519.4H599.4V424.5H599.5V466.0H599.8V433.0H599.9V407.0H600.0V383.7H600.9V456.7H601.0V422.8H601.0V417.0H601.3V370.1H601.3V508.4H601.4V463.7H601.6V479.7H601.7V407.9H601.7V463.5H602.0V431.1H602.1V415.2H602.2V495.1H602.3V416.5H603.4V369.5H603.7V464.8H604.0V473.2H604.1V420.9H604.1V425.3H604.5V469.6H604.8V394.3H605.2V426.8H605.7V489.4H605.7V413.0H605.9V453.7H606.2V414.1H606.5V425.5H606.6V373.2H606.7V461.1H607.0V311.0H607.2V443.9H607.4V427.7H607.5V412.1H607.6V459.1H607.8V455.0H608.2V443.0H608.2V440.4H608.5V467.0H608.6V466.6H608.7V392.6H608.7V411.6H608.8V546.3H609.3V426.9H609.6V472.5H610.0V519.0H610.1V479.9H610.2V498.2H610.5V487.3H610.5V368.1H610.5V439.2H610.5V466.5H610.8V431.1H611.2V469.7H611.5V423.3H611.6V421.5H611.6V479.9H611.7V415.3H611.7V460.9H611.9V405.3H612.2V470.5H612.3V424.2H612.5V453.6H612.8V474.2H612.8V356.0H613.4V446.6H613.5V450.3H613.9V420.0H614.1V549.1H614.2V506.7H614.2V511.4H615.2V403.2H615.2V441.5H615.6V350.5H615.6V383.6H615.9V434.8H616.5V341.6H616.6V503.6H616.7V418.1H616.9V440.9H617.2V405.5H617.4V454.1H617.8V458.7H617.8V506.2H618.3V391.4H618.4V431.0H619.0V439.9H619.1V360.8H619.1V401.5H619.2V466.9H619.5V456.4H619.8V406.1H620.1V410.1H620.1V445.2H620.3V410.1H620.4V454.0H620.6V429.5H620.8V450.1H620.9V383.6H621.0V395.0H621.0V442.4H621.0V435.0H621.1V434.5H621.3V429.5H621.5V349.1H621.6V394.4H621.9V477.3H622.0V401.0H622.2V440.2H622.5V438.2H622.6V446.2H623.2V405.8H623.5V500.7H623.9V424.5H624.2V402.4H624.4V430.3H624.5V461.2H624.6V429.1H624.9V394.5H625.0V452.3H625.1V444.6H625.2V440.6H625.3V432.8H625.4V332.0H625.5V496.5H625.6V390.4H625.6V407.3H625.8V413.8H626.0V413.9H626.3V394.8H626.8V389.5H627.1V485.2H627.2V470.2H627.2V426.5H627.3V396.7H627.4V407.0H628.0V439.2H628.9V450.7H629.4V375.3H629.8V415.1H629.9V458.9H630.6V431.9H630.7V388.0H630.7V376.8H630.7V468.0H631.4V451.7H631.5V444.6H631.6V421.4H632.3V492.0H632.7V424.5H633.1V444.6H633.4V447.3H634.9V462.1H635.0V486.9H635.1V463.4H635.5V411.3H635.6V470.9H635.7V414.2H635.8V427.7H635.8V460.9H635.8V418.7H636.0V423.7H636.2V524.6H636.4V456.8H636.7V453.1H636.8V390.1H636.8V489.1H637.0V474.6H637.2V428.7H637.3V426.7H637.7V407.4H637.9V405.4H638.1V456.4H638.1V467.0H638.1V498.6H639.0V432.7H639.1V500.8H639.1V402.9H640.3V548.6H640.4V371.2H641.3V418.8H641.4V418.9H641.4V423.6H641.5V478.7H641.6V422.5H642.1V426.1H642.2V503.6H642.2V460.4H642.8V524.5H643.7V450.0H643.9V448.2H644.0V498.6H644.2V535.4H644.5V478.2H644.6V366.4H644.8V528.8H645.0V383.0H645.2V511.9H645.2V451.0H645.2V345.9H646.0V380.4H646.1V466.2H647.3V455.1H647.5V430.8H648.0V438.6H649.2V473.5H649.3V509.7H649.4V563.8H649.6V433.7H650.1V450.4H650.7V482.6H651.0V425.4H651.2V460.8H651.4V430.8H651.4V482.5H652.2V503.1H652.2V457.1H652.3V434.2H652.4V444.3H652.5V435.9H652.8V452.4H652.9V454.4H652.9V414.1H653.1V329.8H653.4V403.5H653.9V455.7H654.2V527.7H654.5V430.4H654.8V445.8H654.9V427.9H655.4V453.3H655.6V462.7H656.9V486.1H657.2V476.8H657.5V461.5H657.8V407.2H658.4V468.9H658.6V422.1H659.2V370.3H659.4V436.2H659.4V465.3H660.0V454.3H660.0V410.5H660.3V466.3H660.3V486.1H660.9V483.6H661.1V457.1H661.2V496.0H661.3V443.2H661.7V456.5H662.0V451.0H662.1V474.5H662.2V349.6H662.4V421.1H662.6V436.5H662.8V454.6H663.2V370.0H663.9V356.3H664.1V358.7H664.3V404.1H664.3V463.6H664.6V465.4H666.2V408.9H666.4V462.7H666.6V400.9H666.9V493.9H667.6V461.3H668.1V428.0H668.2V426.4H668.3V416.2H668.3V467.4H668.8V449.8H668.8V428.2H669.2V383.5H669.2V365.2H669.4V416.5H669.5V481.5H669.6V428.7H669.9V469.2H670.0V447.5H670.2V472.6H670.3V458.0H670.7V415.4H671.2V424.8H671.8V424.7H672.1V494.2H672.3V384.5H672.3V502.3H673.2V406.9H673.8V469.9H674.3V484.9H674.5V431.0H674.8V452.9H675.0V439.9H675.3V379.3H675.3V462.6H675.3V457.9H675.3V457.9H675.5V431.6H675.9V427.5H676.4V410.3H676.6V407.6H676.7V448.1H676.7V454.4H676.8V467.5H677.0V453.5H677.0V430.6H677.1V379.2H677.2V409.6H677.9V446.0H678.1V463.9H678.4V422.8H678.6V433.0H679.3V467.9H679.7V391.5H679.8V376.2H679.8V496.7H680.2V447.5H681.0V433.8H681.2V503.9H682.1V415.7H682.4V453.3H682.8V427.1H683.5V415.1H684.0V447.0H684.3V451.5H684.4V501.4H684.7V391.0H684.9V400.2H685.3V449.7H685.4V426.3H685.5V419.7H685.6V429.1H686.1V444.3H686.2V458.3H686.3V493.2H686.5V454.3H686.9V448.3H687.2V453.0H687.7V398.5H687.8V466.0H688.5V490.6H688.7V398.1H688.8V415.1H688.9V327.7H690.1V450.4H690.3V383.1H690.6V437.8H690.6V421.7H690.8V425.0H690.9V430.3H692.1V419.9H692.8V500.1H693.5V451.4H694.6V442.8H695.2V480.6H695.4V430.1H697.1V477.6H697.2V424.3H697.4V471.2H697.8V403.3H697.9V433.6H698.8V384.3H699.0V396.2H699.1V449.7H699.3V481.9H699.8V531.7H700.4V521.1H701.0V364.3H701.0V421.1H701.7V403.5H701.9V551.5H702.9V504.4H703.1V364.4H703.6V453.6H703.7V396.5H703.9V379.3H704.0V415.0H704.0V509.2H704.1V401.4H704.4V557.7H704.5V471.7H705.3V404.6H705.3V440.6H705.7V469.0H706.0V409.7H706.3V389.2H706.3V408.8H706.3V430.1H706.8V530.1H706.9V441.6H707.3V436.0H707.7V424.4H708.0V437.6H708.2V420.8H708.6V492.3H709.3V417.4H709.9V465.4H710.4V399.5H710.9V432.8H711.2V477.4H711.4V429.4H712.7V497.7H713.7V379.7H713.9V427.7H714.4V427.1H714.4V422.4H714.5V433.7H714.5V528.8H715.1V439.5H715.9V411.4H715.9V453.5H716.7V424.4H717.2V446.7H717.5V431.1H718.4V404.3H718.8V425.8H718.9V458.6H719.7V445.8H720.2V461.6H720.9V417.5H721.0V416.4H721.3V460.4H721.7V401.7H722.1V433.3H722.7V478.6H722.8V505.3H723.0V427.1H723.2V455.8H723.4V443.2H724.0V357.1H724.0V463.8H724.2V464.0H724.6V416.8H725.0V365.2H725.1V448.0H726.1V514.3H726.4V393.2H726.5V431.9H727.2V504.4H727.6V476.2H727.9V439.7H728.8V395.1H729.4V507.9H729.9V418.4H731.0V514.8H731.1V432.0H731.5V475.8H732.6V453.0H732.7V463.7H733.8V426.9H734.1V463.8H734.2V461.9H734.5V398.0H735.1V417.0H736.1V400.6H738.7V433.4H739.4V437.3H739.9V455.8H741.7V426.7H742.5V431.3H743.3V421.1H743.9V421.9H744.3V442.1H744.4V443.9H746.5V415.0H748.2V410.3H749.6V459.0H751.3V446.2H753.6V375.6H754.0V458.1H756.1V338.7H757.1V472.6H757.1V442.6H757.5V427.8H757.9V536.4H760.7V458.5H761.2V455.6H761.5V414.6H762.1V421.3H762.1V389.3H762.7V383.5H762.8V485.1H763.2V422.8H763.5V399.0H763.8V533.5H764.1V407.4H764.3V516.1H764.4V475.1H764.5V433.2H764.7V465.7H765.2V425.4H765.7V464.6H766.2V508.8H767.1V449.9H769.5V452.7H769.9V447.6H770.6V427.9H770.9V449.6H771.3V482.0H771.9V425.2H772.6V383.2H773.1V472.8H775.5V465.8H775.7V517.2H775.9V470.4H778.8V386.9H781.0V491.3H781.4V448.5H782.5V379.5H783.2V443.0H784.7V386.6H785.4V438.7H785.4V453.5H785.5V413.9H785.9V446.9H786.6V438.8H787.8H787.9V338.0H788.0V440.9H789.5V490.8H790.1V483.0H793.7V489.7H795.7V417.6H797.7V386.0H799.3V439.2H800.8V418.0H800.9V433.7H801.5V438.4H803.2V550.3H804.2V421.6H804.4V513.9H804.8V468.8H804.8V482.7H805.2V401.7H806.3V543.5H807.4V354.2H808.2V469.6H808.6V470.4H808.8V488.1H809.0V431.1H809.0V469.9H809.0V336.2H810.1V417.6H810.2V405.8H810.4V437.1H811.8V482.1H812.9V429.3H813.1V462.6H813.4V459.9H813.8V443.3H814.4V444.4H814.6V466.3H814.8V424.0H815.6V395.7H816.3V409.7H816.6V469.2H817.2V392.5H817.2V397.7H818.2V543.8H818.2V442.7H818.5V433.0H819.0V413.8H819.3V476.0H819.4V422.8H819.5V370.7H819.7V419.2H819.8V463.6H820.1V441.9H820.4V520.4H820.5V451.8H820.9V462.6H823.2V396.5H823.4V428.9H823.6V428.5H824.4V407.9H825.4V405.6H825.5V341.3H825.9V420.7H826.3V462.0H826.9V450.8H828.1V392.3H828.1V453.3H828.3V433.5H828.5V452.8H828.7V424.2H829.2V525.7H829.5V527.2H830.5V434.9H831.8V414.0H832.1V502.3H832.5V392.7H833.3V456.7H833.6V449.6H834.5V415.6H835.1V469.3H837.8V397.7H839.8V448.9H839.9V354.2H840.7V451.8H841.9V442.5H842.6V369.6H842.6V437.5H842.7V428.8H847.1V429.6H847.6V421.0H847.6V482.6H847.9V409.1H848.1V432.6H848.2V494.7H848.5V418.6H849.0V421.1H849.1V425.0H849.2V432.0H849.5V428.6H850.0V440.9H850.1V481.4H850.6V454.6H850.7V392.7H851.5V462.1H852.3V334.8H852.7V390.7H852.7V419.1H853.1V498.8H853.1V408.3H853.5V438.5H853.9V446.5H855.1V469.0H855.5V464.8H856.1V454.3H857.0V456.7H857.3V478.1H857.5V389.7H857.8V444.2H858.2V447.0H858.5V418.6H858.8V406.5H859.2V472.5H860.0V486.4H860.1V415.7H860.8V426.6H861.7V437.3H861.8V363.5H862.1V521.1H862.1V341.5H862.4V430.1H864.1V460.1H864.6V491.1H864.9V449.6H866.8V378.0H867.1V425.4H867.2V488.1H867.5V438.7H868.2V471.1H868.5V542.0H869.6V362.2H869.7V420.8H870.2V439.0H870.9V462.5H871.1V422.9H871.4V414.3H872.3V363.6H873.4V450.0H874.1V435.6H875.9V456.2H876.6V542.0H877.7V410.1H877.8V427.4H879.1V447.3H881.7V429.3H882.3V487.6H883.0V444.8H883.7V444.5H883.7V514.3H884.1V402.5H885.1V479.7H885.2V432.7H885.8V498.7H887.4V430.7H888.0V440.9H888.3V444.0H888.4V465.5H888.6V463.2H890.0V408.6H891.9V416.6H892.6V494.1H893.5V503.4H894.2V387.3H894.5V493.5H894.7V508.3H895.2V487.9H897.2V408.4H897.9V381.9H898.4V420.6H898.5V413.0H898.9V411.2H900.2V469.7H901.5V435.5H901.6V442.0H902.0V460.4H902.0V456.9H902.1V475.4H902.4V541.5H902.8V418.6H902.9V410.1H903.1V412.5H903.1V420.9H903.2V469.0H903.8V413.3H903.8V459.0H904.9V447.1H905.1V417.3H905.7V475.2H906.7V423.3H907.9V374.0H909.0V475.3H910.2V405.3H911.9V451.0H913.3V450.7H913.8V433.8H916.9V432.2H917.2V434.6H917.4V442.4H918.4V417.5H919.0V488.5H924.7V449.7H925.5V393.5H925.6V458.4H925.6V434.9H926.1V439.4H926.5V434.9H926.8V454.5H929.6V453.7H930.9V436.0H931.6V507.0H934.6V423.8H937.6V437.0H938.0V442.5H943.7V505.8H945.4V441.4H947.6V435.4H951.3V435.7H952.0V446.4H952.3V443.0H955.2V436.6H955.9V351.2H956.1V422.0H960.6V414.7H961.7V446.2H962.1V444.6H962.2V438.5H963.4V425.0H966.3V437.2H968.6V438.3H970.8V419.3H971.8V439.0H973.7V438.1H975.4V435.1H975.8V433.5H976.5V394.8H978.4V439.4H983.0V436.1H985.4V422.9H985.5V437.6H987.5V417.5H990.1V512.1H990.7V433.3H991.3V440.0H991.5V455.7H991.7V428.2H994.3V431.3H995.5V470.4H995.7V375.2H997.8V369.3H998.0V468.2H998.5V376.5H999.0V352.9H999.4V420.3H1000.0V411.9H1000.9V451.5H1001.8V484.8H1002.2V431.7H1002.9V505.1H1003.7V450.5H1004.1V457.5H1004.9V459.4H1005.1V473.1H1006.4V441.2H1008.8V417.9H1009.6V438.2H1011.0V378.7H1011.5V433.5H1011.8V432.8H1015.5V420.6H1016.6V467.5H1017.8V425.1H1018.3V436.7H1025.2V439.4H1027.0V401.7H1027.9V436.7H1035.5V439.5H1036.2V500.7H1039.2V451.4H1044.9V437.3H1046.9V438.7H1050.0V439.6H1053.1V389.6H1054.4V438.1H1054.6V428.8H1055.0V437.5H1055.6V418.3H1059.9V411.4H1060.2V436.0H1060.6V448.4H1061.4V437.6H1061.4V508.4H1062.4V453.1H1062.5V443.0H1063.3V469.6H1063.7V366.8H1063.8V447.5H1064.0V475.9H1064.2V452.1H1066.8V465.8H1067.0V474.9H1067.0V420.1H1068.2V361.9H1070.8V453.8H1071.3V459.8H1072.8V426.3H1073.2V417.4H1073.7V345.7H1074.8V426.5H1075.6V462.9H1076.7V463.1H1077.8V448.6H1078.6V478.2H1079.8V453.0H1081.4V437.2H1086.6V421.3H1087.2V434.6H1095.6V435.5H1097.8V435.0H1099.2V439.4H1103.1V421.3H1103.3V420.1H1104.4V431.0H1105.0V426.3H1105.9V442.6H1106.3V428.6H1107.3V511.3H1109.1V415.8H1109.2V419.7H1110.0V405.1H1110.3V434.4H1111.5V435.8H1111.9V467.0H1112.4V426.8H1112.4V453.5H1114.1V425.4H1115.8V383.5H1115.9V412.5H1116.0V476.7H1116.4V443.5H1116.6V462.0H1118.4V460.1H1119.8V421.9H1120.2V435.3H1120.7V442.4H1121.3V508.0H1122.7V452.8H1123.4V407.4H1123.6V425.5H1125.2V404.7H1125.2V470.9H1127.0V422.5H1128.7V389.2H1128.7V417.3H1129.1V468.5H1129.9V448.6H1132.0V436.2H1132.5V443.5H1133.7V437.6H1134.0V442.0H1140.9V373.5H1141.1V454.7H1141.3V435.4H1141.9V462.1H1143.7V436.0H1143.8V471.1H1144.8V433.8H1145.3V427.7H1145.3V404.7H1145.5V411.9H1145.7V452.9H1146.2V378.8H1147.4V453.5H1147.5V509.8H1147.8V418.4H1147.9V460.1H1148.0V454.8H1148.6V431.1H1148.7V448.2H1148.7V473.1H1149.4V450.4H1150.2V481.1H1151.1V403.0H1153.8V437.3H1154.2V430.0H1154.4V452.4H1155.4V455.8H1156.9V404.5H1157.2V391.6H1157.7V422.5H1157.7V454.4H1158.1V439.8H1158.2V435.7H1159.8V407.0H1162.2V391.9H1162.9V383.5H1165.7V401.3H1166.9V411.2H1167.0V420.6H1167.5V469.6H1169.1V426.4H1169.4V414.5H1170.4V439.7H1170.8V425.1H1171.2V470.6H1171.6V449.5H1174.0V441.0H1174.6V416.7H1177.2V534.0H1177.4V438.7H1180.2V480.6H1180.7V438.8H1181.8V443.9H1184.4V437.9H1187.2V486.2H1187.6V458.1H1188.5V471.4H1189.2V453.1H1189.4V392.4H1189.8V433.5H1190.4V459.0H1190.8V452.0H1191.5V423.8H1191.6V456.1H1194.2V438.7H1196.1V408.8H1196.8V431.3H1198.4V411.1H1198.5V437.4H1199.5V468.8H1201.8V485.3H1202.2V426.5H1204.7V407.1H1204.9V459.1H1205.5V432.8H1207.6V396.0H1208.8V412.4H1208.8V435.1H1209.1V409.6H1210.7V421.8H1211.1V414.3H1215.1V464.4H1217.7V480.2H1220.2V412.5H1220.4V423.7H1220.4V456.5H1220.8V456.1H1221.5V466.6H1222.1V438.3H1222.9V440.3H1225.0V386.6H1225.2V413.5H1227.8V430.7H1227.9V440.0H1228.2V414.5H1229.4V480.8H1230.0V434.9H1230.1V424.0H1230.3V413.5H1232.7V404.2H1233.4V452.1H1234.6V467.7H1241.5V429.6H1241.9V436.0H1243.8V425.4H1243.9V463.9H1245.3V449.9H1245.6V433.9H1245.7V436.4H1246.1V415.2H1246.9V409.8H1247.9V445.2H1247.9V435.2H1248.7V385.7H1250.2V479.6H1252.0V488.3H1252.3V476.3H1252.5V407.5H1252.8V429.5H1254.4V438.7H1255.0V437.8H1264.1V434.3H1264.5V420.9H1265.4V433.7H1266.0V429.3H1266.1V367.3H1266.5V402.5H1266.6V389.2H1266.9V470.2H1267.2V444.6H1268.6V413.5H1268.7V413.1H1268.8V443.2H1268.9V438.1H1270.1V416.2H1271.4V429.3H1272.7V467.7H1273.4V442.3H1273.6V454.2H1274.3V461.7H1281.9V467.1H1284.8V462.9H1285.9V476.4H1291.0V437.2H1294.2V442.4H1294.5V454.9H1295.9V458.7H1296.9V459.3H1297.2V442.5H1298.8V467.9H1299.1V455.7H1299.3V441.2H1300.6V470.2H1300.8V484.9H1301.0V443.5H1302.3V356.7H1302.5V443.6H1302.9V457.5H1303.7V468.8H1304.7V429.6H1305.1V414.8H1308.8V415.1H1313.4V475.9H1314.3V417.5H1314.8V452.3H1314.8V431.3H1315.1V435.4H1315.3V437.5H1317.9V541.8H1319.7V441.8H1320.3V436.9H1320.5V444.3H1320.5V483.8H1321.9V451.9H1322.8V417.2H1323.2V440.9H1323.5V434.5H1324.3V437.8H1326.0V385.4H1327.6V467.4H1328.3V420.4H1328.6V428.9H1331.8V532.9H1331.8V521.3H1332.5V471.1H1332.5V457.8H1333.3V458.3H1333.8V465.9H1335.4V484.0H1335.5V449.3H1335.6V430.2H1336.6V427.0H1337.3V383.2H1338.7V439.9H1341.7V438.4H1342.2V436.6H1342.5V425.2H1344.3V428.9H1344.4V426.3H1344.8V461.4H1345.5V471.7H1348.8V414.1H1349.3V457.9H1349.6V423.5H1351.0V415.1H1352.6V453.6H1353.0V497.7H1355.1V481.0H1355.7V454.7H1357.9V435.1H1358.8V433.4H1359.0V399.4H1363.9V431.5H1369.8V448.8H1370.7V458.7H1374.3V435.2H1375.2V440.4H1375.4V434.0H1375.6V449.6H1376.1V421.0H1377.2V391.7H1378.9V434.6H1379.9V408.6H1381.3V453.8H1381.4V461.3H1381.4V420.1H1381.5V400.9H1384.1V414.1H1385.0V452.4H1386.7V440.7H1388.1V430.6H1402.4V438.0H1403.4V472.0H1403.7V462.3H1405.5V445.5H1406.8V429.0H1407.9V439.1H1408.2V416.9H1408.6V436.0H1408.6V494.4H1408.8V439.7H1408.9V345.1H1409.1V457.3H1410.1V424.8H1410.3V469.0H1411.0V433.5H1411.3V420.1H1411.7V432.8H1412.1V378.5H1412.7V375.1H1413.1V417.0H1414.0V470.8H1414.6V424.0H1415.6V444.2H1415.7V382.6H1415.9V407.1H1415.9V462.6H1416.5V474.0H1416.7V471.6H1417.1V447.4H1417.7V417.4H1417.9V432.5H1419.1V432.1H1421.4V429.5H1421.5V412.4H1422.1V421.3H1422.3V464.9H1422.9V500.7H1423.2V444.0H1423.3V419.5H1423.7V491.6H1424.3V359.3H1424.5V436.7H1425.3V414.2H1428.4V412.0H1429.2V437.5H1430.2V427.8H1430.3V454.8H1431.5V388.3H1434.0V432.5H1434.6V416.5H1436.6V403.6H1436.9V443.9H1437.5V418.0H1437.9V452.7H1438.7V398.7H1439.3V450.1H1440.9V502.5H1441.7V347.7H1443.5V436.9H1448.4V414.2H1448.8V459.3H1449.9V426.9H1451.1V449.5H1452.4V416.9H1453.5V447.1H1454.0V376.6H1455.1V407.9H1456.6V439.6H1457.2V420.5H1457.3V419.2H1458.2V441.6H1459.8V434.4H1460.9V440.1H1461.0V477.1H1462.2V390.8H1462.4V420.0H1463.1V457.2H1463.7V417.5H1465.6V422.6H1467.3V436.9H1467.5V348.5H1467.7V490.2H1469.7V464.9H1470.0V420.3H1470.4V423.6H1471.4V424.4H1471.7V446.8H1472.5V453.4H1472.5V450.1H1472.9V421.7H1473.5V425.3H1473.8V473.5H1474.6V461.6H1474.8V397.1H1475.1V511.6H1477.5V416.7H1477.6V426.9H1478.5V399.2H1478.8V451.1H1478.9V404.4H1480.5V440.5H1481.4V460.5H1481.9V451.8H1483.5V479.7H1484.2V447.8H1487.2V508.0H1487.4V443.3H1488.4V504.1H1490.6V451.9H1498.1V462.5H1498.1V445.9H1499.1V465.5H1499.3V441.1H1500.2V407.3H1500.4V444.0H1500.7V429.0H1500.8V426.1H1502.0V439.8H1502.1V442.3H1502.3V433.7H1503.0V466.3H1503.6V420.6H1507.4V438.5H1507.8V442.9H1510.2V452.6H1513.6V476.0H1514.7V425.8H1515.6V476.8H1518.2V427.8H1518.7V403.5H1519.3V411.7H1522.5V439.3H1527.4V439.0H1527.9V445.1H1528.3V419.2H1528.9V486.0H1528.9V447.5H1529.5V421.2H1530.3V478.2H1530.8V404.2H1532.2V427.2H1533.2V443.1H1534.3V378.6H1534.6V446.3H1535.1V406.6H1535.3V412.8H1535.3V452.6H1535.5V409.8H1535.6V427.2H1536.5V419.3H1536.7V490.6H1537.6V444.3H1538.4V423.1H1538.9V433.4H1539.5V391.8H1539.7V453.5H1539.8V453.3H1541.0V414.3H1542.2V443.6H1543.0V412.4H1544.2V436.9H1550.9V410.9H1553.1V444.7H1554.6V437.7H1554.7V435.4H1554.7V434.9H1554.7V434.0H1557.7V436.3H1563.2V431.2H1564.2V435.2H1564.8V436.2H1565.4V442.4H1570.8V468.2H1573.3V440.0H1580.1V439.1H1580.5V439.5H1583.5V441.8H1584.5V435.5H1585.9V405.2H1586.2V426.7H1587.6V433.9H1588.1V437.7H1588.7V436.3H1593.0V415.4H1593.7V442.8H1596.7V394.2H1596.7V430.1H1597.5V359.8H1599.1V413.6H1599.3V425.3H1600.5V436.9H1601.1V502.6H1602.6V427.4H1603.4V415.1H1604.0V464.0H1604.4V446.8H1604.8V435.5H1605.7V422.4H1607.2V441.6H1609.3V438.2H1610.5V436.2H1616.0V406.6H1619.2V434.2H1619.5V445.2H1620.0V458.0H1620.6V411.7H1621.9V427.1H1622.1V435.7H1622.9V442.9H1623.8V432.7H1623.9V446.0H1623.9V377.6H1624.1V470.8H1628.6V416.1H1629.4V446.9H1629.7V439.8H1630.7V476.4H1631.5V429.6H1631.8V430.1H1634.5V452.6H1635.0V427.6H1636.5V453.5H1636.8V459.3H1637.1V440.2H1638.2V499.7H1638.2V442.9H1638.8V443.3H1639.4V478.5H1639.7V458.3H1640.0V409.6H1641.9V449.8H1642.8V448.3H1642.8V464.1H1643.4V445.0H1645.4V470.0H1646.2V436.4H1646.8V418.0H1647.6V427.5H1647.7V437.2H1649.6V522.0H1650.3V367.0H1650.6V448.7H1651.1V452.2H1651.3V427.1H1651.5V424.9H1652.9V460.4H1655.6V445.2H1656.7V424.5H1656.9V478.1H1656.9V436.6H1657.0V429.1H1657.6V463.9H1657.8V407.4H1658.4V496.2H1658.8V424.9H1659.2V410.8H1660.1V446.4H1660.7V415.1H1661.4V418.0H1662.7V421.0H1662.7V444.3H1663.1V430.0H1663.4V444.5H1663.6V500.9H1663.6V353.9H1664.8V380.6H1665.6V403.4H1667.4V475.4H1667.8V440.6H1668.2V435.2H1668.7V457.9H1668.8V367.5H1669.5V450.9H1669.7V453.4H1672.5V390.1H1674.5V421.4H1675.2V417.8H1675.5V410.0H1675.7V429.3H1676.7V412.7H1677.0V424.7H1677.8V405.4H1677.9V425.2H1678.4V439.4H1679.1V419.3H1680.3V401.4H1680.5V427.3H1681.4V445.5H1683.0V416.6H1683.0V470.3H1686.3V481.1H1686.6V374.0H1686.6V466.2H1688.8V485.9H1689.4V483.0H1689.9V453.7H1690.6V427.7H1692.7V433.8H1692.9V429.2H1692.9V433.8H1693.4V436.1H1694.3V445.6H1694.3V424.1H1694.4V364.9H1695.1V469.5H1695.1V447.2H1695.5V383.6H1696.9V398.2H1697.4V433.7H1698.2V528.1H1698.8V448.0H1699.0V452.2H1699.8V457.9H1701.1V478.3H1701.3V431.5H1701.4V454.0H1702.2V454.7H1702.3V483.1H1705.6V435.1H1705.8V444.7H1705.8V434.2H1706.2V411.9H1706.5V456.7H1708.4V437.9H1713.0V439.0H1713.8V432.2H1715.2V428.5H1720.6V437.7H1729.9V435.4H1731.9V429.1H1732.6V437.3H1732.8V436.8H1733.1V402.1H1734.9V439.6H1735.5V452.8H1738.9V435.7H1740.6V444.4H1741.8V437.8H1745.5V455.6H1746.3V455.1H1751.6V431.4H1754.8V444.9H1755.5V434.6H1756.1V439.4H1756.5V418.5H1757.0V407.3H1759.2V445.7H1759.7V439.3H1759.8V439.9H1761.0V423.3H1762.8V469.5H1764.3V431.4H1764.3V418.7H1765.3V456.7H1766.3V455.8H1767.8V432.3"/>
<path class="s" stroke="rgb(255,99,132)" d="M123.6 396.4H124.2V425.3H124.4V388.8H125.2V395.9H125.4V451.0H125.7V460.3H126.0V384.8H126.0V302.7H126.2V401.3H126.9V554.2H127.2V489.2H127.3V404.1H127.3V377.1H127.3V546.3H127.8V404.2H127.8V369.6H128.2V403.1H128.4V496.9H128.4V426.8H128.8V462.1H128.9V401.8H129.3V530.3H129.4V355.0H130.1V352.7H130.6V396.8H130.9V397.6H130.9V443.8H131.0V434.6H131.2V406.7H131.3V463.5H131.5V489.7H131.6V424.3H132.1V462.1H132.6V456.1H133.2V508.3H133.2V340.8H133.3V422.2H133.3V418.0H133.4V418.5H133.6V450.0H134.4V423.2H134.6V458.6H134.9V374.3H135.0V496.1H135.5V498.3H135.5V381.3H135.8V405.3H136.0V478.6H136.3V403.1H137.2V335.9H137.7V503.8H137.8V498.3H138.3V434.1H138.5V495.1H138.8V466.2H138.9V400.6H139.1V544.4H139.2V434.9H140.0V374.9H140.3V360.2H140.4V483.5H140.7V474.9H140.9V482.0H141.0V350.3H141.2V362.5H141.2V415.7H141.5V398.8H141.6V417.0H141.8V339.5H142.1V416.0H142.3V485.7H142.4V547.8H143.3V426.9H143.5V486.5H143.7V476.2H143.7V525.1H143.9V417.2H143.9V365.9H144.2V430.1H144.6V422.7H145.2V293.1H145.2V400.0H145.7V481.9H145.8V508.1H146.0V620.6H146.3V500.4H146.3V491.0H146.4V355.7H146.4V476.8H146.4V525.0H146.8V465.9H147.0V426.3H147.6V429.2H148.2V422.1H148.5V415.0H148.5V429.1H148.8V546.8H149.1V508.1H149.2V475.2H149.3V464.0H149.5V335.7H150.1V400.2H150.1V430.9H150.3V533.7H150.6V447.3H150.6V426.1H151.0V469.3H151.2V506.8H151.2V466.1H151.3V467.6H151.7V475.7H151.8V416.1H151.9V493.0H152.0V369.9H152.8V481.0H153.1V467.4H153.5V411.6H153.8V469.3H153.8V501.3H154.1V574.6H154.2V466.4H154.6V424.7H155.1V409.7H155.3V416.0H155.6V467.5H155.7V499.9H156.4V423.4H156.4V619.4H156.5V413.2H156.7V402.5H157.9V441.9H158.2V421.6H158.3V442.5H158.6V497.2H159.5V407.7H159.6V444.7H159.8V394.1H160.1V514.2H160.4V335.4H160.5V493.9H160.7V608.7H161.0V365.1H161.2V398.8H161.2V425.8H161.3V380.6H161.3V408.1H161.8V406.4H162.0V426.0H162.2V501.6H162.7V462.5H163.1V472.5H163.3V496.7H163.4V430.1H163.7V418.4H163.7V411.6H164.0V464.8H164.0V524.2H164.0V428.2H164.1V406.4H164.2V419.6H164.4V589.2H164.6V469.9H164.7V587.6H164.9V549.8H165.1V363.2H165.1V402.3H165.2V383.5H165.8V532.7H165.8V429.8H166.4V424.4H167.0V508.0H167.2V488.8H167.2V513.9H167.4V408.6H168.0V453.9H168.6V436.3H168.6V568.5H168.7V324.3H168.8V436.0H169.0V469.5H169.2V455.2H170.1V443.9H170.2V451.6H170.4V327.3H170.6V478.3H170.9V427.8H171.1V376.4H171.2V367.1H171.6V416.8H171.7V473.9H171.8V443.7H173.4V495.1H173.4V399.6H173.9V462.3H174.1V466.6H174.6V309.8H175.0V418.5H175.2V511.9H175.3V407.7H176.1V505.7H176.1V421.6H176.8V493.9H177.1V413.0H177.3V504.0H177.4V481.0H177.6V413.3H178.0V462.5H178.0V406.2H178.3V443.3H178.5V344.1H178.9V341.0H179.7V474.1H179.9V402.9H180.0V475.2H180.4V423.4H180.5V490.1H180.7V415.8H180.8V408.2H181.4V404.3H181.5V417.8H181.8V405.7H181.9V395.0H182.2V481.6H182.3V523.8H182.3V466.4H182.4V426.3H182.5V334.5H182.9V385.1H183.1V619.9H183.3V542.0H184.0V255.1H184.0V389.8H184.2V460.2H184.4V468.6H184.5V377.7H184.5V361.0H184.5V503.7H184.6V493.9H184.8V486.4H185.7V347.5H186.1V466.9H186.4V413.1H186.5V328.4H186.6V503.9H186.8V443.0H186.8V454.7H187.4V652.0H187.4V366.5H187.5V417.6H187.8V418.9H187.8V410.6H187.9V363.5H188.0V387.0H188.0V396.3H188.3V524.3H188.4V346.1H188.6V465.7H188.8V466.8H188.8V477.6H189.0V404.9H189.0V417.5H189.0V487.0H190.2V420.0H190.3V380.6H190.4V455.5H190.6H190.9V486.3H191.0V450.7H191.2V421.9H191.6V509.2H192.0V376.8H192.1V397.0H192.1V488.5H192.2V346.1H192.8V430.1H193.1V466.7H193.6V488.8H193.8V612.9H193.9V389.0H194.3V498.8H194.4V410.1H194.7V494.9H194.9V467.6H195.3V292.4H195.4V330.5H195.6V401.3H195.9V403.2H196.0V458.5H196.1V459.0H196.1V457.7H196.4V525.8H196.4V473.6H196.8V493.6H196.9V385.4H197.1V349.6H197.1V336.8H197.1V415.1H197.1V379.6H197.2V456.3H197.2V493.3H197.4V401.2H197.5V445.6H197.6V413.8H197.9V342.0H198.2V393.8H198.5V375.6H198.6V374.1H199.5V471.3H199.7V403.5H199.9V674.1H199.9V499.5H200.2V463.3H200.4V409.5H200.5V395.2H200.5V492.5H200.7V534.6H201.0V390.6H201.1V348.2H201.3V420.7H201.3V411.0H201.8V384.7H201.9V433.2H201.9V505.8H202.1V409.7H202.7V446.4H202.9V504.1H203.7V390.1H203.9V414.1H204.1V425.7H204.5V484.0H204.6V418.5H205.5V455.1H205.5V510.2H205.6V511.4H205.8V381.4H206.2V399.9H206.4V379.2H206.4V488.9H206.5V455.3H207.0V352.1H207.2V461.6H207.6V382.0H207.6V555.5H207.7V532.2H207.8V420.1H208.0V497.7H208.0V433.6H208.2V446.2H208.5V459.1H208.5V535.2H208.5V562.4H209.0V445.4H209.0V465.0H209.1V557.1H210.2V482.6H210.5V351.9H210.6V431.4H210.6V352.6H210.9V398.2H211.3V318.1H211.7V403.9H211.8V398.7H212.0V354.4H212.1V364.6H212.8V505.0H213.1V423.0H213.4V492.4H213.4V369.0H213.5V478.3H213.5V448.7H213.8V357.1H214.2V413.2H214.8V430.0H214.9V527.1H215.1V455.5H215.2V431.4H215.2V507.1H215.5V529.3H215.8V397.6H216.0V412.2H216.0V463.8H216.3V444.8H216.5V460.6H216.8V392.3H216.8V438.7H217.3V409.1H217.4V341.2H218.0V398.7H218.3V470.6H219.2V400.1H219.3V296.3H219.5V278.8H219.6V446.9H220.1V430.8H220.2V428.9H220.3V479.0H221.5V406.0H222.1V502.1H222.4V443.2H222.7V428.2H222.7V566.9H222.9V486.3H223.4V433.7H223.7V462.5H223.9V395.6H224.2V517.7H224.2V507.5H224.7V405.1H225.5V400.4H225.6V353.2H225.7V627.0H225.9V232.6H226.1V424.3H226.4V457.5H226.5V475.4H226.7V550.6H226.8V432.2H227.2V453.3H227.5V344.1H227.6V357.7H228.3V412.8H228.7V513.0H228.8V411.2H228.9V379.9H229.0V430.6H229.2V434.7H230.2V471.5H230.6V402.0H230.6V393.4H230.9V368.8H231.2V461.4H231.3V470.6H231.6V416.8H232.3V429.3H232.5V475.4H232.5V383.7H232.6V306.8H233.1V362.9H233.6V421.2H233.8V430.5H233.8V524.2H234.2V409.0H234.3V450.2H234.5V367.4H234.5V472.1H234.7V389.9H234.8V466.2H235.5V557.6H235.6V401.7H235.8V348.5H235.9V421.7H235.9V426.4H236.0V412.2H236.1V512.4H236.4V469.1H236.6V413.2H236.7V415.3H236.8V344.9H237.0V511.6H237.0V332.0H237.1V399.5H237.3V490.8H238.1V486.2H238.1V431.5H238.3V376.9H238.4V409.1H238.4V391.6H238.7V337.4H238.8V415.2H238.9V456.5H239.0V416.9H239.1V395.7H239.8V478.1H240.0V391.5H240.2V355.3H240.4V556.6H240.7V401.4H240.7V431.3H240.8V464.1H241.0V433.4H241.5V406.3H241.7V423.6H241.7V418.5H241.8V401.8H241.8V353.7H241.9V504.7H242.0V376.7H242.0V459.9H242.1V425.5H242.2V446.1H242.3V405.3H242.4V534.2H243.1V465.3H243.6V454.1H243.8V513.0H243.8V421.8H244.2V409.1H244.2V477.3H244.3V361.5H244.6V498.0H245.0V376.7H245.3V347.0H245.4V330.6H245.7V483.3H245.8V406.7H245.8V469.4H246.1V401.4H246.2V461.9H247.1V447.1H247.1V391.5H247.7V449.7H247.7V521.1H248.1V442.0H248.9V449.3H249.3V378.3H249.3V558.5H249.3V618.4H249.5V422.7H249.5V337.6H249.8V365.9H250.1V546.0H250.2V394.7H250.5V538.0H250.9V415.8H251.3V380.0H251.6V507.5H251.8V473.0H252.1V400.5H252.4V490.1H253.0V406.3H253.4V414.6H253.6V504.9H253.7V429.4H253.9V429.3H254.1V317.8H254.2V408.1H254.3V377.5H254.5V353.5H254.7V366.2H254.8V536.6H254.9V524.0H255.1V418.8H255.3V348.6H255.3V552.7H255.9V529.1H255.9V507.6H255.9V539.8H256.6V441.7H256.9V495.8H257.2V536.1H257.7V584.2H257.7V528.7H257.7V507.7H257.8V502.9H257.9V471.0H258.1V552.0H258.5V431.1H258.8V344.3H259.1V381.1H259.2V464.8H259.2V354.4H259.7V438.9H259.7V324.8H260.3V427.1H260.7V538.9H260.8V351.3H261.0V424.9H261.5V357.3H261.5V461.6H261.7V458.1H261.9V457.1H262.2V617.6H262.7V479.9H262.7V355.7H263.0V419.6H263.0V220.3H263.3V398.9H263.6V480.5H263.6V454.8H263.8V466.7H263.8V485.1H263.9V495.8H264.4V418.4H264.5V399.0H264.6V528.2H264.7V457.5H264.9V360.7H264.9V346.2H265.2V459.1H265.4V529.2H265.4V565.6H265.5V461.4H265.7V480.6H266.2V354.8H266.4V493.1H266.5V425.7H266.5V520.8H266.6V325.7H267.1V501.2H267.8V583.2H268.2V414.6H268.7V496.6H268.7V422.1H268.8V453.1H269.4V411.4H270.0V540.6H270.8V527.0H270.9V480.8H271.1V406.8H271.7V334.0H272.0V478.1H272.1V398.1H273.5V441.6H274.0V378.2H274.0V539.4H274.2V486.9H274.5V491.2H274.5V369.1H275.0V498.7H275.2V509.3H275.2V426.5H275.3V542.6H275.5V409.4H275.7V410.4H276.1V460.4H276.5V407.5H276.5V449.3H276.7V574.4H276.8V469.4H276.8V557.7H277.3V270.9H277.7V421.0H278.0V422.0H278.3V506.1H279.2V369.3H279.3V496.1H279.8V435.3H280.9V419.3H281.1V512.5H281.1V413.9H281.1V398.4H281.2V338.1H281.7V377.9H282.0V448.8H282.1V426.6H283.4V400.0H283.5V458.0H283.5V428.3H283.6V398.8H283.7V360.8H283.8V483.7H283.8V480.8H284.1V482.5H284.3V465.0H284.3V420.0H284.4V456.6H284.5V400.8H285.4V395.8H285.8V461.9H285.9V403.1H286.7V506.6H286.8V406.8H286.8V537.5H287.0V333.9H287.1V467.7H287.5V491.1H287.8V372.3H287.9V449.7H288.2V403.5H288.3V499.5H288.6V597.8H288.8V405.4H289.0V456.1H289.1V457.2H289.1V533.7H289.3V482.2H289.3V417.3H289.3V389.8H289.4V450.1H289.4V361.1H289.5V398.9H289.5V385.3H289.5V435.0H289.5V451.8H289.6V512.0H290.3V419.8H290.3V413.0H291.0V509.5H291.4V461.0H292.2V474.0H292.4V498.0H292.6V430.5H292.7V461.6H293.2V460.0H293.5V441.6H293.9V633.7H294.2V470.0H294.3V493.9H294.5V408.9H294.9V617.5H295.2V487.6H295.4V315.6H295.5V514.9H295.8V363.3H295.9V476.4H296.1V395.3H296.2V549.3H296.5V484.8H297.3V467.8H297.4V436.1H297.7V440.7H297.8V406.0H298.3V379.6H298.5V464.6H298.6V421.6H298.7V465.4H298.7V490.2H298.7V450.1H298.9V515.0H299.0V396.4H299.2V392.3H299.3V429.8H299.6V412.2H299.8V330.9H300.0V490.9H300.0V361.2H300.2V361.1H300.3V381.9H300.3V427.9H300.4V389.4H300.4V400.8H300.5V551.8H300.5V472.2H300.8V436.6H301.1V379.8H301.7V516.0H301.7V430.8H301.9V409.2H302.2V353.8H302.3V363.2H303.2V322.7H303.2V482.4H303.4V557.1H303.7V451.7H303.9V412.1H304.1V415.0H304.2V435.5H304.3V407.3H304.8V471.4H304.8V520.3H305.1V412.5H305.7V384.9H305.9V403.2H305.9V419.0H306.2V426.0H306.6V339.4H306.7V436.0H307.0V472.3H307.1V354.0H307.3V431.8H307.5V371.3H307.5V522.7H307.5V379.3H308.0V410.6H308.1V366.9H308.6V466.9H308.7V387.9H309.4V389.8H309.7V411.4H309.8V415.7H311.0V371.6H311.7V378.2H311.8V452.6H311.9V404.9H312.2V347.8H313.0V507.5H313.3V381.0H313.5V410.4H313.8V448.9H313.9V501.2H314.0V502.4H314.4V420.5H314.8V290.6H315.0V587.1H315.2V531.7H315.3V334.6H315.6V488.6H315.6V464.0H315.8V381.1H316.0V372.0H316.4V491.1H316.7V397.4H317.2V318.8H318.3V424.5H318.6V491.7H318.6V472.6H318.8V388.5H319.5V436.8H319.6V381.6H319.9V392.7H320.0V384.6H320.5V401.7H320.9V437.4H321.1V417.4H321.7V447.5H321.7V394.0H321.8V442.3H322.3V438.2H322.3V377.2H322.4V487.2H323.3V413.3H323.7V446.3H324.0V470.7H324.2V445.6H324.6V469.5H324.9V467.6H325.2V438.8H325.7V419.0H326.0V238.8H326.1V334.1H326.1V435.1H326.2V364.6H326.4V498.8H326.6V471.9H327.0V465.8H327.1V552.5H327.1V470.8H327.5V415.0H327.6V311.3H327.7V454.4H327.8V545.8H328.0V473.3H329.1V420.1H329.1V456.8H329.4V391.4H329.9V479.3H329.9V459.1H330.3V503.2H330.9V419.3H331.1V397.4H331.8V531.6H332.6V363.8H332.7V364.6H333.0V474.1H333.1V473.5H333.8V416.2H333.9V472.9H333.9V410.4H334.4V362.4H335.4V415.6H336.1V424.0H336.3V464.0H336.6V463.9H337.0V575.4H337.0V327.4H337.2V415.0H337.5V362.8H337.6V602.8H337.7V422.8H337.9V539.9H338.0V368.8H338.0V516.7H338.2V435.7H338.2V376.2H338.4V479.8H338.9V416.6H338.9V458.8H339.2V395.0H339.6V490.2H339.6V494.0H339.7V452.3H339.7V460.9H339.9V333.8H339.9V428.8H340.1V414.5H340.2V571.3H340.2V342.9H340.3V387.0H340.5V449.7H340.7V432.0H340.9V415.5H341.2V377.3H341.4V467.6H342.0V497.6H342.2V413.1H342.5V415.3H343.1V411.2H343.6V379.4H343.7V419.8H344.3V483.1H344.6V384.2H344.9V477.2H345.3V435.5H345.4V390.5H345.6V408.3H345.6V522.7H345.6V336.9H345.7V477.2H345.8V508.1H345.9V423.6H346.3V410.1H346.4V525.2H346.5V358.8H346.8V463.3H346.9V500.0H347.1V463.1H347.1V380.0H347.3V418.8H348.2V434.1H348.4V463.0H348.9V541.4H349.4V456.3H349.8V416.2H349.8V429.5H349.8V437.1H350.6V375.3H350.8V466.6H350.9V344.1H351.0V391.0H351.3V403.6H351.3V377.4H352.0V339.2H352.2V422.5H352.3V408.7H352.3V423.9H352.4V458.5H352.6V523.9H352.7V478.3H352.8V391.3H352.9V434.1H352.9V439.7H353.0V490.3H353.2V396.1H353.2V558.5H353.2V589.9H353.9V552.5H353.9V415.2H354.6V320.0H354.6V342.4H354.6V425.6H354.8V426.2H355.9V404.5H356.3V364.0H356.3V499.7H356.3V387.6H356.7V493.1H357.1V450.0H357.3V403.1H357.3V526.6H357.5V459.7H357.7V427.1H357.8V481.0H358.0V374.1H358.1V464.0H358.4V454.8H358.5V411.8H358.6V359.4H358.8V396.7H359.0V458.9H359.3V359.8H360.3V648.6H360.3V480.1H360.5V446.2H360.9V436.2H360.9V381.5H361.3V402.6H361.7V340.3H361.8V467.0H361.9V481.6H362.2V453.1H362.3V509.4H363.2V419.9H363.4V344.2H363.5V399.3H363.6V397.7H363.7V399.2H363.8V380.6H363.8V476.3H363.8V451.0H363.8V482.1H364.2V573.6H364.7V440.6H364.8V358.0H365.0V442.0H365.3V470.5H365.5V472.1H365.6V507.2H365.9V591.6H365.9V372.9H366.5V512.9H367.1V419.1H367.3V531.7H368.3V411.5H368.4V340.9H368.7V426.8H368.8V449.2H369.5V461.0H370.1V398.7H370.4V356.5H370.5V389.6H370.7V417.8H371.1V484.9H372.2V461.8H372.4V550.5H372.4V414.8H372.6V410.5H372.6V500.4H373.0V443.1H373.1V357.3H373.1V421.7H373.4V436.9H373.4V475.4H374.0V464.2H374.0V516.9H374.2V489.1H374.7V531.1H375.0V364.8H375.3V497.0H376.2V326.6H376.3V381.1H376.3V473.5H376.4V458.0H376.8V502.2H376.9V404.1H377.7V449.4H378.0V448.4H378.2V352.9H378.3V466.5H378.3V430.3H378.5V593.5H378.6V498.1H378.7V436.0H378.8V412.3H379.1V462.2H379.2V485.0H379.7V465.3H379.9V481.4H379.9V361.7H380.5V378.1H380.6V398.4H380.8V427.0H380.9V415.9H381.0V445.7H381.3V347.5H381.5V449.0H381.5V489.8H381.5V358.2H381.5V450.1H381.8V458.1H381.9V518.1H382.0V395.4H382.0V429.2H382.0V426.9H382.0V510.6H382.1V426.1H382.3V517.2H382.3V517.7H382.8V376.2H383.7V275.7H383.7V380.7H383.8V406.9H384.1V514.0H384.5V409.6H384.6V525.2H384.8V416.3H384.9V518.9H385.1V355.3H385.1V436.4H385.3V455.3H385.7V413.4H386.0V472.5H386.1V425.7H386.2V495.0H386.3V505.3H387.1V355.2H387.2V372.2H387.3V423.4H387.3V466.0H387.7V389.8H387.7V500.5H387.8V420.7H387.9V421.1H388.3V476.9H389.3V443.3H389.5V414.4H390.0V365.7H390.2V410.6H390.2V350.9H390.2V409.2H390.3V422.4H390.3V442.7H390.7V470.6H390.9V431.8H391.5V458.3H392.3V420.5H392.4V361.8H392.5V466.4H392.7V351.2H392.7V530.4H392.9V367.9H393.0V612.5H393.6V334.8H393.6V471.2H394.0V548.3H394.1V424.4H394.3V414.3H394.7V598.5H394.8V444.4H394.8V454.8H395.0V338.1H395.1V432.1H395.1V471.5H395.6V423.0H395.7V372.8H395.8V419.1H396.0V568.9H396.0V430.2H396.3V399.5H396.3V379.9H396.4V476.5H396.4V521.8H396.7V340.9H396.9V458.7H396.9V363.3H397.0V419.7H397.5V476.8H397.7V473.4H398.4V359.1H399.0V420.5H399.5V402.6H399.6V469.6H400.1V437.0H400.8V394.6H400.9V434.2H401.2V440.8H401.4V422.6H402.0V454.0H402.1V417.5H402.1V456.5H402.2V468.0H402.2V393.0H402.3V519.9H402.9V445.1H403.2V486.1H403.2V436.3H403.5V506.2H403.6V427.3H403.6V531.7H403.8V531.1H403.9V419.9H404.0V373.6H404.1V384.1H404.3V379.3H404.3V470.8H405.3V364.4H405.6V397.4H406.3V380.8H406.3V433.1H407.2V467.8H407.9V396.0H408.0V393.5H408.8V436.2H408.9V418.7H408.9V464.6H409.5V404.1H409.8V486.1H410.2V444.0H410.5V426.9H410.9V367.9H411.0V384.8H411.5V492.4H411.9V494.7H412.5V444.3H412.5V571.2H412.9V387.3H413.4V440.9H413.4V509.2H413.9V362.7H414.1V304.1H414.4V388.0H414.6V402.2H414.8V473.5H415.8V419.6H416.3V433.9H416.9V415.7H417.0V443.7H417.9V398.2H418.6V384.7H418.7V491.0H419.1V414.5H419.1V434.8H419.2V505.2H419.8V500.2H419.9V455.9H419.9V290.3H420.0V402.5H420.8V425.8H420.9V398.2H421.1V407.0H421.1V562.4H421.5V470.3H422.0V334.2H422.6V432.1H422.9V446.5H423.5V433.7H423.5V467.1H424.4V451.2H424.4V400.2H424.4V544.6H425.3V495.6H425.8V404.6H426.2V376.5H426.5V453.0H427.7V366.7H427.7V366.1H427.7V448.6H428.0V501.3H428.1V356.6H428.1V377.2H428.2V419.8H428.4V519.9H428.8V473.3H429.0V398.9H429.2V508.7H429.6V465.6H430.2V667.9H430.3V498.5H430.5V493.3H430.8V389.8H430.8V458.7H430.9V474.2H430.9V389.8H431.3V569.8H431.6V516.1H431.7V394.8H431.9V354.8H432.4V327.3H432.6V420.1H432.8V408.0H433.3V435.5H433.7V487.5H434.0V485.0H434.2V390.3H434.4V448.4H434.9V372.4H435.1V299.5H435.8V487.8H436.5V350.6H436.8V506.6H437.0V482.8H437.3V358.7H437.6V478.7H438.1V400.8H438.4V481.9H438.7V418.9H438.9V399.9H439.2V464.6H439.3V479.6H439.8V318.6H440.8V455.0H440.9V428.1H441.1V420.6H441.2V466.4H441.3V473.6H441.4V452.9H441.6V476.3H441.6V491.0H441.7V436.1H441.8V392.6H442.1V500.3H442.2V420.8H442.3V421.7H442.3V298.2H442.7V408.4H442.9V366.5H443.2V525.7H443.7V489.4H443.8V488.0H444.3V372.1H444.5V391.0H445.0V542.8H445.0V505.2H445.6V373.4H446.0V426.5H446.2V453.6H446.6V443.2H446.7V517.3H446.9V458.5H447.0V424.3H447.1V476.8H447.1V486.7H447.2V462.8H447.5V372.8H447.5V491.1H447.6V464.6H447.6V481.3H447.9V400.4H448.0V451.7H448.1V384.6H448.7V424.0H448.8V407.4H449.2V416.2H449.4V486.5H449.6V411.2H449.8V493.3H451.1V415.5H451.2V399.7H451.3V458.2H452.2V357.9H452.3V451.8H452.4V461.8H452.5V499.6H452.8V469.2H452.9V435.3H453.4H453.6V481.1H453.8V454.0H454.4V405.4H454.5V363.3H454.7V410.4H454.8V336.7H455.1V411.0H456.5V363.4H456.5V385.1H456.9V506.5H457.2V382.3H457.8V583.2H458.0V439.9H458.5V476.2H458.6V447.9H458.7V425.7H458.7V552.6H459.0V398.2H459.3V395.1H459.4V543.9H460.1V411.9H460.1V445.2H460.1V487.3H460.5V441.8H461.9V456.4H462.0V279.2H462.6V488.3H462.6V420.5H462.9V433.9H463.2V435.3H463.3V416.9H463.3V465.3H463.4V379.4H463.4V515.5H463.9V484.0H464.3V390.2H464.5V405.1H465.2V424.1H465.3V542.3H465.6V458.6H465.6V442.4H466.1V402.2H466.2V398.9H466.5V454.9H466.5V424.4H467.4V418.6H468.5V430.2H468.7V543.7H469.1V398.2H469.3V393.7H469.3V481.8H469.5V505.6H469.5V419.3H469.5V425.6H469.5V498.6H469.9V531.7H470.1V425.0H470.1V460.8H470.6V458.3H470.6V517.6H470.8V421.6H471.0V473.6H471.2V389.6H471.6V582.6H471.6V461.6H471.6V425.1H471.9V460.0H472.1V515.0H472.2V421.4H472.6V427.9H472.6V394.2H472.6V421.4H473.2V462.6H473.2V466.1H473.3V455.2H473.6V408.5H474.9V407.7H474.9V471.0H475.2V360.5H475.3V481.5H475.6V407.5H476.0V330.8H476.1V433.1H476.3V394.4H476.4V569.0H476.5V400.4H476.5V467.2H477.0V547.7H477.2V449.4H477.3V416.6H477.4V535.6H477.4V510.1H477.5V428.4H477.7V367.9H477.7V506.5H478.0V444.8H478.0V455.0H478.1V386.0H478.2V402.2H478.4V426.8H478.6V451.2H479.0V423.9H479.1V445.1H479.3V462.8H479.8V389.6H479.9V468.6H480.0V430.3H480.1V505.0H480.4V511.2H480.6V428.2H480.8V436.1H480.8V411.9H481.4V476.5H481.4V415.4H481.7V426.2H481.9V449.8H482.0V439.9H482.0V436.4H482.7V442.5H482.9V368.3H483.1V484.2H483.4V469.1H483.7V480.9H484.2V490.3H484.4V322.7H484.4V490.1H484.7V439.1H484.8V400.5H485.1V540.8H485.1V411.1H485.7V467.0H485.8V462.6H486.9V570.4H487.7V538.7H487.9V436.0H487.9V397.2H488.3V347.5H488.8V472.4H489.2V304.2H489.6V417.4H490.8V484.4H491.1V432.5H491.5V396.4H491.5V393.0H491.8V462.2H491.8V433.5H491.9V419.3H491.9V528.9H492.0V409.4H492.3V498.7H492.3V480.4H492.3V461.3H492.5V416.9H493.2V415.4H494.8V485.3H495.2V470.1H495.3V424.2H495.8V418.2H496.1V413.7H496.4V467.1H496.7V413.0H497.0V327.3H497.1V459.0H497.2V582.7H497.5V444.4H498.1V480.3H498.3V468.1H498.6V355.3H499.6V452.8H500.1V520.9H500.4V434.7H500.9V402.0H501.3V420.9H501.4V464.9H501.5V492.9H502.0V434.8H502.5V399.9H502.5V392.8H502.7V586.1H502.8V462.9H503.1V467.1H503.4V394.2H503.5V365.6H503.9V577.7H504.6V442.6H504.7V448.4H504.9V475.7H505.1V471.0H505.5V448.4H505.7V409.4H505.9V416.6H506.0V443.1H506.3V489.1H506.4V414.5H506.5V531.5H507.1V418.5H507.5V428.5H508.2V493.5H508.5V399.1H508.6V417.3H509.0V407.2H509.1V426.9H509.3V450.2H509.9V353.5H510.2V443.5H510.4V507.4H510.5V402.9H510.7V401.4H510.8V374.1H510.8V372.7H511.4V327.0H511.4V434.6H512.2V388.9H512.3V378.0H512.6V498.9H512.6V414.7H512.7V460.5H512.8V434.7H512.9V398.3H513.0V533.6H513.0V463.1H513.8V384.3H513.8V353.2H514.0V413.1H514.8V427.3H514.8V414.2H514.9V413.5H515.0V523.1H515.1V502.2H515.1V432.0H515.1V422.9H515.3V414.5H515.4V425.8H515.5V367.8H517.2V466.4H517.6V434.1H517.8V489.0H518.5V462.6H518.6V452.8H518.7V409.7H519.9V427.8H520.1V407.7H520.2V494.4H520.7V428.8H521.3V466.1H521.8V324.9H522.0V520.7H522.5V418.2H522.8V475.6H523.0V462.7H523.2V461.9H523.3V436.3H523.4V461.1H523.6V439.0H524.2V414.7H524.4V444.3H524.4V429.2H524.6V510.8H525.3V401.3H525.6V326.1H526.1V396.3H526.4V410.7H526.8V431.4H527.1V406.1H527.5V458.5H528.3V444.3H528.3V475.5H529.7V348.7H529.9V506.2H530.2V458.9H530.4V498.9H530.4V408.8H530.5V464.9H530.7V377.9H531.7V590.8H532.0V401.4H532.4V407.4H532.5V406.8H533.0V443.3H533.2V511.3H533.3V411.8H535.1V387.6H535.3V377.0H535.8V401.8H536.1V407.8H536.4V452.4H536.4V446.9H536.7V437.2H537.3V342.5H537.3V391.8H538.3V440.0H538.4V474.1H538.5V442.3H538.8V388.2H538.8V462.3H538.8V496.3H539.3V456.3H539.4V502.4H539.4V431.9H539.4V472.7H539.7V507.5H539.8V441.7H541.3V387.0H541.4V428.1H541.6V462.4H541.9V408.9H542.1V413.9H542.5V441.7H542.5V380.5H542.8V466.4H543.3V402.1H543.7V394.5H544.0V471.6H544.1V392.8H544.2V419.0H544.3V405.8H544.6V411.4H544.7V420.0H546.0V413.5H546.0V452.4H546.5V397.7H546.6V481.6H546.7V411.6H547.3V455.2H547.4V391.8H547.5V339.7H547.7V349.1H548.7V434.1H548.9V374.5H549.5V420.2H549.8V508.9H549.8V463.0H550.4V415.2H550.5V511.7H550.5V467.1H550.6V373.2H551.6V454.9H551.6V572.2H551.8V415.5H551.8V454.7H551.9V432.0H552.4V463.3H552.5V475.9H552.6V465.7H552.9V513.9H553.6V423.4H553.8V435.8H554.8V478.3H554.9V510.2H555.0V484.1H555.4V387.5H556.5V556.6H556.6V369.8H556.8V448.4H557.2V464.3H557.2V450.0H557.5V453.5H557.6V388.5H557.7V455.4H559.1V394.9H559.1V406.1H559.4V492.9H559.8V428.7H560.2V397.9H560.7V406.9H561.2V453.2H561.4V494.0H561.9V416.7H562.1V365.0H562.2V470.5H562.7V441.3H564.7V469.8H564.9V423.7H565.2V425.7H565.3V525.0H565.9V461.2H565.9V510.0H566.3V436.2H566.8V368.4H566.9V407.9H567.0V411.5H567.3V432.3H567.5V480.8H568.3V428.8H568.6V446.7H568.7V375.3H569.9V412.5H569.9V434.4H570.0V522.9H570.0V383.6H570.0V363.4H570.1V445.5H570.3V461.7H570.3V429.6H570.4V449.4H570.9V318.8H571.7V415.7H571.9V455.4H571.9V478.8H572.3V421.1H572.8V547.0H573.2V413.4H573.6V418.3H573.6V445.6H573.9V425.9H574.0V478.5H574.0V450.5H574.0V419.1H574.1V450.5H574.8V406.9H575.4V505.2H575.5V403.1H575.8V418.0H576.8V441.4H576.9V384.0H577.5V404.5H577.5V579.7H577.8V411.3H577.8V492.7H579.1V451.7H579.2V451.8H579.9V421.9H580.0V419.4H580.1V420.6H580.4V399.5H580.5V405.1H580.9V429.0H582.0V413.8H582.5V426.6H582.8V404.0H582.9V329.1H583.3V438.9H583.3V487.3H583.4V466.5H583.9V460.0H584.2V497.3H584.2V393.6H584.7V463.5H584.7V323.7H584.9V406.6H585.1V405.0H585.2V380.3H585.2V447.7H585.8V410.4H586.2V434.0H586.4V420.7H586.7V398.5H587.1V445.6H587.4V426.2H588.0V372.5H588.0V435.3H588.1V415.6H588.4V467.8H588.8V386.2H589.0V412.4H589.3V438.5H590.4V521.0H590.6V414.4H590.7V466.7H590.8V448.2H592.2V399.3H592.2V430.0H592.4V413.9H592.4V433.5H593.0V521.5H593.3V467.5H593.6V455.0H593.6V423.3H593.6V408.6H594.3V498.7H594.3V483.1H594.7V423.4H594.7V534.1H595.7V453.9H595.9V445.3H596.3V477.9H596.7V484.7H596.9V406.8H597.2V420.7H597.8V420.3H597.8V382.3H599.5V449.5H600.0V453.3H600.2V419.4H600.4V319.6H600.6V417.2H600.8V419.3H601.8V483.4H601.9V449.8H602.0V299.7H602.2V477.9H602.2V450.2H602.3V409.3H602.6V473.6H603.3V420.6H603.5V479.9H603.7V431.2H604.3V469.7H604.5V506.2H604.8V480.6H605.6V437.7H605.9V321.9H606.0V363.2H606.0V450.5H606.5V381.4H606.6V482.1H607.7V422.3H607.8V464.6H608.0V469.2H608.0V452.2H608.0V408.3H608.4V470.1H609.1V341.1H609.6V426.6H609.9V467.8H609.9V449.6H609.9V424.9H610.1V497.8H610.1V474.8H610.2V435.8H610.2V423.9H610.3V346.3H610.9V498.9H611.0V485.5H611.9V417.4H612.3V403.5H612.6V443.9H613.4V474.7H614.1V398.1H614.5V382.3H615.3V482.2H616.1V464.5H616.1V388.5H616.5V459.1H617.0V452.8H617.2V447.9H617.3V422.6H617.7V407.6H618.1V469.4H618.1V404.5H618.2V438.5H618.4V443.0H618.8V465.2H620.0V407.3H620.3V473.4H620.9V460.8H621.1V496.3H621.5V436.0H621.7V419.2H622.1V388.3H622.4V419.5H623.5V407.2H624.4V472.0H624.9V404.8H625.0V410.8H625.4V474.0H625.5V442.8H625.8V482.9H625.9V407.3H626.2V429.7H626.9V455.1H627.4V501.3H627.4V469.9H628.0V409.9H628.8V429.8H628.8V563.3H628.9V427.9H629.3V447.5H629.4V472.9H629.4V454.6H629.7V430.0H630.1V448.6H630.4V413.6H631.3V408.7H631.5V451.4H631.7V437.8H631.8V471.7H631.8V472.3H632.0V449.0H632.0V461.2H633.4V441.8H633.7V428.2H633.8V450.4H633.9V510.9H634.1V451.1H634.8V506.1H634.9V401.6H635.2V496.0H636.1V434.6H636.3V417.9H636.7V427.0H637.1V463.5H637.3V407.8H637.5V415.3H637.7V382.3H638.0V413.7H638.8V450.0H639.3V472.3H642.8V467.4H643.9V458.3H645.1V462.7H645.2V391.7H645.6V409.1H646.1V432.9H646.4V413.8H646.7V500.8H646.8V491.9H646.9V471.3H648.1V389.4H648.2V392.4H648.3V422.6H649.3V400.5H649.4V408.6H649.5V427.7H650.4V402.4H650.9V430.7H651.0V435.1H651.1V354.2H651.8V403.3H652.7V428.9H653.0V478.4H653.4V388.7H654.1V456.8H654.5V417.5H655.0V469.2H656.6V436.9H657.0V435.2H659.3V394.8H661.5V451.5H661.5V459.1H662.3V381.3H662.5V496.6H662.5V464.5H662.7V432.2H662.8V415.2H663.4V380.8H664.0V432.2H664.1V420.1H664.1V426.5H666.1V417.7H666.1V480.1H667.0V364.9H667.4V429.7H667.9V417.6H668.7V442.7H669.2V490.3H669.5V458.1H669.8V445.5H670.3V507.3H670.4V488.1H671.1V470.3H671.3V442.2H671.5V439.6H672.1V417.9H672.1V398.1H672.6V372.1H672.7V409.9H672.8V450.2H674.6V352.0H675.0V488.7H675.1V503.2H675.3V469.4H676.5V451.9H678.3V480.1H679.0V456.4H681.3V403.2H682.0V465.5H682.3V409.7H682.4V406.4H683.1V450.4H683.4V465.6H684.3V387.6H684.4V443.5H685.6V461.2H685.8V514.9H686.2V423.4H688.5V447.5H688.9V478.9H689.5V436.5H690.0V402.8H690.6V458.9H693.3V462.9H694.1V474.0H694.2V389.1H694.5V420.4H694.8V445.8H695.0V383.6H695.3V499.2H697.2V451.7H697.2V435.5H697.4V442.0H700.3V459.7H701.1V446.2H701.4V432.9H701.9V456.2H702.9V480.3H703.4V427.4H703.7V392.7H703.8V429.1H704.0V491.0H704.8V424.3H706.9V485.1H707.3V432.0H708.0V442.7H709.8V508.4H710.9V429.6H711.7V415.5H711.9V405.2H712.1V386.6H712.9V401.3H714.1V451.7H714.2V475.6H714.3V429.6H714.5V498.9H715.2V416.2H715.4V392.1H715.5V432.7H716.1V382.3H716.6V422.1H716.7V433.0H716.8V402.6H717.0V427.9H718.2V486.9H718.6V467.6H718.9V398.1H720.7V434.7H720.9V411.1H722.6V403.8H723.0V487.1H723.3V422.5H723.3V450.5H724.5V509.8H725.4V445.9H726.7V413.1H727.0V384.8H729.5V417.0H729.5V427.4H729.6V453.3H731.8V434.1H732.0V448.1H732.1V428.2H733.0V462.2H735.1V471.9H737.5V476.7H738.4V433.1H739.4V440.7H742.5V522.5H742.5V427.8H743.2V465.7H743.4V490.4H745.8V432.1H747.4V415.2H748.2V484.3H750.1V449.1H750.8V435.0H752.1V410.0H752.8V450.0H756.4V428.6H757.4V442.0H757.8V457.9H757.9V436.7H759.5V463.5H760.6V459.8H760.8V433.7H762.9V411.0H765.5V433.1H765.7V433.2H766.6V419.0H769.7V429.0H769.8V401.7H770.3V478.4H770.5V398.4H771.0V441.7H771.0V457.9H771.8V447.5H774.0V431.1H774.3V414.6H774.9V504.5H777.9V451.0H777.9V429.6H779.1V435.8H779.7V433.6H779.7V395.2H780.9V459.3H782.2V452.9H782.4V451.8H782.9V427.8H785.2V375.0H785.6V425.6H785.6V475.5H786.1V404.1H787.2V419.3H787.3V472.6H790.1V439.5H791.4V545.4H791.7V440.2H794.2V428.4H796.1V426.6H798.0V464.0H798.9V446.4H799.7V428.6H800.8V411.6H801.8V439.9H801.9V456.8H801.9V445.3H802.1V460.5H803.9V445.2H804.9V443.2H805.2V397.2H806.3V456.6H806.8V402.7H807.1V384.9H807.1V417.4H807.7V421.4H808.3V410.5H813.0V541.4H813.6V392.8H814.5V405.8H814.6V429.0H815.8V415.3H819.7V386.6H820.2V443.1H821.7V435.8H821.9V522.4H822.3V484.7H822.5V434.0H823.1V430.5H824.7V449.5H825.3V453.5H825.5V403.1H825.8V511.3H826.6V446.5H827.0V429.3H827.2V495.9H828.2V446.4H828.4V436.5H829.1V407.8H829.9V410.8H830.2V409.9H830.5V412.6H831.0V432.2H831.4V406.1H835.7V426.4H836.8V523.8H837.6V421.4H838.2V453.6H838.6V473.0H839.2V461.9H839.9V431.2H841.0V459.0H842.9V413.0H844.6V404.0H846.1V484.0H846.1V462.0H846.1V402.9H847.4V494.9H847.5V479.4H847.7V446.1H849.1V411.2H849.6V433.5H851.8V450.5H853.5V433.0H855.0V441.0H855.1V443.2H855.3V382.3H857.5V425.4H860.0V424.9H861.5V367.9H862.4V418.6H862.5V485.4H862.8V369.6H863.0V389.8H863.2V432.4H863.5V477.3H864.7V406.2H865.3V434.1H866.8V544.6H866.9V416.9H867.5V390.3H867.7V429.6H871.5V389.7H873.6V436.4H874.0V422.6H877.4V425.5H883.9V409.9H885.3V419.8H885.3V460.9H885.4V488.3H885.4V407.4H886.0V443.5H888.1V462.0H890.1V417.2H890.8V411.2H890.9V372.5H891.5V448.4H891.6V372.9H892.1V363.9H893.8V465.0H893.8V436.9H897.2V419.2H897.4V404.4H897.5V513.8H898.0V420.1H900.2V439.5H900.5V416.8H901.6V522.7H902.8V456.5H903.0V376.3H903.1V420.9H905.6V462.5H905.9V422.6H906.5V450.0H909.6V401.5H909.8V431.8H914.9V441.5H917.1V440.9H920.7V395.4H921.5V442.8H921.5V445.4H924.6V453.7H926.0V439.3H927.0V435.8H929.0V409.4H932.5V429.7H933.8V440.7H936.3V440.6H941.8V441.5H944.4V425.0H944.9V428.3H945.5V448.9H948.1V437.7H948.6V436.8H950.1V428.0H954.4V465.5H959.1V405.3H960.2V439.0H963.6V435.8H967.1V435.0H967.4V439.7H967.5V429.8H973.6V447.5H974.4V428.8H979.5V436.5H980.9V436.2H986.4V438.4H986.8V446.7H987.2V439.1H989.1V403.0H989.9V403.1H990.7V428.0H990.8V383.8H991.5V432.2H993.4V438.4H993.7V397.7H995.5V497.9H996.7V409.1H997.6V466.0H997.9V464.7H998.0V449.9H998.1V440.7H998.4V412.4H999.3V430.8H999.7V419.7H1000.3V407.0H1000.5V431.3H1001.2V425.3H1001.7V431.4H1002.3V449.1H1005.0V412.4H1006.9V447.6H1008.8V435.6H1012.8V424.5H1013.0V445.3H1013.5V471.6H1015.8V437.2H1016.3V439.7H1016.3V418.4H1017.1V445.8H1020.5V436.1H1022.9V440.7H1027.1V436.3H1030.6V425.7H1032.5V438.8H1040.0V439.4H1041.1V447.6H1047.4V436.6H1050.1V407.4H1050.2V437.9H1051.5V439.4H1054.4V435.3H1057.0V435.9H1059.9V485.3H1060.5V400.7H1060.7V418.9H1062.1V412.3H1062.4V379.7H1065.6V451.8H1066.1V412.3H1067.7V446.5H1070.6V457.6H1072.0V503.1H1072.9V430.8H1077.3V449.3H1079.3V431.8H1081.9V439.4H1083.7V433.4H1090.7V436.6H1092.6V451.3H1094.6V422.3H1095.4V452.8H1095.8V436.6H1096.0V436.8H1100.8V437.4H1103.6V436.9H1103.8V449.7H1103.9V384.4H1104.5V391.3H1107.6V441.6H1108.0V382.1H1110.6V411.6H1111.7V468.5H1112.4V441.0H1112.6V408.8H1114.0V517.0H1114.8V392.6H1114.9V444.9H1115.1V427.8H1115.7V448.3H1115.7V440.6H1116.0V455.7H1117.1V451.1H1117.3V419.1H1119.2V448.5H1119.4V482.6H1121.3V451.0H1121.8V472.9H1123.5V463.4H1125.2V410.9H1126.2V437.5H1126.8V409.7H1127.0V404.8H1127.3V421.9H1127.6V402.9H1134.5V462.0H1135.4V427.5H1135.9V420.4H1138.1V403.5H1138.8V437.5H1139.7V435.7H1143.0V388.2H1143.7V449.7H1144.8V429.4H1148.3V420.1H1149.9V429.5H1150.3V429.8H1151.6V381.4H1154.0V440.0H1154.5V503.5H1154.8V453.7H1156.2V434.5H1159.7V364.3H1159.9V445.6H1160.4V448.6H1163.3V434.2H1163.4V439.3H1163.8V424.9H1164.5V419.2H1168.1V431.6H1171.6V455.3H1178.1V436.3H1180.4V426.3H1181.2V485.9H1182.0V376.1H1183.7V466.9H1186.8V440.4H1187.9V418.1H1190.2V433.0H1190.2V472.9H1190.5V432.5H1191.2V442.7H1192.7V466.5H1196.1V460.0H1196.7V407.2H1196.8V425.8H1196.9V451.7H1197.4V387.9H1198.6V428.9H1199.7V418.3H1201.1V432.6H1202.6V435.8H1203.4V496.1H1203.7V455.1H1208.6V417.1H1210.3V429.3H1212.0V426.0H1212.7V424.9H1215.1V416.8H1215.1V488.3H1217.1V416.8H1219.6V408.0H1221.0V400.4H1221.2V441.1H1222.0V453.1H1222.6V441.1H1223.4V415.0H1224.1V441.9H1227.0V446.0H1228.2V427.0H1228.9V424.5H1229.0V454.9H1229.0V424.6H1231.3V466.0H1233.1V419.8H1236.4V521.7H1239.9V415.7H1244.3V488.4H1244.4V479.2H1244.6V456.3H1246.8V432.5H1254.7V436.5H1255.8V437.2H1259.7V450.9H1260.7V438.9H1262.9V426.8H1263.1V426.5H1263.3V475.2H1264.6V431.8H1264.8V435.3H1264.8V467.8H1268.3V439.3H1270.7V462.5H1278.2V441.4H1282.4V429.2H1283.8V434.0H1287.5V419.3H1290.9V401.4H1291.6V457.7H1293.2V425.8H1295.8V457.0H1295.9V366.1H1298.7V448.1H1298.8V534.8H1301.9V461.6H1302.2V421.5H1303.1V456.7H1304.2V456.2H1305.8V436.0H1306.1V388.5H1309.1V437.4H1310.5V448.4H1312.4V421.6H1315.3V449.1H1316.7V422.2H1316.8V442.2H1317.0V448.4H1317.9V471.8H1318.8V402.5H1320.2V439.6H1320.3V433.3H1321.6V517.2H1322.3V491.4H1322.9V392.6H1323.5V439.7H1323.6V461.8H1323.6V435.6H1323.7V416.2H1325.9V427.1H1327.0V447.3H1327.9V421.9H1328.9V440.1H1329.0V402.4H1330.1V408.8H1331.2V447.4H1331.7V372.0H1332.5V437.9H1333.0V467.5H1333.8V367.2H1334.3V432.7H1335.1V496.0H1337.5V441.2H1345.3V428.0H1345.7V402.9H1345.9V439.0H1348.4V421.8H1356.6V430.5H1359.4V434.5H1360.8V437.8H1363.3V420.5H1364.9V435.2H1374.6V412.7H1378.5V450.3H1378.8V454.9H1379.4V479.0H1379.5V447.1H1379.9V472.1H1380.9V422.1H1382.1V443.2H1386.1V414.2H1386.1V435.6H1387.7V436.9H1389.8V433.7H1391.0V447.6H1393.9V433.8H1400.8V433.6H1401.6V437.6H1402.6V433.9H1402.9V402.2H1404.0V403.4H1404.2V462.6H1405.7V429.1H1408.0V415.9H1408.3V439.6H1410.1V476.0H1411.8V456.1H1412.4V498.3H1412.5V436.2H1414.3V428.4H1414.7V428.3H1416.2V425.3H1417.2V435.3H1417.4V455.9H1417.9V442.4H1418.7V447.7H1420.3V374.3H1421.0V449.8H1422.1V447.9H1423.2V450.8H1423.6V426.0H1425.2V461.6H1425.4V462.2H1425.7V428.8H1427.1V431.4H1427.3V426.2H1427.8V451.1H1428.0V384.7H1428.6V389.2H1429.2V380.0H1430.1V435.4H1430.2V412.3H1431.6V448.9H1436.7V396.2H1438.7V468.3H1439.6V456.7H1440.2V446.9H1442.5V424.2H1442.6V442.7H1444.1V433.2H1444.2V451.3H1445.7V428.9H1449.1V438.0H1451.4V397.5H1452.2V434.9H1453.0V476.8H1455.7V411.4H1456.9V454.1H1457.2V448.3H1457.3V413.5H1457.7V430.4H1458.7V430.7H1458.7V460.0H1460.3V446.5H1460.7V466.2H1462.1V432.0H1462.2V427.2H1464.2V448.3H1464.6V415.3H1465.3V427.7H1468.0V443.0H1471.3V446.5H1471.7V399.5H1472.1V431.7H1473.8V451.7H1476.5V440.8H1478.1V403.8H1478.5V384.2H1480.1V443.7H1481.2V440.7H1481.4V466.2H1482.3V451.5H1484.3V411.2H1485.4V431.4H1485.5V441.0H1487.6V445.2H1488.1V480.0H1489.5V393.6H1490.4V441.7H1490.4V472.3H1490.6V450.5H1491.4V463.1H1492.0V427.8H1493.0V409.1H1494.5V432.6H1494.7V469.1H1496.2V426.3H1497.7V447.4H1498.8V438.3H1500.4V451.2H1507.1V436.9H1508.1V437.5H1509.0V442.1H1510.0V458.7H1512.9V427.6H1513.8V471.2H1514.6V466.5H1515.0V486.1H1516.9V405.9H1518.5V420.4H1522.3V416.6H1524.0V456.1H1525.2V383.5H1527.4V444.4H1527.6V451.0H1528.4V434.7H1528.8V448.4H1530.0V464.3H1532.9V393.3H1537.2V389.4H1538.5V451.4H1539.2V397.4H1539.6V472.8H1539.7V441.4H1542.6V443.8H1543.1V474.1H1543.3V413.6H1544.4V454.0H1545.2V437.1H1555.0V458.6H1559.9V436.2H1560.3V438.9H1569.5V435.8H1570.1V390.3H1573.7V438.5H1575.2V436.9H1576.2V453.9H1576.3V442.4H1580.3V438.4H1581.1V442.6H1585.6V432.3H1593.4V437.5H1593.7V408.5H1599.2V449.5H1600.4V487.3H1600.7V417.1H1603.0V473.5H1603.0V465.6H1603.2V454.2H1604.2V433.4H1604.3V431.0H1604.7V380.2H1605.3V423.3H1606.0V434.0H1606.1V452.6H1606.2V415.3H1606.6V447.0H1610.6V436.9H1615.5V420.7H1616.6V423.4H1619.3V434.4H1620.0V466.6H1622.9V461.5H1624.5V442.3H1625.1V423.8H1625.2V432.1H1626.1V530.7H1627.0V408.0H1627.2V435.6H1630.1V453.4H1630.9V355.5H1631.9V422.4H1631.9V422.2H1632.4V446.8H1633.1V368.1H1633.8V417.6H1634.6V493.0H1634.6V428.1H1634.9V442.4H1634.9V452.0H1635.5V425.2H1637.1V482.7H1637.5V385.9H1641.5V413.8H1642.4V431.2H1644.1V452.0H1645.2V456.2H1645.7V427.5H1645.9V423.3H1646.1V421.6H1646.3V406.6H1651.0V476.2H1655.0V456.4H1655.7V450.2H1657.1V429.3H1658.0V453.0H1658.9V449.5H1663.8V432.5H1665.2V433.7H1666.3V430.1H1667.6V440.4H1669.1V449.8H1669.4V447.5H1672.6V469.3H1672.6V407.3H1672.8V422.8H1673.5V408.1H1675.2V443.0H1676.4V420.4H1677.2V411.9H1677.8V460.0H1678.9V438.3H1679.8V444.6H1681.8V478.6H1684.7V395.6H1685.8V452.7H1686.1V439.2H1691.9V461.1H1692.0V428.2H1692.1V372.2H1693.2V446.9H1693.6V485.4H1693.7V478.4H1693.8V455.4H1696.3V488.1H1699.6V443.9H1700.1V430.9H1700.9V423.1H1702.8V434.5H1704.9V483.6H1708.7V422.4H1709.4V439.2H1711.1V422.7H1717.0V436.6H1728.4V440.1H1733.2V435.8H1733.4V438.7H1733.7V413.8H1740.6V394.0H1753.4V443.3H1756.0V407.2H1758.5V445.9H1759.7V447.8H1759.8V426.7H1764.3V407.7H1764.4V425.4H1764.5V506.5H1765.3V447.9"/>
<path class="s" stroke="rgb(54,162,235)" d="M123.0 551.9H123.2V513.6H123.5V381.5H123.6V491.9H123.7V548.5H124.3V490.1H124.5V427.9H124.5V435.4H124.5V401.2H124.6V417.6H124.8V425.4H124.8V512.1H125.0V467.5H125.0V399.1H125.1V429.7H125.1V512.0H125.2V411.6H125.3V377.0H125.3V318.4H125.4V423.9H125.4V406.4H125.4V488.4H125.5V488.8H125.7V427.2H125.8V390.1H125.9V569.4H126.0V476.0H126.1V431.1H126.1V400.3H126.2V341.9H126.2V408.1H126.2V464.3H126.3V434.5H126.4V534.6H126.5V428.3H126.6V522.8H126.7V430.6H127.0V332.1H127.0V418.8H127.5V396.6H127.6V489.9H127.7V428.9H127.8V468.3H128.0V413.3H128.1V522.0H128.2V493.2H128.3V426.7H128.4V322.8H128.5V584.6H128.7V403.7H128.8V447.6H128.8V570.2H128.9V501.6H129.0V412.5H129.1V552.9H129.1V438.4H129.4V391.8H129.4V481.5H129.4V436.6H129.5V500.9H129.7V418.9H129.8V447.5H129.8V364.9H129.8V220.3H130.0V433.9H130.0V363.5H130.2V570.2H130.2V410.1H130.2V434.7H130.4V493.7H130.4V436.5H130.5V454.0H130.5V445.0H130.5V426.8H130.6V574.6H130.7V528.1H130.9V355.3H131.1V576.6H131.2V566.3H131.5V465.1H131.6V415.9H131.7V349.3H131.8V419.7H131.8V440.4H132.0V403.4H132.1V467.5H132.1V467.9H132.1V472.0H132.2V464.7H132.4V400.6H132.4V452.7H132.5V488.3H132.6V407.7H132.7V536.6H132.9V421.8H133.0V421.1H133.2V401.5H133.2V440.4H133.3V418.4H133.4V473.4H133.5V465.2H133.6V486.5H133.7V459.1H133.8V473.6H133.9V440.6H133.9V440.5H134.0V452.0H134.0V442.4H134.1V404.2H134.1V444.1H134.3V416.0H134.5V508.6H134.7V493.9H134.8V372.7H134.9V452.8H135.0V398.2H135.1V469.3H135.2V395.7H135.3V462.6H135.3V433.2H135.3V335.1H135.4V509.6H135.5V545.2H135.6V435.7H135.8V568.2H135.9V476.4H135.9V392.9H136.1V444.9H136.1V537.3H136.4V478.3H136.6V406.4H136.9V427.3H136.9V393.6H137.0V447.8H137.1V463.7H137.3V455.8H137.5V492.6H137.6V468.8H137.6V455.2H137.9V426.8H138.3V440.2H138.3V428.5H138.3V452.6H138.6V372.0H138.6V433.4H138.6V422.8H138.7V458.0H138.8V541.9H138.9V472.0H139.0V443.5H139.2V466.5H139.2V470.6H139.3V325.0H139.3V471.8H139.4V448.3H139.5V460.0H139.7V411.9H139.7V545.5H139.7V459.3H139.9V490.1H140.0V441.7H140.0V452.5H140.2V484.8H140.3V368.7H140.3V419.8H140.6V405.7H140.7V456.7H140.8V382.6H140.9V462.3H140.9V491.2H141.1V533.5H141.2V491.1H141.3V490.0H141.4V442.7H141.4V428.6H141.5V458.7H141.5V375.1H141.8V449.5H141.8V488.1H141.9V383.8H141.9V480.7H141.9V511.7H142.3V503.6H142.4V403.5H142.5V427.1H142.6V446.4H142.6V436.9H142.6V467.1H142.8V417.2H142.8V485.0H142.9V433.0H143.1V505.4H143.2V507.1H143.4V450.5H143.4V398.9H143.5V380.5H143.7V366.9H143.7V449.7H143.8V450.0H144.1V583.0H144.1V418.0H144.2V320.5H144.3V516.2H144.3V462.7H144.4V447.1H144.4V465.4H144.5V401.7H144.6V400.7H144.7V657.3H144.7V279.4H144.8V576.0H144.8V429.7H144.8V472.1H144.8V381.7H144.9V181.1H145.1V419.6H145.1V412.2H145.2V367.7H145.3V383.9H145.3V422.8H145.4V491.0H145.5V479.2H145.6V269.4H145.7V545.4H145.9V428.0H146.0V410.0H146.1V401.1H146.2V377.9H146.3V466.8H146.5V425.1H146.6V422.3H146.6V386.5H147.1V414.1H147.7V484.7H148.0V454.2H148.1V456.1H148.2V471.5H148.2V443.5H148.2V349.0H148.6V382.5H148.6V390.0H148.7V462.7H149.1V422.5H149.1V523.8H149.1V435.5H149.1V433.4H149.4V451.7H149.4V420.4H149.4V442.6H149.5V456.6H149.6V365.5H149.9V565.7H150.0V400.8H150.1V513.4H150.2V512.8H150.2V519.6H150.4V427.6H150.8V530.4H150.9V435.1H151.4V382.1H151.5V435.3H151.6V472.5H151.7V388.7H151.7V423.4H151.7V426.3H151.7V349.8H151.7V394.4H152.1V460.0H152.2V409.5H152.3V438.1H152.4V364.2H152.8V431.4H153.1V463.4H153.1V508.0H153.1V402.0H153.1V407.9H153.1V485.8H153.2V472.1H153.3V472.4H153.4V475.0H153.5V412.0H153.5V393.6H153.5V500.6H153.6V426.2H153.7V375.7H153.9V408.5H153.9V429.0H154.0V431.2H154.3V444.1H154.5V355.4H154.7V625.5H154.7V452.6H154.8V469.6H154.8V468.0H154.9V529.4H155.1V463.6H155.4V475.1H155.8H156.1V485.9H156.1V457.1H156.2V424.1H156.2V412.0H156.7V439.5H156.9V461.9H157.0V439.8H157.0V376.9H157.0V375.6H157.0V439.5H157.2V481.1H157.2V457.0H157.2V390.1H157.4V508.6H157.6V468.9H157.8V443.5H158.0V385.5H158.0V422.3H158.0V391.0H158.0V424.3H158.1V485.6H158.3V402.8H158.4V413.0H158.6V437.9H158.7V397.5H158.8V482.4H158.9V422.0H159.0V505.2H159.0V411.8H159.1V413.4H159.2V269.4H159.2V432.3H159.3V466.2H159.4V516.8H159.5V412.6H159.5V530.9H159.6V471.5H159.7V408.5H160.0V601.0H160.1V306.0H160.2V380.1H160.3V440.8H160.7V475.0H160.7V404.9H160.7V472.6H160.8V329.2H160.8V435.5H161.0V520.4H161.0V464.4H161.1V487.2H161.2V460.7H161.2V355.2H161.3V472.2H161.4V461.9H161.5V442.3H161.6V415.5H161.8V439.0H162.1V595.0H162.4V543.2H162.5V554.6H162.7V533.1H162.7V484.7H162.8V337.8H162.8V373.8H162.9V333.1H163.2V579.6H163.2V423.4H163.2V440.7H163.8V387.3H163.9V457.0H164.0V566.9H164.1V431.7H164.4V417.1H164.5V415.9H164.6V495.1H164.6V249.9H164.8V486.1H164.8V433.1H164.9V417.2H164.9V445.8H165.0V688.2H165.1V461.4H165.2V464.4H165.2V410.0H165.2V404.7H165.2V422.1H165.5V458.9H165.6V402.3H165.9V417.5H166.0V600.0H166.2V442.2H166.2V466.7H166.5V338.6H166.7V433.5H167.0V485.8H167.1V453.0H167.2V428.4H167.2V387.9H167.3V485.2H167.3V457.0H167.7V472.8H167.8V424.9H167.8V564.9H168.6V558.7H168.6V427.5H168.7V464.7H169.0V543.3H169.2V405.4H169.2V458.2H169.3V405.8H169.4V494.9H169.5V364.4H169.5V391.6H169.6V569.9H169.9V528.9H169.9V450.2H170.3V451.8H170.5V395.1H170.5V392.1H170.7V289.6H171.0V402.9H171.0V545.9H171.2V445.4H171.4V530.9H171.4V449.1H171.4V436.6H171.6V415.5H171.8V433.2H171.8V377.8H171.9V498.5H171.9V467.3H171.9V446.4H172.0V396.1H172.1V515.9H172.2V454.4H172.3V389.9H172.4V410.8H172.5V429.2H172.5V465.7H172.7V541.4H172.7V493.3H172.7V331.4H172.7V403.9H172.7V399.3H172.8V423.2H172.8V588.9H172.8V440.8H173.0V450.7H173.1V470.2H173.3V426.4H173.4V393.8H173.4V409.5H173.4V434.9H173.5V593.1H173.6V452.4H173.9V418.4H173.9V376.1H174.1V399.3H174.1V512.7H174.3V460.0H174.5V565.3H174.7V395.5H174.7V471.6H174.8V431.3H174.8V378.8H175.2V327.3H175.2V415.4H175.6V416.1H175.8V609.7H175.8V414.4H175.9V455.6H176.0V417.4H176.0V476.4H176.1V418.4H176.3V523.5H176.4V393.6H176.6V475.9H176.8V473.0H176.9V471.2H176.9V341.3H177.1V392.4H177.3V453.3H177.7V471.7H177.7V442.2H177.8V544.2H177.8V411.9H177.9V432.1H177.9V458.3H178.0V495.8H178.1V421.6H178.1V394.8H178.4V419.2H178.5V440.4H178.6V447.2H178.9V555.7H178.9V340.5H178.9V409.3H179.3V469.3H179.3V435.5H179.4V311.0H179.4V426.8H179.5V348.7H179.5V399.6H179.5V497.5H179.6V410.8H180.0V408.6H180.1V463.1H180.2V507.0H180.4V451.3H180.7V356.6H180.7V379.8H180.7V418.1H180.8V356.1H181.2V413.9H181.2V438.4H181.2V556.4H181.3V497.5H181.7V421.4H181.8V449.0H181.8V479.5H181.9V427.0H181.9V531.8H181.9V421.0H182.0V412.2H182.2V433.2H182.2V411.2H182.3V409.0H182.4V453.6H182.6V505.1H182.7V507.6H182.8V356.8H182.9V459.1H182.9V622.1H183.0V723.0H183.3V442.8H183.3V462.6H183.4V446.3H183.4V409.7H183.4V425.8H183.6V387.2H183.6V383.7H183.7V453.2H183.9V431.9H184.0V434.3H184.0V538.7H184.0V362.0H184.2V516.7H184.5V492.3H184.5V420.1H184.7V556.9H184.9V496.1H185.0V382.5H185.1V376.5H185.2V491.9H185.4V381.1H185.5V445.3H185.7V410.8H185.7V435.5H185.8V430.3H185.8V443.2H186.0V468.4H186.1V443.5H186.1V444.5H186.3V469.5H186.7V409.1H186.7V426.8H186.8V501.7H186.9V425.2H187.0V436.8H187.1V496.1H187.2V433.0H187.2V430.3H187.3V514.7H187.3V443.8H187.3V428.4H187.4V462.7H187.6V296.8H187.8V451.1H187.9V372.0H188.1V413.3H188.1V463.1H188.3V436.6H188.3V376.8H188.4V399.3H188.6V367.6H188.8V474.9H189.0V384.8H189.1V426.5H189.1V572.4H189.2V434.7H189.2V424.1H189.4V459.7H189.4V427.8H189.6V414.7H189.6V460.5H189.6V391.8H189.6V465.3H189.8V397.1H189.9V470.5H189.9V510.9H190.2V361.4H190.2V339.8H190.3V402.1H190.3V435.6H190.4V523.1H190.5V315.8H190.6V451.0H190.8V567.0H191.1V373.3H191.2V456.0H191.2V389.7H191.3V435.4H191.4V588.0H191.4V619.4H192.1V420.1H192.2V348.2H192.2V456.1H192.4V367.0H192.4V493.5H192.5V465.6H192.5V549.8H192.6V355.7H192.7V540.6H192.8V431.9H192.9V421.9H193.0V490.2H193.5V453.4H193.6V437.5H193.6V571.1H193.8V451.6H194.1V435.1H194.1V495.7H194.2V458.4H194.3V460.1H194.4V461.2H194.5V499.7H194.5V428.6H194.8V512.8H194.8V532.1H195.0V403.5H195.2V446.6H195.3V415.2H195.6V446.6H195.6V330.1H195.7V584.5H195.8V269.4H195.9V455.5H195.9V458.1H196.0V415.9H196.1V420.3H196.2V444.3H196.3V370.9H196.4V313.1H196.6V407.3H196.6V436.6H196.8V423.8H196.8V500.0H197.0V440.5H197.0V378.2H197.1V449.1H197.2V397.7H197.4V426.0H197.5V533.3H197.5V452.4H197.6V450.6H197.7V489.2H197.8V376.0H198.2V396.6H198.3V485.8H198.5V443.0H198.9V371.4H199.0V456.6H199.1V460.7H199.1V440.0H199.2V347.8H199.2V549.5H199.3V437.6H199.5V436.5H199.7V466.7H199.7V469.2H199.7V418.8H199.7V459.6H199.8V391.8H199.9V378.4H200.0V543.8H200.0V349.4H200.0V515.6H200.4V553.1H200.5V377.3H200.6V404.1H200.7V457.2H201.0V453.8H201.0V572.4H201.3V487.3H201.4V458.8H201.7V427.7H201.8V454.5H202.0V404.6H202.1V408.2H202.3V399.7H202.4V490.5H202.7V548.2H202.7V444.5H202.7V446.9H202.7V459.6H202.8V453.9H202.9V439.7H202.9V382.4H203.0V427.1H203.0V487.6H203.0V481.8H203.2V583.5H203.3V444.4H203.3V426.0H203.3V418.7H203.4V537.3H203.5V413.6H203.5V471.2H203.6V444.7H203.7V434.5H204.3V316.4H204.4V391.8H204.5V437.0H204.7V356.4H205.0V401.7H205.0V530.4H205.0V398.3H205.2V416.2H205.4V416.8H205.5V423.0H205.5V441.9H205.6V467.1H206.0V434.5H206.0V568.2H206.2V448.4H206.4V449.4H206.9V472.0H207.0V420.2H207.0V481.8H207.0V430.0H207.0V433.7H207.2V419.1H207.2V433.9H207.3V439.5H207.4V476.5H207.5V438.3H207.6V420.6H207.6V471.7H207.6V426.7H207.7V416.9H207.9V446.4H208.0V538.6H208.1V531.4H208.1V400.0H208.2V464.5H208.8V445.0H208.9V374.3H208.9V399.4H209.1V406.9H209.1V262.8H209.3V452.3H209.3V451.3H209.4V433.8H209.4V393.9H209.6V440.3H209.7V490.6H210.1V583.4H210.1V448.7H210.1V430.0H210.1V501.7H210.2V451.4H210.2V419.1H210.3V374.5H210.3V435.5H210.4V390.2H210.5V461.2H210.5V451.3H210.6V371.0H210.9V397.7H211.2V391.3H211.2V551.4H211.5V558.4H211.6V495.6H211.7V486.5H212.0V463.2H212.1V342.1H212.1V454.7H212.3V446.1H212.3V447.8H212.4V387.2H212.7V477.0H212.7V432.1H212.7V478.1H212.8V417.9H212.9V402.1H212.9V330.6H213.4V409.7H213.5V477.3H213.6V446.0H213.7V390.6H213.7V472.4H213.8V448.4H214.0V406.1H214.0V403.2H214.2V412.3H214.4V415.8H214.4V377.5H214.4V378.6H214.5V522.6H214.6V461.7H214.7V469.7H214.8V458.9H214.9V411.0H215.1V476.0H215.1V390.7H215.3V422.6H215.3V335.2H215.3V375.6H215.5V519.2H215.6V514.7H215.6V400.1H215.8V389.7H215.9V430.2H215.9V522.1H216.1V451.3H216.1V440.5H216.2V486.0H216.5V439.5H216.6V381.3H216.6V455.3H216.8V518.5H216.9V493.8H217.0V508.7H217.0V374.4H217.2V474.1H217.2V455.5H217.3V463.1H217.4V549.8H217.4V561.7H217.4V504.2H217.6V358.8H217.8V419.4H217.9V455.9H218.0V397.0H218.1V621.4H218.1V465.9H218.1V444.0H218.2V389.4H218.5V485.5H218.8V412.7H219.3V475.1H219.4V453.7H219.4V406.8H219.5V416.0H219.7V518.6H219.7V368.3H219.9V469.9H219.9V334.6H220.1V423.7H220.1V456.1H220.2V482.5H220.3V398.4H220.3V408.7H220.7V475.3H220.8V405.8H220.9V481.2H220.9V420.7H221.1V486.1H221.2V439.2H221.3V505.7H221.3V516.9H221.9V433.3H222.0V411.3H222.0V359.1H222.1V492.5H222.1V466.0H222.2V364.4H222.2V423.4H222.2V435.9H222.4V426.3H222.6V409.9H223.0V453.6H223.1V509.9H223.2V431.5H223.2V498.1H223.2V464.2H223.4V419.6H223.4V479.9H223.5V450.8H223.6V348.6H223.6V603.0H223.8V540.6H223.9V381.9H223.9V475.2H223.9V436.6H223.9V427.6H224.1V464.4H224.1V504.8H224.4V417.7H224.6V305.7H224.7V465.6H224.8V425.8H224.8V404.5H224.8V450.9H224.8V446.6H224.9V433.7H225.2V440.4H225.3V370.1H225.6V355.7H225.7V496.6H225.7V384.1H225.8V328.9H225.8V491.2H225.9V483.3H226.1V471.5H226.3V454.0H226.3V398.4H226.6V430.7H226.6V624.4H226.8V423.5H226.9V390.1H227.1V456.4H227.2V504.6H227.4V467.6H227.4V470.3H227.5V700.5H227.6V352.9H227.9V493.3H228.1V411.6H228.1V467.2H228.2V422.6H228.3V492.3H228.3V405.3H228.4V440.6H228.5V453.8H228.5V384.1H228.6V424.4H228.7V406.3H228.9V361.3H228.9V474.7H228.9V421.2H229.0V447.8H229.0V623.7H229.0V448.9H229.2V447.4H229.3V483.6H229.4V442.0H229.5V522.3H229.5V461.3H229.5V391.9H229.6V432.7H229.8V444.2H229.8V437.5H229.9V536.9H230.0V442.2H230.2V368.7H230.3V328.8H230.4V451.1H230.4V430.5H230.5V521.1H230.5V626.3H230.7V417.2H230.8V405.2H231.5V446.0H231.6V467.7H231.7V508.0H231.8V432.0H231.8V544.6H231.8V426.6H231.9V338.2H232.2V447.2H232.2V444.3H232.2V406.5H232.3V308.6H232.5V562.6H232.7V465.9H232.8V446.9H232.9V430.8H233.0V434.3H233.3V435.9H233.3V435.8H233.4V566.7H233.5V507.8H233.6V380.4H234.0V456.9H234.3V475.6H234.4V433.4H234.6V448.3H234.8V429.8H234.9V426.6H235.0V528.0H235.1V466.4H235.5V538.9H235.5V420.9H235.6V429.2H235.7V466.6H235.7V400.4H235.8V491.0H236.0V442.3H236.1V458.5H236.1V490.3H236.4V444.8H236.6V363.6H236.7V439.8H236.9V446.3H237.1V444.7H237.1V439.7H237.1V496.6H237.2V377.3H237.2V585.5H237.2V413.0H237.5V429.0H237.6V491.8H237.7V433.4H237.7V400.1H237.8V365.0H237.9V439.0H238.0V486.9H238.1V351.6H238.2V469.6H238.5V541.3H238.6V380.5H238.9V413.7H238.9V492.4H238.9V386.7H239.0V414.4H239.1V303.8H239.4V462.6H239.4V510.4H239.4V358.6H239.7V456.0H239.9V593.3H239.9V473.5H240.0V535.2H240.2V358.3H240.2V470.1H240.2V447.4H240.3V400.3H240.4V397.9H240.4V492.1H240.5V432.0H240.6V416.3H240.7V447.8H240.8V456.4H241.0V475.4H241.0V449.3H241.1V411.7H241.1V400.0H241.1V418.3H241.2V468.4H241.3V479.4H241.5V465.0H241.9V588.2H241.9V469.2H242.0V419.7H242.1V409.2H242.2V416.4H242.3V483.4H242.4V499.3H242.4V573.0H242.5V488.6H242.5V409.0H242.6V444.4H242.7V351.2H242.8V528.4H243.3V467.6H243.4V411.4H243.4V560.5H243.5V399.2H243.6V484.7H243.6V434.9H243.7V447.5H243.7V480.9H243.8V383.7H243.8V420.3H244.3V418.7H244.4V467.8H244.5V484.8H244.5V452.4H244.5V430.3H244.6V413.8H244.7V393.0H244.8V435.2H245.0V459.1H245.1V460.6H245.7V405.5H245.8V438.2H245.8V411.9H245.8V527.1H245.9V392.8H246.3V361.0H246.3V421.7H246.3V449.1H246.4V466.7H246.5V379.2H246.6V419.9H246.6V428.6H246.7V401.1H246.8V423.6H246.8V459.0H246.9V458.8H247.0V386.4H247.0V454.9H247.0V489.7H247.0V386.7H247.2V426.6H247.3V487.2H247.4V444.0H247.5V465.7H247.7V516.4H247.8V277.8H247.8V583.0H248.0V543.8H248.3V503.7H248.3V266.9H248.3V422.5H248.5V505.6H248.5V375.6H248.7V459.1H248.8V414.2H248.9V475.8H248.9V269.9H249.0V434.2H249.0V517.6H249.0V440.8H249.0V490.7H249.1V382.6H249.1V411.1H249.2V402.9H249.3V444.6H249.5V368.3H249.8V386.6H249.8V478.0H250.2V500.9H250.2V353.7H250.2V405.5H250.2V376.1H250.2V456.8H250.3V352.2H250.3V478.0H250.4V436.9H250.6V479.8H250.7V464.0H250.8V437.3H250.8V470.4H251.0V438.7H251.2V431.8H251.3V450.1H251.4V387.9H251.4V398.2H251.5V499.3H251.9V347.4H252.0V498.9H252.0V424.0H252.1V457.5H252.9V403.9H253.0V379.2H253.3V432.4H253.8V347.5H253.9V334.6H254.1V483.0H254.4V413.1H254.4V438.7H254.4V283.0H254.4V439.4H254.7V544.1H254.9V530.2H254.9V429.6H255.0V523.3H255.1V463.0H255.1V438.3H255.5V432.2H255.5V416.8H255.9V422.0H256.0V434.3H256.0V483.6H256.2V422.0H256.3V445.6H256.4V511.4H256.4V399.8H256.5V622.0H256.7V272.1H256.7V580.5H256.7V404.1H256.7V407.3H256.9V422.1H257.0V515.3H257.1V406.7H257.1V365.3H257.1V485.5H257.2V486.9H257.3V344.6H257.5V443.8H257.5V516.6H257.6V485.0H257.7V394.2H258.0V488.0H258.1V457.5H258.2V482.1H258.3V421.0H258.5V450.7H258.6V404.1H258.6V417.1H258.8V368.9H258.9V391.9H259.0V410.1H259.1V316.5H259.1V432.4H259.2V371.0H259.2V395.9H259.2V436.1H259.3V446.1H259.4V384.8H259.4V422.1H259.5V379.3H259.5V402.8H259.6V410.1H259.7V480.6H259.8V503.4H259.8V531.5H259.9V463.7H259.9V415.8H260.2V429.4H260.4V433.1H260.7V400.1H261.2V588.7H261.3V417.1H261.4V432.6H261.4V423.8H261.6V619.4H261.7V338.2H261.8V507.8H261.9V377.2H262.1V460.6H262.1V459.4H262.2V273.9H262.2V419.6H262.4V443.3H262.4V623.7H262.4V419.3H262.6V464.2H262.7V453.9H263.3V389.2H263.5V325.9H263.7V484.8H263.7V445.3H264.1V375.8H264.4V429.9H264.5V358.4H264.6V568.0H264.6V432.0H264.8V448.3H264.9V621.1H264.9V412.8H264.9V340.3H265.1V455.3H265.2V457.4H265.5V480.2H265.6V377.0H265.6V414.6H265.6V437.2H265.7V420.3H266.0V406.8H266.0V584.4H266.4V456.1H266.4V525.9H266.6V403.5H266.8V425.1H266.8V437.5H266.8V419.7H267.0V350.2H267.1V542.9H267.4V541.5H267.4V436.1H267.4V484.7H267.5V389.6H267.9V457.5H268.2V507.3H268.3V424.3H268.3V431.5H268.7V431.9H268.7V424.9H268.7V449.5H268.7V463.9H268.7V433.2H268.8V417.8H269.0V421.6H269.1V418.7H269.1V470.3H269.4V420.6H269.4V479.9H269.5V361.2H269.7V399.0H269.8V474.9H269.9V519.9H269.9V456.4H270.4V485.7H270.6V460.8H270.7V466.9H270.7V454.1H270.7V474.6H270.9V402.0H270.9V440.4H271.1V354.1H271.2V429.6H271.3V505.6H271.6V404.8H271.9V433.2H271.9V350.4H272.0V407.5H272.0V410.7H272.2V488.5H272.2V438.5H272.2V495.9H272.3V490.2H272.3V552.6H272.4V501.5H272.8V510.1H273.2V430.4H273.2V412.9H273.3V387.1H273.4V428.4H273.4V396.1H273.6V446.3H273.6V443.0H273.8V408.1H273.8V558.3H273.8V426.1H273.9V452.3H274.0V398.1H274.0V418.5H274.2V415.0H274.3V377.6H274.4V423.1H274.4V509.1H274.5V361.8H274.6V364.7H274.6V361.3H274.6V421.5H274.7V398.2H274.8V413.1H274.9V472.2H275.0V561.7H275.0V436.2H275.0V438.5H275.1V438.0H275.1V445.3H275.2V432.4H275.2V544.5H275.7V460.3H275.8V515.2H275.8V483.2H275.8V295.3H276.0V530.7H276.0V413.3H276.1V414.7H276.2V426.3H276.2V465.6H276.4V464.8H276.4V563.7H276.4V402.3H276.6V479.0H276.7V462.5H277.1V501.0H277.3V373.1H277.3V427.6H277.4V315.6H277.4V477.5H277.5V479.3H277.6V490.1H277.6V429.7H277.9V490.1H278.0V520.3H278.1V415.8H278.1V379.3H278.3V362.6H278.4V398.4H278.5V381.0H278.7V453.7H279.0V554.6H279.2V385.5H279.3V418.4H279.5V467.4H279.8V368.6H280.0V251.6H280.1V422.9H280.1V410.0H280.1V448.3H280.2V421.9H280.2V586.2H280.4V511.9H280.5V414.7H280.5V465.8H280.5V422.1H280.6V463.5H280.6V456.2H281.0V515.3H281.2V707.2H281.5V514.0H281.8V391.0H282.0V477.4H282.0V406.7H282.0V407.9H282.1V385.4H282.1V537.9H282.1V448.9H282.1V327.8H282.2V414.7H282.3V435.7H282.4V513.8H282.8V403.1H282.9V504.0H282.9V508.2H283.0V360.3H283.0V397.8H283.0V417.9H283.2V570.8H283.2V405.7H283.5V487.2H283.7V459.8H283.8V432.5H283.9V445.8H283.9V476.5H284.0V398.3H284.3V302.4H284.5V488.3H284.6V383.7H284.7V303.3H284.7V427.0H284.8V277.8H285.0V406.0H285.0V496.8H285.3V430.2H285.3V357.3H285.4V449.4H285.4V361.9H285.4V467.0H285.5V585.0H285.7V409.6H285.7V505.4H285.7V260.6H285.9V361.1H285.9V417.5H286.0V525.4H286.1V495.2H286.2V444.9H286.3V486.3H286.3V368.8H286.4V450.3H286.5V415.2H286.6V503.4H286.6V465.9H286.6V453.3H286.7V417.1H286.7V442.1H286.8V376.9H286.9V508.1H287.0V399.6H287.0V414.9H287.1V424.6H287.1V429.7H287.1V481.8H287.5V509.4H287.6V454.6H287.8V495.2H287.8V513.7H287.8V433.2H287.9V354.2H288.0V438.5H288.6V574.8H288.7V292.2H288.7V443.9H288.9V392.6H289.0V474.7H289.2V463.3H289.3V444.1H289.6V393.9H289.6V578.6H290.3V482.3H290.5V426.9H290.6V496.4H290.6V437.9H290.7V505.8H290.8V522.5H290.9V404.6H291.1V464.6H291.1V410.4H291.2V483.7H291.2V550.2H291.6V521.2H291.6V397.9H291.7V424.0H291.9V452.0H292.2V473.2H292.3V460.1H292.4V488.3H292.4V502.4H292.5V492.7H292.7V363.2H292.9V445.9H292.9V444.0H293.6V392.7H293.7V446.7H293.7V478.6H294.0V461.7H294.0V433.3H294.1V528.4H294.1V379.6H294.2V504.8H294.2V469.0H294.3V484.1H294.4V419.3H294.6V364.7H294.6V408.1H294.6V456.3H294.8V457.5H294.8V427.5H294.9V301.3H295.1V492.0H295.2V520.5H295.4V426.0H295.7V464.5H295.7V539.3H295.8V345.2H296.0V460.2H296.1V416.9H296.1V447.9H296.6V474.7H296.9V467.0H297.0V458.4H297.1V481.5H297.1V518.7H297.2V431.2H297.3V478.5H297.6V481.0H297.6V416.7H297.7V382.5H298.0V471.5H298.0V392.0H298.1V438.7H298.2V412.9H298.7V387.8H298.7V372.6H298.9V354.6H299.0V355.1H299.1V443.7H299.3V327.3H299.5V466.6H299.7V459.3H299.8V444.9H299.9V370.3H299.9V457.7H300.0V505.2H300.3V446.4H300.4V450.6H300.7V408.8H300.8V478.0H301.1V501.5H301.3V394.8H301.3V424.8H301.5V428.4H301.7V457.3H301.8V482.3H301.8V414.4H301.9V534.3H301.9V413.9H302.0V343.5H302.4V438.0H302.7V376.4H302.9V459.6H303.2V612.8H303.3V469.5H303.3V426.9H303.4V479.9H303.4V421.8H303.5V519.8H303.6V513.8H303.7V466.6H303.8V443.4H303.8V418.7H303.9V561.6H304.2V405.3H304.2V385.0H304.4V432.8H304.9V423.4H305.0V365.6H305.1V627.0H305.3V466.2H305.4V402.3H305.4V459.8H305.7V399.2H305.8V435.0H306.2V450.3H306.3V520.5H306.3V536.4H306.3V470.9H306.5V439.5H306.5V533.5H306.6V473.6H306.7V433.6H306.8V410.6H306.9V381.9H306.9V364.0H307.0V484.6H307.0V556.8H307.0V546.9H307.1V479.9H307.2V380.1H307.2V438.5H307.2V419.6H307.3V486.5H307.4V464.2H307.4V454.6H307.5V446.9H307.9V435.0H308.1V459.2H308.1V444.4H308.2V462.3H308.2V420.1H308.3V414.0H308.5V454.6H308.7V345.6H308.8V403.5H309.0V414.4H309.0V431.8H309.3V345.4H309.6V495.0H309.7V422.9H309.8V449.4H309.8V387.7H309.8V566.8H309.9V400.7H310.0V465.1H310.1V390.2H310.4V417.9H310.5V523.0H310.6V619.2H310.6V431.2H310.6V554.2H310.9V434.0H311.2V557.8H311.2V432.3H311.4V515.8H311.4V406.4H311.4V362.5H311.5V415.1H311.8V403.1H311.8V459.3H311.8V472.6H311.9V427.4H312.2V431.2H312.3V462.0H312.3V381.5H312.4V436.7H312.4V554.2H312.6V461.8H312.8V408.4H312.9V455.2H312.9V435.8H313.1V437.2H313.4V484.8H313.6V446.9H313.9V408.8H314.2V506.2H314.2V493.1H314.3V563.0H314.3V426.9H314.5V520.2H314.6V444.2H314.7V385.7H314.7V381.1H314.8V445.0H315.1V454.7H315.1V369.6H315.2V388.6H315.4V476.5H315.4V420.6H315.6V403.5H315.6V477.9H315.8V489.4H316.1V427.2H316.3V545.5H316.4V467.5H316.6V463.8H316.6V452.9H316.6V447.8H316.8V492.0H317.1V438.0H317.2V452.4H317.4V426.2H317.4V453.6H317.8V422.5H317.8V395.6H317.8V438.5H317.9V408.0H318.0V450.3H318.7V417.8H318.7V399.4H318.7V312.7H318.9V428.5H319.1V481.1H319.2V551.5H319.2V457.0H319.4V522.9H319.5V459.4H319.6V508.1H319.7V453.1H319.7V426.5H320.1V405.1H320.4V437.2H320.4V446.4H320.6V413.8H320.9V477.3H320.9V434.5H320.9V461.2H321.0V339.2H321.1V413.3H321.1V435.0H321.1V421.7H321.2V392.7H321.2V478.2H321.3V435.7H321.3V488.5H321.3V395.3H321.5V414.2H321.8V444.8H321.9V423.1H321.9V519.4H322.1V465.9H322.5V455.8H322.5V404.7H322.8V432.3H322.8V414.7H322.9V412.0H323.0V354.4H323.1V442.2H323.1V341.2H323.3V459.8H323.4V370.0H323.5V399.3H323.6V429.8H324.0V579.3H324.1V456.5H324.2V551.2H324.3V427.3H324.7V520.2H324.9V525.4H325.1V419.6H325.3V428.9H325.4V466.5H325.7V483.7H325.7V447.3H325.8V417.0H325.8V372.7H325.9V392.2H326.0V346.5H326.1V469.0H326.2V386.7H326.2V396.2H326.6V416.9H326.8V468.9H327.0V456.5H327.1V473.1H327.1V443.2H327.2V495.9H327.3V402.8H327.4V447.7H327.4V492.8H327.6V409.5H328.1V487.4H328.3V353.4H328.4V414.3H328.4V329.4H328.4V452.3H328.7V590.3H328.7V354.8H328.7V548.3H328.8V337.8H328.9V401.8H329.0V385.9H329.4V415.5H329.5V475.6H329.5V328.2H329.6V430.7H329.8V460.2H329.8V405.4H329.9V493.0H330.0V419.1H330.0V460.4H330.3V443.4H330.4V365.5H330.5V435.6H330.8V389.6H330.8V453.1H330.9V432.4H331.2V452.9H331.3V396.4H331.3V428.4H331.4V420.5H331.4V464.0H331.5V416.9H331.6V450.0H331.7V614.2H331.7V469.4H331.8V378.1H331.9V541.7H332.0V453.2H332.1V413.1H332.5V439.8H332.6V514.5H332.9V455.8H332.9V571.2H333.0V393.5H333.0V571.3H333.2V384.0H333.3V401.8H333.3V453.4H333.4V421.6H333.7V420.5H333.8V404.6H333.8V444.3H333.9V453.2H333.9V535.5H334.1V496.4H334.1V419.8H334.3V423.9H334.3V587.4H334.4V415.7H334.5V445.2H334.5V416.4H334.7V426.6H335.0V496.9H335.0V402.2H335.0V427.7H335.2V502.7H335.2V491.0H335.4V401.8H335.5V434.6H335.5V434.7H335.6V416.0H335.7V498.9H336.0V472.6H336.5V449.3H336.7V421.0H336.8V427.6H336.9V545.8H337.0V390.1H337.1V408.7H337.5V438.5H337.6V391.8H337.6V449.7H337.7V481.8H337.7V429.4H337.7V510.4H337.7V327.4H338.0V333.7H338.0V472.8H338.1V410.8H338.1V441.0H338.2V440.3H338.2V623.6H338.3V412.6H338.3V331.6H338.7V405.9H338.9V377.8H339.1V422.4H339.2V501.4H339.2V438.0H339.3V448.2H339.3V479.8H339.4V410.7H339.8V426.4H340.1V491.9H340.2V427.1H340.3V455.1H340.3V416.7H340.3V417.2H340.3V441.8H340.5V462.6H341.2V388.5H341.4V465.5H341.7V469.3H341.7V414.2H341.9V510.6H341.9V445.8H342.0V432.8H342.2V357.8H342.2V475.9H342.3V366.7H342.5V487.4H342.7V435.1H342.9V417.9H342.9V396.5H343.1V459.2H343.3V461.2H343.4V433.2H343.5V434.1H343.7V381.5H343.7V424.4H343.7V466.4H343.8V418.1H344.0V411.3H344.0V491.4H344.1V498.3H344.1V475.5H344.2V494.6H344.2V482.8H344.2V558.9H344.3V521.8H344.3V442.6H344.4V431.3H344.5V512.9H344.7V433.4H344.7V412.8H344.8V491.6H344.8V440.2H344.8V490.2H344.9V370.3H344.9V371.4H345.1V487.5H345.2V329.2H345.5V502.1H345.5V381.2H345.5V442.0H345.8V454.7H345.9V450.1H346.4V595.8H346.4V443.2H346.4V425.3H346.6V479.5H346.6V455.5H346.7V292.0H347.1V316.7H347.1V624.8H347.1V390.6H347.4V604.1H347.5V508.2H348.0V449.4H348.0V452.8H348.1V377.4H348.3V406.1H348.3V392.7H348.4V427.9H348.6V528.0H348.9V438.2H348.9V408.1H348.9V446.3H349.1V476.8H349.5V407.4H349.5V457.5H349.7V458.9H349.7V419.0H349.8V486.4H349.9V423.5H350.2V398.4H350.2V403.8H350.3V429.8H350.4V497.4H350.4V521.8H350.5V463.7H350.6V434.0H351.0V422.1H351.0V399.6H351.0V464.1H351.1V654.3H351.2V360.6H351.3V409.2H351.5V375.3H351.6V396.1H351.7V380.9H351.7V483.2H351.7V434.5H351.8V463.6H352.1V495.7H352.2V523.2H352.2V450.7H352.5V351.9H352.6V446.4H352.9V473.3H353.2V490.4H353.6V416.4H353.6V452.6H353.7V434.7H354.0V473.9H354.1V430.9H354.3V422.1H354.5V511.0H354.5V380.2H354.6V491.7H354.8V398.8H355.0V414.0H355.2V324.1H355.2V378.5H355.4V394.9H355.5V433.4H355.6V455.3H355.6V367.3H355.7V369.3H355.8V479.9H355.9V385.3H355.9V391.7H356.1V411.8H356.2V448.9H356.6V448.5H356.7V444.2H356.8V317.6H357.0V495.8H357.0V442.2H357.3V497.3H357.3V424.7H357.3V398.1H357.4V464.5H357.8V584.6H357.8V499.7H358.0V441.6H358.1V463.8H358.1V397.6H358.2V436.1H358.3V439.1H358.4V465.3H358.4V413.9H358.5V430.8H358.6V529.8H358.7V451.1H358.7V618.2H358.8V416.2H358.8V450.9H358.9V455.3H358.9V390.4H358.9V443.8H359.0V413.6H359.1V412.8H359.3V421.9H359.5V427.5H359.7V455.6H359.9V425.5H360.0V369.8H360.1V543.4H360.2V474.7H360.4V397.3H360.4V398.3H360.5V460.8H360.5V390.3H360.5V446.8H360.8V426.7H361.0V430.9H361.2V410.3H361.3V413.1H361.3V387.4H361.6V615.6H361.7V404.8H361.9V419.5H361.9V407.7H362.1V434.3H362.1V458.3H362.2V367.2H362.2V446.6H362.6V584.6H362.7V452.1H362.9V512.2H362.9V398.1H363.2V441.8H363.3V516.3H363.4V511.9H363.5V392.3H363.7V405.4H363.7V491.2H363.7V416.9H363.8V396.7H364.1V511.7H364.3V354.5H364.3V404.1H364.6V465.1H364.7V482.5H364.7V403.5H364.8V469.6H365.4V426.8H365.4V433.6H365.5V473.8H365.5V439.8H365.5V477.9H365.6V380.9H365.7V425.8H365.7V536.6H366.1V443.0H366.2V414.5H366.2V405.2H366.4V330.1H366.5V453.9H366.7V336.9H366.7V478.3H366.9V432.7H366.9V406.2H367.0V403.5H367.2V413.6H367.3V397.9H367.8V472.7H367.9V483.8H367.9V474.0H368.0V432.8H368.1V409.4H368.5V464.2H368.5V558.1H368.5V416.8H368.6V447.0H368.6V444.6H368.9V370.1H368.9V450.9H369.0V467.9H369.0V348.8H369.1V442.2H369.1V466.6H369.5V485.1H369.5V367.8H369.6V475.1H369.6V380.8H369.7V464.0H369.9V472.2H370.0V566.7H370.1V451.0H370.1V443.9H370.2V503.9H370.3V327.4H370.4V503.4H370.4V429.8H370.4V383.6H370.5V451.2H370.6V537.0H370.6V421.1H370.7V461.4H370.8V379.0H371.0V456.5H371.0V469.4H371.0V395.4H371.0V475.0H371.1V497.9H371.4V450.0H371.5V437.6H371.6V337.3H371.8V445.1H371.9V471.0H371.9V431.5H372.2V391.2H372.3V544.9H372.8V535.7H372.8V471.7H372.9V458.0H372.9V320.3H373.5V432.4H373.5V433.0H373.7V485.9H373.7V376.6H373.8V433.8H373.8V437.2H373.9V371.0H374.3V512.2H374.5V461.6H374.6V420.8H374.7V412.1H374.9V437.0H374.9V298.4H375.2V443.2H375.3V400.5H375.3V477.4H375.4V557.8H375.4V413.5H375.7V519.1H375.9V424.5H376.0V415.2H376.3V461.4H376.6V479.9H376.6V423.2H376.9V441.8H376.9V455.3H377.1V274.9H377.2V394.4H377.3V474.0H377.3V570.9H377.4V420.5H377.5V459.6H377.5V463.8H377.7V620.5H377.8V561.1H377.8V410.0H377.8V509.1H378.3V478.8H378.8V386.9H378.8V392.4H378.9V530.3H378.9V425.8H379.1V407.0H379.2V493.8H379.3V495.6H379.4V390.7H379.6V360.6H379.9V390.9H380.2V419.4H380.6V503.2H380.7V601.7H380.8V379.8H380.8V566.8H380.8V355.6H380.9V523.1H381.0V294.3H381.1V454.6H381.5V300.9H381.7V369.9H381.7V393.6H382.0V380.0H382.1V468.1H382.1V396.8H382.2V426.5H382.4V529.3H382.6V333.7H382.8V380.9H383.0V445.0H383.0V483.2H383.1V555.3H383.2V319.3H383.4V492.6H383.6V418.9H383.8V486.5H383.8V437.5H384.0V428.9H384.2V498.5H384.2V432.9H384.3V472.1H384.3V394.3H384.4V453.2H384.6V366.6H384.9V480.0H384.9V453.3H384.9V457.1H384.9V505.0H385.2V456.4H385.2V417.6H385.3V462.6H385.3V401.1H385.5V384.6H385.7V505.4H385.9V473.3H386.4V418.5H386.4V426.3H386.4V415.2H386.6V468.3H386.7V497.2H386.7V432.8H386.7V411.5H386.8V404.1H386.8V445.6H386.9V579.8H387.0V436.0H387.1V438.4H387.2V471.4H387.2V417.0H387.3V451.3H387.3V435.4H387.3V445.7H387.6V449.2H387.7V467.0H387.7V419.0H387.9V453.0H388.0V388.0H388.1V442.0H388.3V334.9H388.4V484.9H388.4V467.3H388.5V482.4H388.8V411.2H388.8V446.0H388.9V468.9H388.9V628.2H389.0V405.1H389.1V403.4H389.2V429.6H389.3V414.4H389.4V350.5H389.4V440.9H389.5V394.4H389.6V405.3H389.8V403.2H390.0V463.3H390.0V445.6H390.0V434.1H390.3V367.0H390.5V431.2H390.7V428.6H390.7V432.5H390.8V521.4H390.8V419.2H390.9V492.2H390.9V520.8H391.0V402.5H391.1V435.2H391.2V402.8H391.3V489.8H391.4V413.3H391.4V435.3H391.5V434.9H391.5V396.1H391.8V469.2H392.1V431.9H392.1V463.3H392.3V460.0H392.4V427.1H392.6V373.6H392.9V466.3H392.9V425.9H393.2V410.0H393.3V425.1H393.3V453.9H393.4V425.3H393.6V419.2H393.7V411.8H393.8V396.5H393.9V435.4H394.2V365.6H394.4V455.4H394.7V463.4H394.8V471.4H394.8V435.9H394.8V491.3H394.9V347.4H395.1V462.7H395.1V482.5H395.3V520.9H395.3V455.9H395.6V430.9H395.6V480.4H395.6V443.0H395.8V427.3H396.3V445.0H396.3V468.3H396.5V471.6H396.6V425.4H396.8V426.8H397.0V346.6H397.0V436.4H397.3V460.3H397.3V401.1H397.5V463.5H397.6V402.6H397.6V482.2H397.8V517.1H397.8V457.6H397.8V444.3H398.1V403.8H398.1V432.2H398.1V380.0H398.2V499.7H398.3V400.0H398.3V379.0H398.6V444.8H398.6V437.4H398.7V381.4H398.7V591.0H399.0V460.1H399.0V448.5H399.1V357.1H399.2V341.7H399.2V593.3H399.4V434.6H399.5V402.9H399.5V480.0H399.6V474.5H399.8V348.3H399.8V398.7H399.8V457.3H399.9V421.3H400.1V472.6H400.2V473.1H400.2V564.4H400.2V410.5H400.3V363.3H400.4V344.4H400.6V432.6H400.6V477.9H400.6V395.1H401.0V463.0H401.1V497.9H401.2V468.4H401.7V352.0H401.9V441.2H402.2V481.7H402.3V389.9H402.6V413.5H402.7V461.9H402.9V432.7H403.0V536.9H403.1V399.6H403.2V453.8H403.4V435.7H403.4V429.7H403.5V454.4H403.5V427.5H403.5V495.3H403.5V520.9H403.9V492.8H404.0V417.0H404.0V444.8H404.1V385.7H404.2V520.3H404.2V457.9H404.3V423.4H404.4V523.1H404.4V548.4H404.4V463.9H404.4V418.9H404.6V445.6H404.7V505.4H404.8V475.7H404.9V556.7H405.0V454.6H405.0V397.9H405.0V522.2H405.0V576.0H405.1V397.2H405.3V535.6H405.3V482.2H405.4V472.1H405.4V441.7H405.4V434.2H405.6V417.8H405.6V500.0H405.7V522.4H405.8V464.8H406.0V376.8H406.1V397.0H406.3V428.7H406.3V567.7H406.3V550.1H406.4V382.8H406.4V388.5H406.6V338.7H406.7V408.6H406.8V441.1H407.0V453.8H407.0V475.0H407.1V528.9H407.4V414.8H407.5V382.1H407.6V372.5H407.6V423.9H407.8V554.2H407.8V462.1H407.8V424.7H408.0V355.7H408.0V550.4H408.0V431.9H408.1V450.5H408.1V515.3H408.3V589.1H408.3V407.6H408.4V475.3H408.5V455.5H408.5V413.7H408.6V422.3H408.6V426.4H408.8V422.9H409.1V484.1H409.2V456.9H409.3V454.9H409.5V377.1H409.5V388.3H410.0V448.2H410.0V415.0H410.1V428.2H410.2V427.9H410.2V444.6H410.3V414.6H410.8V479.2H410.9V510.9H410.9V437.0H411.0V461.8H411.1V423.5H411.1V428.2H411.2V445.6H411.2V442.0H411.5V613.3H411.7V416.6H411.7V405.9H411.8V421.3H412.0V441.8H412.0V417.0H412.1V441.1H412.1V464.0H412.1V427.5H412.4V436.7H412.5V514.9H412.5V460.6H412.7V414.7H412.8V521.1H412.8V430.6H413.0V401.3H413.1V370.2H413.2V468.1H413.3V466.5H413.7V327.9H413.9V491.2H414.1V492.5H414.3V433.6H414.3V463.0H414.3V415.9H414.5V472.3H414.6V433.9H414.6V434.6H414.9V433.3H414.9V432.9H415.3V437.2H415.5V425.1H415.8V434.9H415.8V342.6H416.1V392.0H416.2V408.5H416.2V506.2H416.3V481.0H416.5V575.3H416.5V338.1H416.6V608.9H416.6V516.4H416.7V462.8H416.8V520.4H417.0V436.1H417.0V453.8H417.4V383.2H417.7V408.6H417.7V445.5H417.7V442.9H417.9V398.5H417.9V423.8H418.6V564.1H418.9V419.1H419.0V455.8H419.0V460.7H419.3V410.8H419.4V359.5H419.5V325.4H419.5V452.9H419.5V435.9H419.6V428.6H419.9V413.6H420.1V457.0H420.4V463.9H420.4V399.8H420.5V480.9H420.5V516.8H421.1V433.6H421.1V425.8H421.4V529.4H421.4V395.4H421.8V414.9H421.8V401.9H421.8V436.3H421.9V394.9H422.1V425.5H422.1V504.8H422.2V431.8H422.3V458.6H422.5V432.0H422.5V503.3H422.6V410.4H422.6V432.3H422.6V506.0H422.8V393.7H422.8V544.5H423.0V437.8H423.1V455.3H423.1V371.7H423.2V464.9H423.3V549.8H423.4V457.0H423.6V392.1H423.9V457.9H424.0V451.2H424.0V321.1H424.0V445.2H424.2V415.3H424.3V459.6H424.3V420.8H424.4V562.4H424.4V397.4H424.5V430.2H424.6V401.3H424.7V419.6H424.9V502.4H425.0V463.4H425.1V412.2H425.1V389.6H425.3V401.2H425.7V419.2H426.0V409.1H426.2V386.6H426.3V357.1H426.3V377.9H426.4V405.9H426.4V454.3H426.4V456.5H426.6V477.8H426.6V444.4H426.6V460.4H426.7V438.2H426.8V455.7H427.0V575.1H427.3V478.0H427.3V425.0H427.4V404.0H427.4V491.6H427.7V491.6H427.7V432.6H427.8V514.0H427.9V487.5H428.1V407.0H428.1V430.1H428.3V428.6H428.5V449.0H428.8V454.2H428.9V443.7H429.1V387.3H429.1V457.9H429.2V443.8H429.2V411.8H429.3V444.5H429.5V321.9H429.5V401.0H429.7V452.7H429.7V440.1H429.8V417.8H429.9V390.2H430.0V382.8H430.2V504.9H430.2V428.8H430.4V430.6H430.5V419.1H430.5V406.5H430.6V404.0H430.7V393.5H430.7V482.4H430.9V499.6H431.3V399.0H431.4V414.0H431.4V373.6H431.4V440.2H431.4V430.9H431.5V317.8H431.6V423.8H431.7V533.8H432.1V432.7H432.2V470.9H432.3V380.1H432.4V391.2H432.5V418.0H432.6V439.6H432.7V419.9H432.8V442.4H432.9V448.9H432.9V454.8H433.0V566.6H433.0V408.8H433.1V420.1H433.2V477.4H433.5V489.4H433.5V441.9H433.5V467.0H434.1V467.3H434.3V309.4H434.6V411.4H434.7V441.3H434.8V427.6H434.8V476.5H434.8V469.7H434.9V460.9H435.1V610.7H435.1V484.9H435.4V391.5H435.5V490.9H435.6V495.4H435.6V416.4H435.7V431.5H435.7V340.9H435.8V428.8H435.8V502.9H436.0V499.4H436.1V538.6H436.3V414.7H436.3V447.8H436.4V391.9H436.5V440.2H436.6V436.0H437.3V515.7H437.3V418.3H437.3V539.7H437.4V437.8H437.4V412.1H437.7V511.5H437.8V454.1H437.9V459.2H437.9V460.5H437.9V441.3H438.1V379.0H438.3V403.8H438.7V401.5H438.8V431.7H438.9V523.9H438.9V407.8H439.0V498.8H439.1V398.8H439.3V470.7H439.4V409.1H439.5V442.7H439.7V473.1H440.0V406.4H440.1V429.2H440.1V421.8H440.4V414.0H440.6V429.8H440.7V422.2H440.7V418.5H440.7V499.7H440.8V403.9H441.0V425.3H441.0V412.0H441.4V439.2H441.4V495.4H441.6V387.9H441.6V600.4H441.7V478.3H441.8V529.6H442.2V421.5H442.2V605.2H442.4V525.6H442.6V528.9H443.0V450.7H443.0V371.4H443.1V424.7H443.3V399.0H443.3V361.7H443.4V372.8H443.4V428.4H443.5V482.5H443.5V455.2H443.5V427.2H443.6V475.6H443.9V425.7H444.0V474.6H444.1V406.6H444.2V398.8H444.3V402.1H444.3V439.9H444.3V522.1H444.3V361.3H444.4V430.7H444.6V449.5H444.7V483.4H444.8V391.5H445.0V412.8H445.2V521.2H445.3V474.0H445.8V424.9H445.9V429.8H445.9V353.1H446.0V392.2H446.3V343.1H446.6V370.0H446.7V370.4H446.7V387.6H446.9V446.5H447.0V457.8H447.1V456.1H447.2V425.0H447.3V498.5H447.4V351.9H447.5V408.8H447.5V408.6H447.6V472.7H447.7V416.0H447.9V403.0H448.1V444.4H448.1V412.2H448.2V421.9H448.2V418.8H448.3V426.8H448.3V470.9H448.3V488.2H448.4V402.4H448.4V401.1H448.7V414.4H448.7V448.8H448.7V438.9H448.9V437.7H448.9V426.4H449.0V478.4H449.1V486.5H449.1V501.1H449.3V485.1H449.4V534.2H449.5V464.3H449.6V414.3H449.6V338.3H449.6V463.2H449.7V484.1H449.8V499.9H450.0V393.0H450.0V526.8H450.1V490.1H450.2V340.8H450.4V387.7H450.7V435.7H450.8V537.1H451.1V455.1H451.2V466.6H451.4V409.7H451.4V453.8H451.5V393.5H451.7V458.4H451.7V399.0H451.7V437.4H451.8V460.0H451.9V370.4H452.1V431.9H452.2V440.9H452.2V462.4H452.2V386.4H452.3V448.1H452.9V416.4H453.1V445.3H453.1V423.8H453.2V429.0H453.5V425.1H453.7V408.4H453.8V439.5H453.9V496.8H453.9V423.9H454.0V384.9H454.1V429.6H454.2V432.5H454.6V486.3H454.8V344.1H455.1V507.9H455.2V420.5H455.2V474.4H455.3V488.0H455.4V496.8H455.4V411.8H455.5V466.8H455.7V393.8H455.9V435.7H456.1V382.5H456.2V373.4H456.2V435.8H456.6V467.7H456.8V487.7H457.0V369.2H457.1V493.7H457.1V512.3H457.2V444.0H457.5V414.2H457.7V386.1H457.7V357.3H457.7V493.3H457.7V490.7H457.9V428.1H458.0V488.5H458.8V503.8H459.2V471.7H459.3V530.9H459.3V407.8H459.4V392.8H459.5V398.1H459.5V463.4H459.5V396.4H459.5V450.5H460.0V454.1H460.1V475.0H460.2V433.3H460.3V435.7H460.3V380.5H460.5V534.9H460.5V417.1H460.6V392.0H460.9V457.2H461.3V436.3H461.3V434.1H461.4V425.2H461.5V418.7H461.7V447.2H461.7V359.2H462.0V371.2H462.0V512.3H462.1V403.9H462.2V539.7H462.3V454.8H462.3V433.0H462.5V434.7H462.6V427.2H462.6V394.0H462.6V423.5H462.8V410.3H463.4V426.2H463.4V517.8H463.5V428.8H463.5V500.3H463.6V422.7H463.6V475.8H463.6V498.5H463.6V418.5H463.7V455.9H463.8V431.8H463.8V417.1H463.9V452.9H463.9V374.5H464.1V391.5H464.2V419.7H464.4V431.3H464.5V446.2H464.6V411.6H464.6V391.3H465.0V430.1H465.2V410.5H465.4V443.3H465.5V454.1H465.6V435.1H465.8V397.2H465.8V395.0H465.9V418.2H465.9V532.6H465.9V452.0H466.1V433.2H466.6V424.2H466.7V347.2H466.7V472.0H466.7V441.1H466.9V413.7H467.1V516.4H467.3V440.3H467.5V396.3H467.7V406.4H467.7V425.4H467.9V395.0H468.0V477.3H468.1V357.2H468.2V458.5H468.2V404.2H468.4V425.7H468.4V481.4H468.4V460.7H468.5V457.6H468.6V367.4H468.8V418.9H468.8V515.0H468.8V424.2H469.0V339.5H469.1V434.7H469.1V445.7H469.5V527.7H469.5V420.6H469.6V449.2H469.6V418.5H469.7V427.0H470.2H470.3V400.3H470.5V410.3H470.6V404.4H470.7V410.6H470.8V449.9H471.1V416.1H471.2V514.0H471.2V446.3H471.3V530.4H471.4V383.1H471.5V350.4H471.5V464.5H471.6V388.6H471.7V405.8H471.9V435.2H472.0V472.4H472.1V417.9H472.2V437.4H472.3V422.4H472.4V436.0H472.5V415.1H472.5V422.0H472.6V392.7H472.7V464.5H472.9V496.1H473.5V402.5H473.8V460.9H474.1V410.0H474.2V448.4H474.2V438.2H474.2V507.9H474.5V500.2H474.6V386.2H474.7V464.5H474.9V416.4H474.9V484.9H475.0V438.3H475.3V431.7H475.5V428.8H475.7V431.7H475.7V431.6H475.7V437.2H475.8V519.2H475.8V410.7H475.9V436.4H476.3V380.7H476.4V410.9H476.7V500.6H477.0V364.5H477.2V440.3H477.3V514.3H477.5V518.3H477.5V428.1H477.6V414.9H477.7V467.6H477.8V393.6H477.9V440.6H477.9V462.1H478.1V451.3H478.2V503.9H478.2V399.8H478.4V408.4H478.5V510.8H478.6V382.3H479.0V457.6H479.2V417.3H479.3V390.0H479.4V445.9H479.4V427.1H479.5V427.0H479.6V542.1H479.7V385.0H480.0V494.8H480.2V475.2H480.3V511.5H480.4V499.7H480.5V499.9H480.6V451.0H480.7V451.8H480.9V507.5H481.0V471.2H481.0V509.5H481.2V435.1H481.4V426.1H481.6V422.7H481.7V403.8H481.9V458.6H482.0V395.5H482.0V527.8H482.0V564.3H482.1V457.4H482.2V502.2H482.2V370.1H482.7V406.8H482.9V594.6H483.0V487.4H483.0V425.0H483.2V421.5H483.2V421.9H483.3V462.3H483.3V452.8H483.5V440.6H483.5V442.5H483.6V537.4H483.6V474.6H483.8V430.4H484.3V448.4H484.4V539.1H484.6V440.1H484.7V433.1H484.7V432.5H484.9V397.6H485.0V422.9H485.1V478.7H485.4V589.1H485.5V471.7H485.8V465.5H485.9V485.7H485.9V421.3H486.0V494.4H486.1V345.6H486.7V423.7H487.0V451.4H487.1V504.9H487.2V448.6H487.4V413.0H487.4V429.8H487.4V447.6H487.7V404.2H487.9V433.1H488.0V449.0H488.0V426.9H488.0V503.1H488.1V406.2H488.1V426.6H488.1V465.5H488.7V418.2H488.8V448.8H488.8V400.4H488.9V437.7H489.3V439.1H489.5V430.4H489.6V408.2H490.0V410.3H490.1V466.2H490.2V361.9H490.2V416.4H490.4V447.2H490.7V503.4H490.7V444.2H490.9V438.2H491.0V437.3H491.0V493.2H491.1V434.1H491.2V454.6H491.3V466.4H491.4V419.9H491.5V494.9H491.6V463.8H491.8V416.1H491.8V480.8H491.9V450.7H492.0V358.8H492.2V496.1H492.3V434.5H492.3V425.2H492.3V419.8H492.4V534.3H492.4V418.3H492.5V405.4H492.6V414.3H492.7V434.9H493.0V401.5H493.1V404.7H493.2V464.4H493.3V395.7H493.4V423.1H494.2V405.0H494.2V455.0H494.3V436.0H494.4V458.2H494.4V448.9H494.6V452.2H494.8V454.9H494.9V424.8H495.0V467.0H495.0V427.0H495.2V443.6H495.3V415.1H495.4V527.1H496.0V458.6H496.2V336.1H496.2V421.1H496.5V454.5H496.5V590.7H496.5V430.6H496.8V497.9H496.9V459.5H496.9V437.1H496.9V476.4H497.0V409.1H497.1V393.0H497.4V524.4H497.4V439.3H497.4V346.4H497.8V442.7H497.8V405.3H497.8V423.1H497.9V458.0H498.0V427.6H498.0V390.2H498.1V542.7H498.2V519.6H498.2V411.5H498.2V418.4H498.3V428.5H498.7V442.7H498.7V426.2H498.8V405.0H498.9V464.4H499.0V398.7H499.0V421.4H499.2V588.5H499.2V460.4H499.4V428.0H499.5V445.5H499.9V440.2H500.0V411.6H500.1V443.9H500.4V462.5H500.5V390.0H500.6V442.3H500.6V428.3H500.9V548.6H501.3V490.6H501.6V452.5H501.7V393.3H501.7V448.8H501.8V401.4H501.8V419.4H502.0V344.8H502.0V485.5H502.0V526.1H502.3V428.9H502.4V447.1H502.5V413.1H502.7V438.8H503.0V416.7H503.0V419.4H503.8V462.4H503.8V410.4H503.8V444.1H503.9V384.4H504.0V429.6H504.2V426.0H504.3V423.1H504.5V450.7H504.8V448.4H505.0V450.3H505.2V420.6H505.2V526.8H505.3V433.3H505.3V378.8H505.3V503.4H505.5V446.7H505.6V333.8H505.6V451.7H505.6V414.2H505.8V439.4H506.2V429.0H506.2V409.4H506.3V428.5H506.3V435.8H506.3V426.9H506.6V427.0H506.7V352.0H506.9V416.7H506.9V473.3H507.0V430.7H507.0V423.7H507.1V493.2H507.2V433.5H507.3V451.6H507.4V435.4H507.5V440.3H507.7V473.1H507.9V404.3H508.0V440.0H508.2V505.5H508.3V418.9H508.4V434.6H508.4V443.6H508.7V410.0H508.8V426.7H509.2V475.4H509.2V437.2H509.4V463.0H509.4V444.7H509.6V466.1H510.0V450.8H510.3V386.5H510.4V470.1H510.6V409.8H510.6V439.7H510.9V417.6H510.9V473.0H511.0V500.6H511.2V524.3H511.2V513.6H511.6V424.5H511.7V526.9H511.7V449.2H511.7V420.6H512.1V445.7H512.2V493.3H512.5V421.4H512.5V435.9H512.5V381.6H513.0V442.6H513.8V429.2H513.8V465.5H514.1V361.4H514.1V385.8H514.3V399.0H514.3V486.7H514.4V462.1H514.5V435.4H514.6V445.9H514.9V424.0H515.0V412.7H515.0V417.6H515.1V486.9H515.2V384.2H515.5V491.2H515.5V417.2H515.6V390.3H515.7V593.7H515.8V422.4H515.9V461.6H516.0V447.9H516.1V372.2H516.2V463.3H516.2V506.2H516.2V385.2H516.4V403.2H516.5V421.2H516.5V442.9H516.7V437.9H516.7V466.7H516.7V524.5H516.7V418.2H516.8V409.2H516.9V443.1H517.0V463.9H517.0V503.1H517.1V436.4H517.2V447.3H517.2V419.7H517.2V543.3H517.5V465.0H517.6V414.8H517.8V446.1H518.0V427.4H518.0V408.3H518.1V500.4H518.2V428.4H518.3V422.6H518.4V418.9H518.4V440.9H518.4V490.3H518.6V445.5H518.6V470.0H518.7V436.1H518.8V539.0H518.9V427.0H519.0V567.8H519.2V470.4H519.4V330.5H519.4V411.3H519.4V403.2H519.5V437.0H519.5V432.9H519.7V401.4H519.7V370.1H519.9V383.2H520.1V459.4H520.1V456.7H520.3V448.8H520.3V449.7H520.7V437.4H520.8V438.3H520.9V476.6H520.9V471.4H521.1V336.2H521.1V416.9H521.2V474.8H521.5V501.1H521.5V422.5H521.7V386.6H521.7V450.9H521.7V413.7H521.8V433.9H521.8V429.0H521.9V396.7H521.9V458.5H522.0V442.0H522.2V439.1H522.6V430.8H522.8V461.0H522.9V417.5H523.0V481.7H523.1V454.2H523.2V421.8H523.3V413.7H523.3V373.9H523.6V423.0H523.6V434.2H523.8V399.2H523.8V485.4H524.0V425.2H524.3V509.5H524.3V498.6H524.4V309.3H524.5V361.4H524.6V438.5H524.6V464.5H524.7V484.4H525.0V454.9H525.1V473.7H525.6V502.2H525.7V450.0H526.0V451.2H526.4V466.7H526.6V411.2H526.7V407.5H526.9V438.4H526.9V383.6H527.0V423.3H527.0V535.7H527.0V493.5H527.1V382.7H527.4V411.6H527.5V419.9H527.5V466.5H527.5V492.1H527.8V525.0H528.2V451.2H528.3V430.3H528.5V434.4H528.6V444.8H528.7V399.3H528.7V440.0H528.7V418.3H528.8V480.4H529.1V311.4H529.2V501.6H529.3V403.3H529.3V448.3H529.3V467.2H529.3V417.2H529.3V492.3H529.4V438.2H529.4V500.4H529.6V465.4H529.7V426.2H529.7V406.1H529.8V383.4H529.8V493.9H529.9V465.6H529.9V452.3H530.3V557.0H530.4V486.2H530.5V419.3H530.9V449.0H531.0V366.2H531.5V430.2H532.0V426.6H532.0V483.0H532.1V396.8H532.2V432.7H532.2V383.6H532.3V362.5H532.3V544.9H532.4V409.8H532.6V474.9H532.8V466.8H533.2V447.5H533.3V436.9H533.7V354.9H533.9V419.7H534.0V405.2H534.0V408.1H534.1V566.1H534.3V479.8H534.3V587.4H534.4V468.0H534.5V439.5H534.6V403.8H534.8V424.6H534.8V500.3H535.1V454.9H535.1V505.5H535.2V413.4H535.7V419.4H535.9V449.1H535.9V447.0H536.2V357.4H536.2V480.8H536.4V418.6H536.4V455.9H536.6V433.4H536.7V470.6H536.8V398.7H537.1V362.5H537.1V433.4H537.2V392.5H537.2V454.7H537.7V388.6H538.0V416.6H538.4V426.7H538.4V477.4H538.5V431.3H538.8V515.7H539.0V430.6H539.0V417.3H539.1V422.2H539.4V504.2H539.4V413.6H539.5V535.8H539.6V409.1H540.0V434.9H540.0V420.9H540.2V469.1H540.3V456.5H540.3V434.8H540.4V422.8H540.7V468.7H540.9V557.8H541.2V514.4H541.2V388.6H541.3V434.1H541.3V472.2H541.3V422.4H541.5V430.4H541.7V522.3H541.8V418.2H542.1V499.1H542.1V435.8H542.2V423.8H542.2V388.7H542.5V454.8H542.7V500.4H542.7V447.9H542.7V508.7H542.9V504.2H543.2V449.2H543.3V503.4H543.4V425.4H543.5V405.7H543.8V450.5H543.8V413.2H543.8V483.3H543.9V401.9H544.0V374.7H544.0V360.9H544.3V433.5H544.4V428.6H544.6V509.1H544.6V408.1H544.7V553.9H545.1V409.9H545.1V404.0H545.1V457.9H545.2V462.0H545.2V520.7H545.4V425.2H545.5V482.4H545.9V440.9H545.9V441.7H546.0V524.6H546.1V452.6H546.4V494.0H546.5V374.0H546.6V370.0H546.7V429.3H546.9V387.6H547.0V434.7H547.1V565.7H547.2V435.6H547.3V393.3H547.5V486.2H547.7V493.0H547.8V459.2H548.2V417.5H548.4V504.6H548.4V413.2H548.5V473.6H548.7V587.7H548.8V565.5H548.8V442.4H549.1V433.0H549.3V485.0H550.0V429.0H550.4V443.4H550.7V410.9H550.7V420.8H550.7V483.6H550.8V427.3H550.9V443.5H551.1V425.1H551.1V429.4H551.3V415.7H551.5V482.9H551.5V479.3H551.7V438.8H551.7V423.7H552.0V518.1H552.2V508.8H552.2V415.9H552.3V446.1H552.5V474.8H552.5V408.8H552.7V415.7H552.8V415.4H553.0V541.9H553.0V461.8H553.1V382.4H553.9V432.0H553.9V507.5H553.9V408.8H553.9V426.6H553.9V405.7H553.9V452.0H554.0V432.4H554.0V433.8H554.2V366.4H554.3V414.0H554.4V464.1H554.7V417.9H554.8V431.6H554.8V445.2H554.9V431.9H555.0V361.3H555.0V424.0H555.2V505.1H555.5V454.6H555.6V372.3H556.0V425.8H556.0V420.1H556.1V460.5H556.3V438.2H556.5V415.8H556.5V408.5H556.8V513.6H557.0V462.6H557.1V452.6H557.3V438.7H557.5V444.6H557.6V429.4H557.6V436.9H557.7V446.6H557.7V438.3H557.8V480.4H557.8V475.4H558.0V499.6H558.0V459.3H558.1V484.4H558.4V403.4H558.7V518.1H558.8V480.2H559.0V428.9H559.5V497.4H559.5V450.0H559.7V452.2H559.8V442.9H560.2V418.3H560.3V464.3H560.3V461.7H560.5V386.1H560.5V454.0H560.6V416.6H560.8V447.4H560.8V438.3H560.9V434.4H561.1V448.2H561.3V360.8H561.6V408.6H561.7V435.6H561.9V432.6H561.9V390.4H562.1V440.8H562.2V470.8H562.3V452.6H562.3V429.4H562.6V438.4H562.8V435.2H562.9V462.1H562.9V429.0H563.0V452.6H563.1V414.6H563.1V425.1H563.1V432.4H563.2V430.2H563.6V421.4H563.7V448.0H563.9V432.8H564.0V443.5H564.1V487.5H564.5V457.4H564.5V397.5H564.6V545.6H564.6V453.1H564.6V464.6H564.7V457.0H564.7V404.5H564.8V389.5H564.8V442.5H564.9V497.6H565.0V450.3H565.3V480.3H565.3V385.6H565.5V578.2H565.6V440.2H565.7V442.8H565.7V389.4H565.7V493.3H565.8V408.8H565.8V404.8H565.9V429.6H566.0V469.6H566.0V426.5H566.2V513.7H566.8V419.6H566.9V402.8H567.3V442.9H567.5V448.9H567.8V427.8H568.0V368.1H568.6V424.4H568.8V447.6H568.8V441.5H569.1V535.4H569.2V397.8H569.5V440.7H569.5V460.5H569.6V487.3H569.6V418.1H569.9V410.6H570.0V395.3H570.2V380.4H570.2V446.3H570.2V516.2H570.6V520.3H570.9V415.2H571.0V357.6H571.0V417.8H571.1V432.3H571.1V431.8H571.5V406.8H571.5V406.3H571.6V486.2H571.7V378.0H571.9V539.1H572.4V463.8H572.4V411.5H572.5V465.1H572.7V371.5H572.7V476.4H572.8V457.8H573.0V362.1H573.1V430.7H573.3V422.0H573.4V474.6H573.4V368.2H573.6V484.5H573.8V404.9H573.8V467.9H574.0V471.8H574.1V358.9H574.6V455.4H574.7V435.3H574.8V468.1H575.0V368.3H575.1V433.7H575.1V430.0H575.1V422.7H575.3V353.3H575.7V425.2H575.8V391.4H575.8V436.9H576.3V419.1H576.4V426.0H576.5V512.8H576.6V435.6H576.7V432.5H576.8V451.4H577.2V446.7H577.3V443.4H577.4V476.9H577.5V333.3H577.6V404.5H577.7V468.9H577.9V441.2H578.1V310.7H578.1V446.7H578.5V427.8H578.9V417.5H578.9V392.7H579.0V434.4H579.2V442.3H579.3V414.3H579.7V472.2H579.7V499.2H579.9V430.3H580.2V464.4H580.2V409.9H580.4V432.4H580.4V496.1H580.5V443.4H580.6V465.7H580.6V419.7H580.6V495.1H581.0V461.2H581.1V396.9H581.1V530.6H581.1V418.6H581.3V443.1H581.3V431.2H581.4V417.8H581.4V531.2H581.5V423.8H581.5V392.5H581.5V399.1H581.8V468.9H581.8V470.0H582.4V380.7H582.6V579.2H582.7V447.3H582.8V447.2H582.8V426.3H583.0V436.7H583.2V439.4H583.2V483.8H583.7V422.8H583.7V428.5H583.9V446.3H584.0V451.7H584.1V443.8H584.2V422.6H584.2V473.4H584.2V486.4H584.3V447.6H584.3V422.1H584.3V445.0H584.4V437.6H584.7V429.2H584.7V413.3H585.1V462.1H585.1V492.3H585.1V506.9H585.2V420.2H585.6V458.0H585.6V426.8H585.9V460.7H585.9V439.5H586.1V403.4H586.8V444.0H586.8V444.6H586.8V438.9H586.8V445.5H586.9V430.1H587.2V419.4H587.5V415.1H587.6V435.6H587.9V475.6H588.1V441.5H588.3V443.1H588.4V424.1H588.4V482.5H588.5V469.1H588.5V426.4H588.6V414.4H589.3V471.6H589.3V477.7H589.4V404.3H589.7V425.4H589.8V433.3H590.3V421.7H590.4V460.4H590.5V409.6H590.6V424.7H591.0V433.8H591.1V484.5H591.5V441.8H591.6V498.0H592.2V424.5H592.6V450.0H592.6V475.7H593.0V488.0H593.1V524.4H593.3V432.9H593.3V406.2H593.3V498.5H593.4V436.2H593.5V450.4H593.6V471.3H593.7V433.4H593.7V445.1H593.8V448.6H593.9V413.4H594.1V439.0H594.2V465.8H594.2V375.8H594.4V496.5H594.6V421.9H594.8V429.3H594.8V372.2H594.8V465.1H594.8V398.6H594.9V388.2H595.0V458.5H595.0V412.1H595.3V431.0H595.4V450.4H595.7V428.4H595.8V468.4H596.0V358.1H596.1V424.0H596.1V453.9H596.2V396.4H596.2V397.8H596.3V440.9H596.3V475.1H596.4V468.8H596.4V435.6H596.4V370.7H596.5V464.0H596.7V468.9H597.0V460.8H597.5V402.8H597.8V377.5H597.8V497.6H597.8V446.6H598.5V438.2H598.8V530.6H598.9V466.5H598.9V412.2H599.0V415.3H599.5V333.5H599.6V422.7H599.7V369.8H599.7V432.9H599.8V395.8H600.1V440.5H600.1V447.7H600.1V487.6H600.1V454.2H600.3V571.4H600.5V439.1H600.8V419.6H601.0V424.2H601.2V412.4H601.2V470.2H601.4V472.5H601.7V452.8H601.7V461.8H601.8V431.8H601.9V442.6H602.1V395.8H602.1V411.2H602.6V443.6H602.6V414.9H602.8V456.7H603.0V449.7H603.0V444.7H603.2V425.6H603.4V442.2H603.4V517.2H603.5V390.0H603.7V416.3H603.7V531.3H603.8V376.2H603.9V425.3H603.9V410.7H603.9V441.8H603.9V414.6H604.0V420.5H604.1V432.2H604.2V415.9H604.3V396.5H604.3V441.0H604.3V485.8H605.0V434.8H605.0V450.5H605.1V369.3H605.5V460.2H605.5V444.3H605.6V448.7H605.6V463.3H605.7V400.0H605.8V432.1H606.5V439.8H606.9V428.9H607.0V568.3H607.2V445.3H607.5V470.4H607.6V425.1H607.7V426.2H607.7V422.3H607.8V425.1H607.8V492.8H608.0V456.4H608.1V416.6H608.1V438.8H608.2V441.2H608.5V434.7H608.5V427.1H608.6V394.3H608.8V424.5H608.9V445.4H609.0V430.3H609.1V420.2H609.3V443.2H609.3V463.8H609.4V444.5H609.5V381.8H609.6V363.6H609.7V475.9H609.7V418.0H609.7V501.4H610.4V402.3H610.7V399.6H610.8V417.7H611.0V423.3H611.1V512.0H611.3V478.7H611.4V395.3H611.7V489.4H611.8V430.2H611.9V483.3H612.1V388.5H612.2V483.9H612.7V459.3H612.9V468.4H613.0V454.2H613.2V445.6H613.5V425.7H613.6V522.7H613.7V462.0H613.9V402.9H614.0V453.4H614.2V401.7H614.2V413.8H614.4V433.8H614.4V478.5H614.6V477.2H614.7V422.5H614.7V498.3H614.7V455.6H614.8V441.7H614.9V423.9H615.0V446.8H615.0V428.4H615.1V485.8H615.2V376.3H615.2V405.3H615.3V455.8H615.4V475.2H615.7V445.0H616.1V406.0H616.1V454.8H616.4V440.6H616.6V435.6H617.0V404.8H617.2V432.7H617.3V461.5H617.4V445.2H617.5V433.2H617.8V453.1H617.8V416.9H617.9V462.0H618.3V478.1H618.3V551.0H618.5V459.6H618.5V452.0H618.6V567.7H618.7V349.0H618.7V454.4H618.8V454.1H618.9V451.5H619.2V433.9H619.4V429.5H619.8V397.1H620.3V436.1H620.6V495.0H620.6V444.5H620.7V446.9H620.8V416.6H621.0V413.0H621.1V438.3H621.1V443.5H621.4V477.8H621.6V448.5H621.6V417.3H621.8V421.3H621.8V464.0H622.0V522.4H622.1V371.1H622.1V410.5H622.1V463.7H622.2V503.0H622.4V427.6H622.5V428.0H622.6V391.4H623.0V473.9H623.0V438.6H623.2V394.8H623.2V421.5H623.2V508.7H623.3V415.6H623.3V369.3H623.4V414.4H623.4V459.5H623.4V428.8H623.5V436.3H623.6V491.4H623.7V326.0H623.8V487.0H624.0V432.5H624.8V447.4H624.8V440.7H624.8V432.4H624.9V432.6H625.0V429.1H625.0V464.5H625.1V427.8H625.2V430.2H625.2V514.1H625.4V535.7H625.6V456.5H625.8V391.6H625.9V518.0H626.0V457.0H626.3V388.5H626.5V394.8H626.6V477.7H626.9V453.8H627.4V427.6H627.4V377.7H627.5V437.8H627.6V454.7H627.8V462.1H627.9V402.3H628.3V437.0H628.5V445.9H628.7V455.7H629.1V406.4H629.1V485.8H629.5V462.5H629.7V485.8H630.0V472.0H630.0V461.9H630.1V436.9H630.2V423.7H630.4V422.4H630.5V417.2H631.1V468.3H631.1V372.9H631.2V451.2H631.2V415.0H631.8V389.6H631.9V490.1H632.0V446.7H632.2V423.5H632.2V436.9H632.2V443.0H632.3V433.5H632.4V496.8H632.7V418.2H632.7V434.3H632.7V442.3H632.9V441.6H633.2V477.9H633.2V463.6H633.5V477.4H633.7V482.1H634.1V497.6H634.2V406.5H634.2V437.0H634.3V455.4H634.4V421.3H634.4V435.4H634.5V439.1H634.5V470.7H634.6V489.0H634.6V439.9H634.9V408.0H634.9V480.8H634.9V462.6H635.0V489.3H635.0V438.5H635.0V358.2H635.0V464.1H635.1V438.3H635.2V527.0H635.4V452.5H636.1V465.3H636.3V386.1H636.4V431.7H636.6V475.6H636.7V426.4H636.8V451.2H637.2V446.9H637.4V414.2H637.4V330.2H637.9V415.5H638.0V451.6H638.1V444.3H638.5V428.6H638.6V396.9H638.9V423.4H639.0V424.3H639.0V462.8H639.1V456.7H639.3V471.9H639.3V417.1H639.4V431.9H639.5V478.6H639.9V469.0H640.3V432.7H640.3V426.8H640.3V457.3H640.4V441.2H640.7V432.4H640.7V442.5H640.7V423.3H640.8V503.4H640.9V447.9H641.2V412.4H641.3V456.2H641.4V396.4H641.5V503.7H641.6V431.1H641.7V461.1H642.1V418.1H642.1V449.2H642.2V470.0H642.3V430.4H642.3V504.6H642.4V436.8H642.5V464.2H643.1V426.7H643.3V419.2H643.4V443.3H643.5V433.6H643.7V418.5H643.8V427.5H643.9V465.0H644.0V418.4H644.0V407.2H644.1V430.9H644.3V404.4H644.3V473.7H644.4V426.2H644.4V514.8H644.5V418.5H644.6V437.2H644.7V441.1H644.8V424.0H645.2V476.2H645.4V427.3H645.6V478.4H645.7V400.9H645.8V430.3H646.0V502.7H646.1V433.9H646.5V411.0H646.7V455.0H647.0V432.0H647.2V451.3H647.2V451.7H647.3V493.2H647.3V434.8H647.4V453.0H647.6V487.7H647.9H648.2V454.4H648.3V425.1H648.5V454.8H648.9V477.3H648.9V431.4H649.0V447.7H649.0V459.3H649.0V438.1H649.3V419.0H650.0V426.3H650.1V452.7H650.1V378.8H650.1V376.4H650.2V435.5H650.2V467.3H650.4V505.0H650.4V394.5H650.6V447.7H650.8V457.5H651.0V432.9H651.0V416.2H651.0V436.8H651.1V422.6H651.4V492.9H651.4V445.1H651.5V436.5H651.7V453.1H651.9V411.9H651.9V430.2H652.1V406.1H652.6V409.0H652.8V439.7H652.9V406.8H653.3V425.9H653.3V441.8H653.5V449.8H653.6V430.2H653.6V444.5H653.6V474.6H653.7V458.7H653.7V449.4H653.8V510.1H654.0V416.5H654.1V465.3H654.2V432.5H654.4V437.6H654.6V381.9H654.7V433.4H654.8V404.7H654.9V435.5H654.9V456.5H654.9V474.7H655.0V455.5H655.4V432.6H655.5V457.2H655.9V420.9H656.3V433.3H656.5V428.2H656.6V466.9H657.6V436.7H657.7V463.4H657.9V423.2H657.9V480.7H657.9V434.1H658.0V366.9H658.1V431.9H658.3V432.2H658.4V460.6H658.7V411.7H658.8V440.2H659.1V434.5H659.2V439.6H659.2V488.7H659.2V443.7H659.3V441.9H659.6V464.7H660.1V490.9H660.1V416.8H660.8V506.5H660.9V433.5H661.2V411.9H662.1V457.7H662.2V442.4H662.2V432.7H662.2V436.9H662.3V408.1H662.6V426.6H662.6V421.3H662.8V458.3H662.9V421.3H663.0V419.3H663.1V465.9H663.2V419.6H663.2V429.7H663.5V443.2H663.6V408.9H663.7V412.8H663.8V420.2H664.0V431.6H664.1V461.6H664.3V448.4H664.6V327.3H665.2V485.2H665.2V490.2H665.5V443.1H665.5V439.9H665.6V402.0H665.7V435.2H666.3V442.3H666.5V477.5H667.1V467.5H667.2V427.3H667.8V422.9H667.9V448.9H667.9V424.2H668.0V439.9H668.0V451.8H668.1V412.1H668.2V411.8H668.3V427.1H668.9V391.8H669.1V434.5H669.3V423.2H669.9V417.8H670.1V483.1H670.2V370.2H670.3V463.0H670.7V474.4H670.8V447.0H670.9V470.7H671.0V457.4H671.1V438.5H671.1V456.3H671.3V485.7H671.6V446.6H671.7V475.7H671.8V430.0H672.0V477.1H672.1V430.9H672.2V440.5H672.2V417.3H672.3V444.5H672.3V461.1H672.4V392.8H672.8V435.9H673.0V391.7H673.4V444.9H673.4V462.4H673.5V412.7H673.6V408.1H673.7V393.8H673.7V458.8H673.8V441.6H673.9V462.8H674.2V453.8H674.2V421.9H674.4V443.2H674.4V425.2H674.5V478.9H674.5V436.1H674.7V452.8H674.8V555.8H674.9V403.3H674.9V449.4H675.3V496.5H675.4V402.6H675.5V435.5H675.6V492.6H675.8V466.1H675.8V429.0H675.9V445.3H676.0V465.1H676.0V455.5H676.0V460.7H676.0V459.6H676.1V438.7H676.2V416.1H676.3V447.7H676.4V415.9H676.5V455.5H676.9V378.9H677.0V446.9H677.1V447.3H677.2V394.0H677.5V436.4H677.7V481.1H678.3V436.0H678.3V392.2H678.6V407.8H678.7V561.8H679.0V421.2H679.3V461.5H679.5V464.5H679.6V429.5H679.6V398.9H679.6V502.7H680.2V529.3H680.6V428.6H680.6V494.0H680.7V426.6H681.3V442.6H681.4V428.2H681.7V454.6H681.8V447.6H681.8V385.9H681.9V446.5H682.0V420.8H682.1V417.4H682.4V459.9H682.5V447.5H682.6V438.3H682.6V411.7H683.0V448.9H683.1V444.6H683.4V391.8H683.6V485.2H683.7V500.9H683.8V411.8H684.2V440.7H684.3V429.5H684.8V451.6H684.9V437.3H684.9V452.3H685.0V455.1H685.3V434.6H685.4V406.7H685.8V402.8H686.0V528.2H686.1V464.0H686.1V438.5H686.5V430.3H687.1V453.3H687.3V451.9H687.3V424.5H687.4V414.1H687.4V417.4H687.8V456.9H687.8V484.0H688.0V466.2H688.1V410.5H688.3V478.0H688.8V447.3H689.0V439.6H689.2V432.4H689.3V407.7H689.5V330.0H689.8V450.2H690.1V406.7H690.4V439.1H690.6V430.1H690.6V473.9H691.0V504.5H691.1V453.5H691.5V413.2H691.9V433.0H692.5V418.1H692.7V439.0H693.2V457.9H693.3V432.3H693.3V428.7H693.5V429.0H693.5V421.3H693.8V335.7H693.8V413.0H693.8V450.3H693.9V462.0H694.3V404.9H694.6V416.3H694.8V459.8H695.0V432.3H695.0V423.7H695.7V402.9H696.2V482.3H696.2V434.0H696.3V438.9H696.7V450.1H696.8V394.2H696.9V418.9H697.0V453.2H697.1V433.5H697.1V448.0H697.2V460.7H697.2V457.8H697.4V467.4H697.4V408.1H697.5V370.4H697.8V386.1H697.8V425.5H697.9V496.7H698.3V494.2H698.4V439.6H698.7V417.9H698.7V426.2H698.8V416.7H699.1V430.6H699.1V431.3H699.2V425.9H699.2V437.4H699.2V415.8H699.3V421.9H699.4V478.8H699.4V484.3H699.7V353.4H700.2V425.9H700.3V422.8H700.4V423.5H700.4V436.0H700.4V433.6H700.6V425.9H700.6V452.6H700.7V384.1H700.8V441.5H700.8V486.3H700.8V411.2H701.2V432.4H702.1V460.8H702.2V451.0H702.4V461.5H702.6V420.2H702.7V431.7H702.8V432.0H702.9V452.8H702.9V517.2H703.1V420.2H703.1V363.5H703.1V396.0H703.4V464.0H703.5V434.1H703.7V480.1H704.0V392.0H704.7V464.4H705.0V446.2H705.3V444.5H705.4V426.0H705.5V429.4H705.6V467.3H706.0V435.4H706.1V387.7H706.3V362.3H706.3V479.0H706.7V404.4H706.9V447.0H707.1V428.3H707.4V423.4H707.4V445.6H707.4V434.9H707.5V463.4H707.7V422.8H707.8V454.4H708.0V468.4H708.5V432.7H708.5V420.7H708.5V511.8H708.6V436.5H708.6V462.9H708.9V435.5H709.3V414.2H709.4V439.6H709.6V459.2H710.1V413.2H710.1V426.4H710.1V423.1H710.8V388.6H711.5V432.7H711.7V439.0H711.8V439.2H711.8V439.3H712.0V422.1H712.2V422.8H712.2V426.4H712.4V420.2H712.6V470.0H712.6V452.4H712.7V486.9H712.8V442.2H713.3V414.0H713.6V409.6H713.7V395.0H713.9V435.6H714.1V443.9H714.5V464.8H714.7V440.6H714.7V446.8H714.7V409.4H714.9V377.1H715.0V501.5H715.0V491.2H715.0V427.0H715.2V451.5H715.4V445.8H715.9V394.5H716.0V452.1H716.2V454.3H716.9V449.5H717.1V429.0H717.4V459.7H717.4V433.4H717.5V417.8H717.7V473.0H717.8V441.9H717.9V549.1H717.9V414.7H718.1V395.0H718.3V414.2H718.6V440.0H718.6V423.1H718.7V427.7H719.1V455.8H719.2V443.4H719.3V426.5H719.4V430.3H719.6V459.1H719.7V506.3H719.7V391.8H719.7V411.4H720.2V440.9H720.7V461.4H720.9V420.8H721.0V480.5H721.2V390.5H721.2V466.9H721.2V442.8H721.4V411.1H721.4V440.0H721.4V440.3H721.5V449.3H721.5V435.2H721.9V402.0H722.2V429.2H722.9V436.8H722.9V441.6H723.2V434.1H723.4V441.9H723.4V486.7H723.9V436.1H723.9V448.0H724.0V436.4H724.1V478.4H724.1V442.8H724.2V431.1H724.3V389.1H724.9V515.1H725.1V436.0H725.1V426.2H725.2V475.5H725.5V413.2H725.7V426.1H725.8V415.7H725.8V501.6H725.8V455.4H726.0V461.7H726.2V425.1H726.3V447.0H726.3V425.5H726.6V386.7H726.6V423.6H726.7V416.5H727.1V486.4H727.4V460.1H728.4V458.2H728.7V442.0H728.7V457.3H728.8V463.4H728.9V490.0H729.3V547.6H729.9V440.2H730.0V408.0H730.2V420.2H730.5V410.0H730.9V455.5H731.3V429.6H731.7V469.7H731.8V426.0H731.8V483.8H732.0V470.0H732.2V330.6H732.4V451.2H732.6V381.3H732.9V403.8H732.9V435.2H733.0V429.9H733.0V454.1H733.0V438.3H733.2V440.5H734.3V455.2H734.8V456.9H735.2V446.6H735.3V431.2H737.0V444.7H737.3V456.1H737.6V419.3H737.8V472.4H738.0V455.8H738.0V395.2H738.8V449.1H738.8V439.3H738.9V398.3H739.4V458.7H739.5V433.4H739.9V461.6H740.8V436.0H741.0V422.9H742.1V435.6H742.1V456.6H742.1V458.5H742.2V436.4H742.3V444.2H742.6V431.3H742.7V453.6H742.7V403.9H742.8V440.0H743.6V433.8H743.7V399.1H744.2V436.7H744.4V459.6H745.7V423.9H745.9V502.9H746.4V440.9H747.7V455.6H747.7V426.7H747.8V414.6H748.5V446.5H748.8V440.9H749.0V379.9H749.7V425.0H750.0V452.5H750.1V434.1H750.1V435.8H750.3V440.9H750.6V393.4H751.0V442.5H751.0V445.0H751.7V437.9H751.8V432.6H751.9V428.0H752.4V416.0H752.5V405.6H754.4V444.4H755.1V415.1H755.4V472.0H756.3V421.3H757.7V444.7H758.0V442.4H758.3V410.8H758.5V479.6H759.1V432.5H759.2V437.8H759.2V448.8H759.3V421.5H759.4V435.8H760.5V420.9H760.9V436.1H762.4V430.7H762.7V434.7H763.2V455.4H763.8V435.7H764.2V446.6H764.3V404.4H764.4V449.7H764.5V464.2H764.6V485.9H764.7V435.2H765.1V444.7H765.4V443.4H765.5V505.5H766.1V444.7H766.2V441.4H766.2V447.7H767.0V433.0H767.3V439.6H767.8V437.3H767.8V399.4H768.1V420.1H768.1V423.7H768.3V454.3H768.5V414.5H768.7V431.3H769.0V438.0H769.4V417.4H769.5V342.3H770.1V421.2H770.1V476.1H771.4V435.2H771.7V475.1H771.8V446.8H772.7V444.9H773.3V423.3H773.4V441.9H773.5V418.5H773.8V438.7H773.8V436.1H774.0V444.3H774.3V450.0H774.4V419.8H774.6V452.3H775.3V411.4H775.3V432.3H775.5V443.0H775.6V435.3H776.0V460.6H776.5V422.2H777.1V434.9H777.3V444.5H777.4V407.1H778.6V431.7H778.9H778.9V459.6H779.1V430.7H779.3V429.7H779.3V416.3H779.7V413.2H779.8V440.9H780.0V425.2H780.2V416.0H780.6V494.4H780.6V471.9H780.7V454.7H780.7V494.1H781.1V437.1H781.1V487.7H781.3V438.9H781.3V416.0H781.6V435.3H782.0V420.1H782.3V416.2H782.6V474.4H783.5V413.1H784.0V433.3H784.1V439.1H784.3V443.4H784.6V429.7H784.9V393.4H785.1V476.2H786.6V437.7H787.1V423.3H788.3V432.5H788.5V450.8H788.8V384.3H788.9V456.0H789.1V441.2H791.0V434.9H791.1V431.2H791.2V446.5H791.4V445.8H791.8V447.9H791.9V493.7H791.9V421.4H792.2V453.6H792.3V391.1H792.3V430.2H792.7V437.7H792.8V431.9H794.5V427.0H796.6V480.1H797.4V423.0H797.4V426.3H797.6V421.1H797.9V425.9H798.4V430.2H799.4V434.0H799.6V431.7H800.8V436.0H801.7V431.0H801.8V432.2H802.1V437.2H802.6V379.2H802.8V425.2H803.9V402.3H804.5V392.4H804.7V360.6H804.7V468.7H804.8V434.5H805.4V422.0H806.2V439.2H806.7V474.8H807.1V447.3H807.4V428.6H807.6V435.7H807.6V423.6H807.8V420.4H807.8V446.7H807.8V438.5H808.1V433.7H808.2V450.4H808.3V451.6H808.3V431.6H808.4V382.7H808.4V458.8H808.5V437.5H808.7V430.5H808.8V442.0H808.9V419.7H808.9V431.2H809.0V419.9H809.1V426.9H809.2V443.5H809.7V429.7H810.0V439.3H810.0V382.3H810.2V459.6H810.4V439.1H810.8V429.7H811.2V436.5H811.2V449.3H811.6V463.1H811.7V383.6H812.7V436.5H812.9V420.0H813.2V409.3H813.3V435.5H813.5V450.1H813.7V437.4H814.0V404.0H814.0V469.4H814.3V453.2H814.6V416.3H814.7V489.4H814.9V440.8H814.9V432.8H815.1V455.7H815.1V526.7H815.2V447.9H815.6V447.8H815.8V424.1H816.0V437.2H816.2V433.7H816.4V415.7H816.8V445.7H816.9V440.8H817.0V448.7H817.1V473.5H817.2V399.3H817.3V430.3H817.6V452.7H817.7V433.8H817.7V458.7H818.6V452.8H818.8V434.2H818.8V448.0H818.9V460.4H819.2V457.2H819.7V420.7H820.5V404.5H820.7V424.6H820.8V437.5H821.2V434.2H821.6V402.1H821.8V453.4H822.6V437.0H822.7V465.1H823.4V440.0H823.4V367.6H823.7V457.8H823.7V439.5H824.3V457.5H824.4V459.2H824.5V422.6H825.2V490.2H825.3V417.0H825.5V435.1H825.6V477.2H825.6V443.8H825.7V437.6H825.7V419.3H826.2V443.6H826.4V436.3H826.6V443.3H827.3V474.2H827.8V435.7H827.9V375.5H827.9V400.7H828.0V433.9H828.0V464.0H828.3V410.6H828.3V424.8H828.3V489.8H829.0V425.7H829.3V417.3H829.6V445.0H829.7V417.4H830.2V462.5H830.5V434.1H830.5V399.7H830.8V444.1H830.8V421.7H831.2V526.5H832.1V454.1H832.2V435.5H832.4V447.3H832.5V452.6H832.5V393.2H832.6V407.0H832.9V418.1H833.5V343.1H833.6V439.0H833.8V424.7H834.1V474.5H834.2V470.1H834.3V450.4H834.3V461.0H835.4V432.8H835.5V439.7H835.6V463.8H836.6V439.7H836.7V444.4H836.9V457.3H837.2V437.7H838.2V442.4H838.5V439.1H840.1V425.5H840.5V435.8H840.6V439.4H841.1V438.2H841.4V438.8H842.5V437.7H844.1V433.2H846.0V448.3H846.8V435.4H846.8V422.2H846.9V427.8H847.1V446.0H847.4V439.3H847.6V448.4H847.8V482.6H848.1V439.7H848.1V467.2H848.3V422.2H848.6V519.2H848.9V448.4H849.2V394.3H849.3V436.4H850.1V443.2H850.5V441.7H850.6V416.9H850.9V434.3H851.0V438.2H851.4V456.0H851.5V468.9H851.7V454.3H851.8V413.4H852.0V420.3H852.4V448.1H852.6V434.1H853.0V456.2H853.0V442.1H853.4V453.9H853.7V397.4H853.9V433.1H854.0V428.7H854.6V417.8H855.8V472.6H855.8V433.0H855.9V432.4H856.0V452.7H856.2V420.5H856.4V395.5H856.5V436.8H856.6V405.2H856.8V396.5H857.0V414.7H857.2V435.7H857.6V424.0H857.9V434.5H857.9V416.4H858.1V532.7H858.4V421.3H858.8V454.2H859.1V451.3H859.1V432.2H859.3V466.2H859.3V439.5H859.7V443.5H860.2V427.6H860.6V444.5H860.7V449.9H860.7V462.0H860.9V408.5H860.9V435.2H860.9V436.5H861.0V511.5H861.0V436.3H861.2V430.8H861.5V439.0H861.9V438.6H862.1V443.3H862.3V419.9H862.7V419.2H863.0V434.8H863.3V446.1H863.4V426.4H864.0V410.7H864.2V451.2H864.3V440.2H865.0V425.4H865.2V433.0H865.2V459.5H865.6V436.2H865.9V454.7H865.9V425.4H866.1V423.0H866.7V426.3H866.8V437.1H867.1V379.7H867.4V525.1H867.7V465.4H867.9V414.7H867.9V419.3H868.2V436.9H868.3V460.7H868.6V431.3H868.7V442.7H868.7V435.2H868.8V443.4H869.0V418.7H869.1V400.9H869.4V459.9H869.5V429.8H869.7V459.1H869.9V432.6H870.4V470.7H871.1V398.1H871.7V468.2H872.0V418.2H872.6V470.6H872.8V428.2H873.0V448.1H873.5V438.4H873.6V435.3H874.3V370.4H874.3V430.8H874.4V420.6H874.5V462.2H874.6V452.7H875.0V449.0H875.1V435.1H875.6V441.8H876.7V440.7H877.6V470.0H877.8V439.5H877.8V431.3H879.0V434.5H879.3V435.8H879.5V462.5H879.7V435.7H880.0V441.8H880.4V415.0H880.4V399.5H880.7V440.6H881.0V429.9H881.3V444.3H881.6V417.5H882.1V404.0H882.2V460.7H882.4V457.3H882.5V433.5H882.8V447.6H882.8V416.2H883.0V440.0H883.1V455.2H883.2V416.9H883.5V437.7H883.7V447.2H883.9V408.0H883.9V433.6H884.3V415.7H884.3V413.0H884.4V417.5H884.6V402.1H884.6V443.6H884.9V438.8H884.9V446.6H885.0V468.6H885.5V433.6H886.0V494.5H886.3V428.7H886.4V430.1H886.9V429.7H887.0V435.0H888.0V482.0H888.6V478.1H889.1V377.7H889.3V412.2H889.3V416.7H889.4V432.5H889.4V443.2H890.1V484.0H890.8V453.5H891.1V435.8H892.5V466.0H892.5V445.8H892.7V418.9H892.8V443.2H892.8V450.5H893.0V442.6H893.1V410.0H893.2V470.7H893.2V407.1H893.3V432.8H893.4V456.1H893.4V458.2H893.6V406.4H893.7V471.4H893.8V527.9H894.1V444.7H894.4V438.4H894.6V456.1H894.7V442.2H894.8V436.2H894.8V441.8H895.0V455.3H895.2V438.6H895.2V405.8H895.4V504.8H895.7V476.4H895.7V462.4H895.7V435.1H895.9V461.1H896.3V361.8H896.6V452.0H896.7V436.1H896.8V402.7H896.8V437.7H897.2V411.7H897.2V429.1H897.2V453.0H897.3V374.5H897.3V441.8H897.5V477.5H897.5V451.5H897.7V432.3H897.9V444.0H898.5V454.4H899.0V488.2H899.2V419.3H899.5V435.5H899.7V439.3H899.9V456.3H900.1V437.7H900.2V426.5H900.9V435.0H900.9V410.7H901.0V437.3H901.1V438.9H901.3V454.6H901.4V476.1H902.3V437.0H902.3V439.3H902.5V468.4H903.0V401.7H903.3V438.1H904.9V443.4H905.0V408.2H905.0V455.5H905.1V428.9H905.2V443.6H905.7V433.3H905.8V414.5H906.3V494.2H906.5V442.6H906.8V444.4H906.9V441.8H906.9V439.7H907.5V451.1H907.7V512.9H907.8V457.3H908.3V435.6H908.7V430.8H908.8V438.3H909.1V429.2H909.2V437.7H909.3V435.5H909.5V440.8H909.5V437.7H909.6V396.4H911.6V445.4H913.0V432.0H913.2V401.9H913.6V441.7H914.1V431.3H914.1V446.6H914.7V439.3H914.7V435.0H915.6V429.9H916.4V436.6H917.1V455.3H917.5V447.6H920.1V409.4H920.6V442.6H921.6V377.8H921.7V456.3H923.6V443.5H923.7V432.7H924.2V441.0H926.6V449.0H927.5V484.3H929.2V424.0H929.2V451.5H929.3V438.1H929.7V431.0H929.8V433.4H929.9V453.1H929.9V436.9H930.1V352.2H930.8V441.1H932.4V434.8H934.2V437.6H935.6V436.8H936.6V432.9H937.4V440.9H937.8V437.3H940.1V441.1H940.8V436.1H942.2V437.9H944.2V450.1H945.3V410.6H946.0H946.4V441.1H947.0V433.0H948.7V440.0H950.6V438.6H951.0V433.5H952.0V439.0H954.9V414.5H955.7V438.9H955.7V435.3H955.9V439.2H956.5V436.1H956.6V427.5H957.0V441.7H959.2V437.3H961.4V435.7H961.6V460.5H962.5V451.5H963.2V432.0H966.1V437.5H967.0V436.8H967.0V438.1H967.3V439.0H969.3V438.8H972.7V437.5H972.7V438.5H973.0V437.3H974.9V427.9H978.3V437.4H978.6V436.6H979.0V437.3H980.0V438.6H980.8V437.8H981.8V436.0H983.7V438.4H987.0V437.4H987.6V436.9H988.7V431.4H989.6V418.5H990.2V440.2H990.4V436.7H990.6V414.1H990.6V407.4H990.9V436.1H991.3V424.1H991.3V438.6H991.6V443.4H991.8V421.7H991.9V437.7H991.9V417.4H992.1V450.6H992.2V401.3H992.2V429.0H992.4V427.0H992.5V437.7H992.5V431.0H992.8V454.9H993.0V449.0H993.2V458.6H994.0V444.2H994.1V386.0H994.8V441.6H995.6V447.7H995.8V415.2H996.2V452.8H996.4V455.1H996.5V426.5H996.7V419.7H997.0V416.9H997.4V450.4H997.5V403.7H997.9V443.7H998.0V434.5H998.2V406.5H998.4V470.0H998.5V434.3H998.9V438.0H999.1V427.4H999.4V418.8H999.9V435.8H1000.3V448.1H1000.6V463.0H1000.7V421.7H1001.0V462.3H1001.0V448.9H1001.7V445.7H1001.9V433.5H1002.8V466.1H1002.9V428.7H1002.9V465.1H1003.3V453.8H1003.9V432.1H1004.3V448.0H1004.3V449.8H1005.6V430.7H1005.9V417.7H1006.6V450.4H1007.1V431.0H1007.3V427.3H1008.5V436.5H1008.7V438.3H1009.6V438.7H1010.3V437.2H1011.7V439.2H1011.9V436.4H1012.6V437.4H1014.1V436.6H1014.7V458.4H1014.8V432.0H1015.1V432.3H1016.0V434.3H1016.6V466.2H1017.4V434.0H1021.7V438.9H1023.0V437.3H1023.7V435.6H1025.3V435.9H1026.7V437.3H1027.9V433.4H1028.2V437.7H1028.4V436.5H1030.3H1031.6V435.2H1033.7V437.7H1039.2H1042.0V439.3H1043.7V436.9H1044.4V437.9H1046.6V436.0H1046.9V425.4H1049.6V437.5H1050.3V436.9H1050.5V437.6H1051.3V438.3H1051.9V435.9H1052.3V439.5H1052.7V435.5H1052.9V461.7H1054.4V436.9H1055.2V379.7H1056.3V463.2H1056.5V438.6H1056.6V412.0H1056.9V433.4H1057.5V443.2H1057.6V426.0H1058.0V449.1H1058.0V452.1H1058.3V440.8H1058.4V477.7H1058.7V408.4H1058.8V406.1H1059.1V482.8H1059.2V440.0H1059.5V438.8H1059.7V499.9H1059.7V439.9H1059.8V432.8H1060.0V434.1H1060.2V455.3H1060.6V433.5H1061.7V435.0H1061.8V430.5H1061.8V434.8H1061.9V438.3H1062.1V416.6H1062.2V418.6H1062.4V429.2H1062.5V439.1H1062.6V450.3H1062.7V435.6H1062.8V449.2H1062.8V440.5H1062.8V438.6H1063.0V433.8H1063.2V462.8H1063.4V425.8H1063.5V460.2H1063.7V434.8H1063.9V409.3H1064.0V435.0H1064.1V449.1H1064.1V427.6H1064.2V440.9H1064.7V437.5H1064.7V440.5H1064.8V450.2H1064.9V440.1H1064.9V435.0H1065.8V437.3H1066.2V405.8H1066.6V432.0H1066.6V422.5H1067.7V420.4H1067.9V442.7H1068.0V444.3H1068.0V434.8H1068.2V448.7H1068.2V447.0H1068.3V422.3H1068.4V459.4H1068.5V438.8H1068.9V433.0H1069.1V396.2H1069.3V431.1H1069.7V427.0H1069.8V432.8H1069.8V428.7H1070.2V468.0H1070.6V442.6H1070.7V459.6H1070.7V441.7H1070.7V423.8H1070.9V431.1H1070.9V467.7H1071.0V445.1H1071.1V418.1H1071.6V443.1H1071.7V426.8H1072.0V464.4H1072.1V444.9H1072.2V445.9H1072.6V463.5H1072.6V438.4H1073.3V445.0H1073.7V420.8H1074.1V423.8H1074.3V433.4H1074.7V425.8H1075.1V452.4H1075.5V438.4H1075.5V464.9H1075.6V451.0H1076.2V441.0H1076.5V422.7H1076.6V454.9H1076.7V438.2H1077.2V440.9H1077.9V444.1H1077.9V422.1H1078.5V437.7H1078.7V432.3H1079.5V426.0H1080.1V436.0H1080.2V434.5H1080.8V436.6H1083.4V437.8H1083.5V432.6H1083.9V436.4H1087.9V436.9H1089.6V426.2H1092.5V436.4H1094.4V423.4H1096.3V438.9H1098.4V451.0H1099.2V437.4H1101.8V442.8H1104.0V431.0H1104.2V408.9H1104.5V438.5H1104.9V437.5H1106.2V434.4H1106.5V429.8H1106.6V439.8H1107.1V444.4H1107.5V427.6H1108.4V449.2H1108.5V445.1H1108.5V409.4H1108.5V447.9H1108.8V439.1H1109.3V453.5H1109.3V439.9H1109.4V441.6H1109.7V433.3H1109.9V439.0H1110.0V371.9H1110.5V426.8H1111.3V433.5H1111.7V438.8H1111.7V435.0H1112.2V440.5H1112.2V453.7H1112.3V434.0H1112.3V437.7H1112.5V433.7H1112.8V428.4H1113.2V421.3H1113.5V426.9H1113.7V472.0H1113.8V437.4H1113.8V462.5H1113.9V439.1H1114.9V462.4H1115.3V392.6H1115.5V391.7H1115.6V446.6H1116.0V420.6H1116.3V446.5H1116.5V450.2H1116.7V457.7H1117.0V531.7H1117.5V454.6H1117.6V426.3H1117.6V434.8H1118.0V440.1H1118.3V447.3H1118.4V399.6H1118.7V435.9H1119.1V438.3H1119.1V403.2H1119.3V442.7H1119.3V435.6H1120.1V430.9H1120.6V435.8H1120.7V439.9H1120.9V420.9H1122.0V426.9H1122.2V457.6H1122.2V437.3H1122.5V430.3H1123.0V412.4H1124.5V456.4H1124.7V417.8H1125.0V428.9H1125.5V459.7H1125.7V417.1H1126.1V437.4H1126.2V437.1H1126.5V440.9H1126.9V434.9H1127.4V401.8H1128.0V444.4H1128.7V430.2H1131.9V437.5H1131.9V427.2H1132.5V437.4H1135.0V445.2H1135.1V408.5H1135.2V446.6H1135.7V461.7H1135.9V440.2H1136.2V438.2H1136.6V437.1H1137.1V433.7H1137.2V437.3H1138.3V437.1H1138.7V444.3H1138.9V371.1H1139.0V420.5H1139.4V451.6H1139.8V441.6H1140.1V417.5H1140.1V488.9H1140.4V441.7H1140.6V439.0H1140.7V443.2H1140.8V433.4H1140.9V463.2H1141.0V416.7H1141.5V438.8H1141.7V459.6H1142.1V439.9H1142.1V440.2H1142.2V464.7H1142.6V447.4H1142.6V467.5H1142.7V444.5H1143.2V440.3H1143.3V433.1H1143.5V433.2H1144.9V442.9H1145.0V445.0H1145.4V453.7H1145.4V463.2H1145.7V433.0H1145.9V440.2H1145.9V436.8H1146.1V430.5H1146.8V417.4H1146.9V419.9H1147.1V411.5H1147.3V424.5H1147.8V433.5H1148.0V446.0H1148.3V443.3H1148.8V454.6H1149.1V460.0H1149.2V435.3H1149.7V431.5H1149.9V453.9H1149.9V426.6H1150.1V434.6H1150.3V439.1H1150.6V449.7H1150.7V417.0H1151.3V425.1H1151.4V437.1H1151.8V409.6H1151.9V437.1H1152.1V445.2H1152.3V439.9H1152.3V445.1H1152.4V436.5H1152.5V435.8H1152.7V438.2H1153.2V441.9H1153.2V477.6H1154.2V410.6H1154.2V472.8H1154.3V456.3H1154.4V454.2H1154.7V461.4H1154.7V427.1H1154.8V431.6H1155.1V449.5H1155.1V450.4H1155.6V424.5H1155.7V434.5H1155.9V424.6H1155.9V457.2H1156.5V424.6H1156.5V431.3H1156.5V471.6H1156.6V444.7H1157.1V436.7H1157.2V434.9H1157.3V419.1H1157.4V430.5H1157.5V434.8H1157.6V434.1H1157.6V439.3H1157.8V428.2H1158.2V423.4H1158.4V435.5H1158.5V450.5H1158.5V432.2H1158.8V471.1H1158.8V404.9H1159.2V434.6H1159.5V422.4H1159.7V453.4H1160.1V464.6H1160.2V419.9H1161.0V420.4H1161.5V419.7H1161.6V448.2H1161.6V423.7H1161.7V417.1H1161.9V428.2H1161.9V384.8H1162.2V444.2H1162.8V438.8H1162.8V420.2H1162.9V450.5H1163.4V448.3H1163.5V475.1H1163.9V434.7H1164.5V423.5H1165.3V433.4H1165.5V469.3H1165.7V430.6H1166.7V417.6H1167.2V429.6H1167.6V445.6H1169.7V429.7H1170.7V437.1H1172.0V426.0H1172.4V420.5H1173.5V437.5H1177.3V438.3H1177.8V437.4H1185.3V429.9H1185.7V448.1H1186.0V446.4H1187.2V452.9H1187.5V436.5H1187.8V440.1H1187.9V422.5H1188.1V443.2H1188.1V432.4H1188.2V459.0H1189.1V446.1H1189.5V428.7H1189.7V441.8H1190.7V443.1H1192.6V428.1H1193.0V434.0H1193.1V443.9H1193.4V438.0H1193.6V432.3H1193.6V432.1H1194.0V431.9H1194.3V431.7H1194.6V407.4H1194.8V452.2H1195.1V431.2H1195.1V439.7H1195.3V459.2H1195.5V414.9H1195.6V448.7H1195.9V436.2H1195.9V441.2H1196.1V435.1H1196.3V434.0H1196.6V441.0H1197.0V431.6H1197.7V409.5H1197.7V445.7H1198.0V418.1H1198.1V436.0H1198.6V445.5H1198.7V438.3H1199.8V447.9H1199.8V443.6H1200.6V433.7H1200.8V439.2H1200.9V437.3H1201.0V445.9H1201.6V390.9H1202.4V458.4H1203.2V436.7H1203.6V443.1H1204.0V449.9H1204.2V437.7H1204.5V438.9H1204.6V439.3H1204.6V430.7H1205.1V447.6H1205.2V428.2H1205.2V435.9H1206.0V428.1H1206.7V442.3H1207.0V433.0H1207.7V432.6H1208.4V434.2H1208.6V481.9H1208.9V428.0H1209.0V454.2H1209.3V415.8H1209.6V436.5H1211.5V438.8H1211.6V453.2H1212.8V436.2H1212.9V447.5H1212.9V424.3H1213.4V438.7H1214.0V414.5H1214.5V415.9H1214.6V439.6H1214.8V443.8H1215.9V447.5H1216.0V419.0H1216.5V435.4H1216.6V442.8H1216.7V432.2H1216.9V428.2H1217.4V436.7H1217.4V473.0H1218.3V499.6H1218.4V426.5H1219.3V450.9H1219.3V415.5H1219.4V462.5H1219.8V426.0H1219.9V410.4H1220.1V458.0H1220.6V443.1H1221.3V455.7H1221.5V432.2H1221.5V429.2H1222.0V429.4H1223.5V436.6H1223.8V434.8H1223.9V439.9H1224.0V438.9H1224.2V430.7H1224.6V464.9H1224.9V432.6H1225.7V453.9H1226.1V442.5H1226.3V431.8H1226.3V444.8H1227.7V487.6H1227.8V445.6H1227.9V387.4H1229.0V447.8H1230.1V454.9H1230.1V436.7H1230.4V429.2H1230.8V462.2H1231.4V428.7H1231.5V434.5H1231.5V435.2H1232.0V466.9H1232.8V447.7H1233.1V426.8H1239.9V430.9H1240.9V443.8H1242.2V432.8H1242.6V416.7H1242.8V437.4H1242.8V443.1H1242.8V460.7H1243.3V415.1H1243.6V436.9H1245.2V430.8H1245.8V443.9H1245.9V442.2H1246.0V462.2H1246.4V439.0H1246.5V448.7H1246.7V445.0H1247.3V451.2H1247.7V429.1H1248.9V436.5H1249.3V440.1H1249.5V422.8H1249.6V434.2H1250.2V445.2H1250.5V444.2H1251.0V387.3H1251.1V410.4H1253.1V397.2H1253.2V456.0H1254.1V440.7H1256.7V428.7H1258.0V441.6H1259.4V430.6H1259.4V438.7H1262.2V443.6H1262.7V444.6H1262.9V437.3H1264.5V445.8H1264.6V451.3H1265.5V439.8H1265.6V436.2H1266.4V448.4H1267.3V440.8H1267.4V419.0H1267.5V441.1H1267.6V426.1H1267.9V432.1H1267.9V428.4H1267.9V436.4H1268.0V438.9H1268.0V436.4H1268.5V442.0H1268.7V405.0H1269.2V424.5H1270.1V423.1H1270.3V432.8H1271.8V442.7H1272.0V433.0H1272.1V427.1H1273.1V436.4H1275.6V438.5H1279.4V439.5H1280.0V437.7H1280.5V435.8H1281.2V435.9H1284.7V435.2H1291.2V437.8H1292.5V429.1H1294.7V407.4H1294.8V473.5H1295.5V420.6H1295.6V430.8H1296.2V443.3H1296.5V442.7H1296.5V427.5H1296.9V447.4H1297.1V447.3H1297.2V434.1H1297.9V440.8H1297.9V447.6H1298.6V427.3H1299.0V445.0H1299.2V451.6H1299.3V446.6H1299.9V432.7H1300.4V445.6H1300.4V422.1H1300.8V440.3H1301.2V393.9H1301.2V475.9H1301.7V456.0H1301.8V449.8H1302.0V409.3H1302.1V437.4H1302.3V432.0H1303.4V464.2H1303.5V453.5H1303.7V433.0H1304.3V441.1H1304.5V436.5H1304.5V435.3H1304.7V454.2H1305.2V437.6H1305.3V438.0H1305.6V444.3H1305.6V440.5H1306.4V448.0H1307.9V432.6H1308.8V436.4H1309.2V436.8H1309.7V437.2H1309.9V437.6H1310.2V437.8H1310.8V424.5H1313.2V416.5H1314.6V434.1H1315.0V433.5H1315.6V436.3H1315.6V460.9H1315.8V448.9H1316.2V393.8H1316.2V419.0H1316.5V435.5H1316.5V401.3H1316.6V437.2H1316.7V337.9H1317.5V433.6H1317.9V433.3H1318.2V435.7H1318.3V444.0H1319.0V417.2H1319.2V448.4H1319.2V432.1H1319.6V417.1H1319.6V411.0H1319.7V445.5H1320.0V412.2H1320.3V444.0H1320.5V407.1H1321.5V443.6H1322.0V440.3H1323.3V427.3H1324.5V434.1H1324.5V427.9H1324.5V417.5H1324.9V422.4H1324.9V430.6H1325.0V463.2H1325.0V431.8H1325.4V438.2H1326.8V422.6H1326.8V439.3H1327.2V440.0H1327.2V439.6H1327.3V514.7H1327.3V443.0H1327.9V433.5H1328.5V433.0H1328.9V445.2H1329.7V431.3H1330.0V437.1H1330.0V440.6H1330.8V433.7H1331.0V443.9H1331.3V429.0H1331.4V393.0H1331.4V443.2H1331.6V433.1H1331.6V472.7H1332.1V434.9H1332.1V442.9H1332.2V399.8H1332.3V441.1H1332.5V442.5H1332.6V462.1H1332.7V497.6H1333.0V458.9H1333.1V401.3H1333.1V409.9H1333.1V433.7H1334.3V446.5H1334.3V419.4H1334.4V449.3H1334.4V431.0H1334.8V434.9H1334.9V455.2H1335.3V463.1H1335.4V436.0H1335.6V434.0H1335.9V441.8H1337.2V438.8H1339.3V437.5H1340.1V438.3H1340.5V438.8H1341.0V437.7H1341.2V436.0H1341.8V427.9H1341.8V451.9H1341.9V410.8H1342.2V437.6H1342.3V440.6H1342.5V468.5H1343.6V442.8H1343.6V443.2H1345.3V425.6H1345.7V470.9H1345.8V433.1H1347.8V427.1H1348.2V443.2H1348.4V433.0H1348.6V425.8H1348.8V439.0H1349.0V456.0H1349.5V420.3H1349.5V451.2H1349.6V430.0H1349.7V420.6H1350.4V401.4H1351.0V439.9H1351.3V436.3H1351.5V453.2H1351.9V394.6H1352.0V450.8H1352.0V441.6H1352.6V441.7H1353.7V436.0H1353.8V386.5H1356.8V430.4H1356.9V439.8H1357.4V439.9H1359.0V436.3H1361.4V439.4H1362.3V437.3H1364.9V430.4H1367.1V439.3H1368.9V438.2H1370.3V438.0H1370.6V443.0H1371.2V437.9H1371.9V429.7H1372.3V445.4H1372.3V447.1H1373.2V438.9H1373.7V434.4H1373.8V435.9H1374.0V435.4H1374.6V435.9H1375.4V429.9H1376.7V420.5H1376.7V451.4H1377.6V437.6H1378.0V437.7H1378.0V438.6H1378.3V405.5H1378.3V455.0H1378.9V431.4H1378.9V426.8H1379.5V436.3H1380.6V446.8H1381.0V426.9H1381.1V441.1H1381.3V470.5H1381.3V456.8H1381.4V426.4H1381.7V476.6H1382.5V371.1H1382.6V385.0H1382.8V460.2H1382.8V445.5H1383.3V450.3H1383.7V440.4H1385.2V436.3H1385.5V419.6H1389.2V437.8H1389.3V438.0H1391.9V434.2H1394.8V435.4H1396.1V436.1H1396.3V435.8H1396.6V438.6H1398.3V437.7H1399.3V440.3H1401.3V438.0H1401.4V437.1H1402.2V437.7H1402.5V434.8H1402.8V437.9H1402.9V424.2H1403.0V437.2H1403.3V428.1H1404.3V433.2H1404.7V422.4H1405.8V446.5H1406.8V451.7H1407.3V437.6H1407.5V438.1H1408.4V433.5H1408.6V460.4H1408.6V436.6H1409.5V432.4H1409.7V428.8H1409.8V424.3H1410.1V443.1H1410.4V448.5H1410.6V417.9H1410.7V437.6H1411.7V416.7H1411.9V441.5H1412.1V441.9H1412.5V446.4H1412.9V462.2H1413.3V464.0H1413.5V455.3H1413.6V436.5H1413.6V428.8H1414.2V464.0H1414.2V426.4H1414.4V459.5H1414.9V456.6H1415.2V435.1H1415.4V490.0H1415.4V447.6H1415.5V440.9H1415.7V443.8H1416.2V415.9H1417.0V433.0H1417.3V427.5H1417.4V431.5H1417.4V437.7H1417.6V450.2H1417.8V419.9H1417.9V424.1H1418.0V418.4H1418.1V429.4H1418.4V444.9H1418.5V438.3H1418.6V429.5H1418.8V447.9H1419.2V434.9H1420.1V454.2H1420.3V420.1H1420.3V406.7H1420.7V429.1H1420.8V433.7H1420.8V480.9H1420.9V392.6H1421.3V423.8H1421.5V437.2H1422.1V436.3H1422.2V425.0H1422.2V439.8H1422.3V434.8H1422.4V443.3H1422.5V431.0H1423.2V431.1H1423.9V444.8H1424.2V452.5H1424.5V436.4H1425.1V426.6H1425.5V438.4H1425.6V461.5H1425.9V409.0H1426.2V458.9H1426.3V454.4H1426.7V442.5H1426.9V407.5H1426.9V435.6H1427.1V438.4H1427.4V422.6H1427.6V455.0H1427.7V463.7H1427.7V471.0H1428.0V390.0H1428.1V433.0H1428.5V477.1H1429.2V419.0H1429.3V418.8H1429.5V450.4H1429.6V449.6H1429.8V433.3H1430.6V430.9H1430.8V464.9H1430.9V462.4H1431.0V453.7H1431.4V454.7H1431.8V454.9H1431.8V470.0H1431.9V434.3H1432.5V440.1H1432.5V453.5H1432.9V437.9H1433.0V443.6H1433.2V440.9H1433.5V434.2H1434.1V438.2H1434.1V430.6H1434.1V478.2H1434.3V445.6H1434.5V418.4H1434.5V454.5H1434.8V437.5H1434.8V443.3H1435.0V460.0H1435.3V431.6H1435.5V443.3H1436.2V425.1H1436.3V431.6H1436.6V434.6H1436.7V420.4H1437.2V442.8H1437.2V426.7H1437.3V472.0H1437.3V461.5H1438.2V457.1H1438.2V404.0H1438.2V455.4H1438.8V447.4H1439.4V409.8H1439.4V435.0H1439.6V424.7H1440.3V440.6H1440.5V440.0H1441.7V412.8H1442.3V428.2H1444.0V437.4H1445.2V435.6H1448.6V422.6H1448.7V442.0H1450.1V420.7H1450.1V434.8H1450.1V440.9H1451.6V401.3H1451.8V411.0H1452.0V433.7H1452.4V436.5H1453.2V442.1H1453.6V454.4H1454.2V464.3H1454.4V432.2H1455.2V430.0H1455.3V435.0H1455.6V414.3H1456.6V462.6H1456.8V431.7H1457.4V440.6H1458.3V435.3H1458.4V450.2H1458.7V424.3H1459.1V432.0H1459.2V456.4H1460.0V434.1H1460.3V436.5H1460.6V420.8H1461.3V406.5H1462.0V429.0H1462.0V441.5H1462.3V451.2H1463.0V442.8H1463.1V439.1H1463.4V435.3H1463.4V444.7H1463.4V435.7H1463.6V447.0H1463.6V419.8H1463.6V405.0H1463.9V437.4H1464.4V425.8H1465.1V434.0H1465.1V379.1H1465.1V457.5H1466.7V427.8H1467.1V419.2H1467.2V414.5H1467.6V419.0H1468.1V434.1H1468.1V442.5H1469.0V436.2H1469.1V414.9H1469.3V444.8H1470.2V415.5H1470.3V450.7H1470.4V439.7H1472.3V447.7H1472.5V447.1H1472.5V437.2H1473.5V423.8H1473.7V449.7H1473.9V436.2H1474.3V447.7H1474.4V437.8H1474.7V456.8H1475.6V402.0H1475.6V437.2H1476.0V423.6H1476.7V432.0H1476.8V438.9H1476.8V436.6H1477.1V439.5H1477.1V416.1H1477.8V443.0H1478.1V444.2H1479.8V429.2H1479.9V443.2H1480.3V446.5H1480.6V428.9H1481.6V394.5H1481.7V432.8H1482.0V452.9H1482.6V442.3H1482.6V428.5H1482.9V426.3H1483.6V457.7H1484.0V430.4H1484.7V429.3H1484.7V432.5H1484.9V446.9H1484.9V447.0H1485.4V418.2H1485.5V442.3H1485.8V374.5H1486.0V429.7H1486.3V449.4H1486.4V429.4H1486.9V403.9H1487.1V466.2H1487.1V440.2H1488.4V429.6H1489.1V441.0H1489.2V419.4H1489.8V399.5H1489.8V471.8H1491.0V420.4H1491.2V440.9H1492.6V427.8H1493.2V454.0H1494.1V432.4H1494.3V439.5H1494.7V437.3H1494.7V440.6H1495.1V428.8H1495.3V443.8H1495.6V419.2H1495.6V453.9H1496.1V434.7H1496.7V404.7H1497.2V447.9H1497.8V409.9H1498.0V438.6H1498.2V435.3H1498.7V446.9H1499.0V440.5H1500.2V430.7H1501.1V430.8H1501.1V442.1H1501.4V449.2H1501.5V425.2H1502.4V414.9H1503.2V437.6H1503.8V436.3H1504.3V437.6H1506.5V435.7H1506.7V435.9H1507.4V430.3H1508.2V437.6H1509.4V436.6H1511.1V436.5H1511.2V424.1H1511.9V445.8H1512.4V476.3H1513.3V436.3H1513.4V448.7H1513.5V430.0H1514.7V480.3H1515.8V417.1H1516.2V428.9H1516.5V441.6H1516.7V456.7H1517.8V437.6H1518.9V439.5H1519.8V437.5H1521.4V436.7H1522.6V438.6H1523.0V438.4H1523.3V484.7H1523.6V431.1H1524.5V417.3H1525.8V436.9H1526.1V419.6H1526.4V433.7H1527.0V438.2H1528.1V422.4H1528.2V459.9H1528.3V493.6H1528.5V421.4H1528.5V451.2H1528.9V473.2H1528.9V466.0H1529.3V426.9H1529.3V423.2H1529.4V444.7H1529.8V411.5H1530.1V437.9H1530.7V404.6H1530.8V415.6H1530.9V420.6H1531.0V450.1H1531.4V439.2H1531.7V436.4H1531.8V447.3H1531.9V440.3H1532.3V434.9H1532.5V513.9H1532.7V436.4H1532.8V426.3H1532.9V442.7H1532.9V442.0H1533.0V435.7H1533.5V430.1H1534.1V430.1H1534.6V450.1H1535.8V447.5H1535.8V433.5H1536.4V425.5H1536.4V446.5H1536.6V459.3H1536.6V449.8H1537.1V415.1H1537.6V445.7H1537.9V421.8H1538.7V421.3H1538.8V455.5H1539.0V446.2H1539.2V433.9H1539.7V441.7H1539.8V437.9H1540.0V432.0H1540.2V450.7H1540.8V424.8H1540.8V423.4H1541.9V436.3H1543.3V432.5H1543.6V436.3H1543.6V437.3H1543.8V446.5H1548.3V437.4H1549.9V437.0H1551.3V438.7H1555.4V437.2H1560.0H1561.0V442.5H1563.3V447.3H1564.8V437.0H1565.5V436.0H1566.3V437.4H1566.9V436.9H1567.1V436.7H1568.8V437.4H1569.5V439.7H1574.2V436.8H1574.2V436.2H1574.7V437.3H1575.6V428.0H1575.9V437.4H1577.5V437.8H1578.7V437.4H1579.1V437.8H1581.2V438.7H1581.9V437.3H1583.7V437.1H1584.0V436.9H1585.0V437.5H1585.0H1585.0V436.7H1585.1V437.2H1585.2V451.9H1586.8V424.7H1588.4V437.3H1590.9V438.9H1592.9V437.5H1593.2V426.6H1593.5V429.3H1594.0V443.4H1594.3V452.5H1594.6V440.7H1595.4V432.8H1596.0V431.7H1596.1V412.7H1596.2V428.2H1596.8V436.3H1598.2V424.8H1598.5V431.2H1598.9V430.6H1599.3V443.9H1599.9V450.4H1600.1V449.5H1600.2V439.0H1601.5V414.7H1602.0V412.6H1602.6V451.1H1604.3V427.6H1605.6V435.1H1606.4V449.5H1608.8V439.0H1612.6V437.8H1613.4V449.4H1614.0V420.8H1614.1V441.6H1615.2V449.1H1615.5V452.0H1616.0V436.9H1616.1V436.4H1616.2V445.8H1617.0V440.9H1617.1V423.0H1617.2V447.0H1617.6V439.7H1617.9V441.9H1618.0V426.8H1618.1V422.7H1618.4V450.0H1618.6V436.2H1618.6V421.0H1618.7V419.8H1619.4V415.4H1619.4V435.5H1619.9V428.9H1620.1V436.7H1620.1V412.3H1620.4V456.7H1620.5V455.2H1620.6V412.1H1621.2V415.5H1621.5V438.2H1621.5V439.3H1621.6V435.6H1621.9V451.7H1622.2V454.6H1622.3V438.4H1623.7V439.9H1623.7V435.1H1624.0V442.5H1624.5V408.1H1624.6V438.7H1624.7V446.0H1624.7V446.3H1624.8V433.6H1625.0V436.7H1625.7V460.8H1625.8V445.8H1626.5V442.8H1626.5V467.1H1627.2V436.6H1627.2V459.5H1627.4V425.2H1627.6V436.7H1627.9V441.8H1628.0V430.5H1628.2V438.8H1628.2V433.8H1628.3V425.2H1628.7V382.0H1628.8V415.8H1629.1V440.3H1629.3V432.8H1629.3V439.8H1629.4V447.5H1629.4V449.7H1629.9V436.4H1630.5V440.8H1630.6V439.6H1630.7V424.7H1630.7V430.7H1630.9V456.5H1631.0V446.3H1631.0V411.7H1631.1V467.1H1631.2V464.7H1631.3V457.0H1631.3V433.5H1631.4V455.6H1631.7V453.5H1632.4V445.8H1632.5V440.4H1632.7V426.5H1632.9V423.1H1632.9V446.0H1633.0V419.7H1633.1V443.0H1633.2V456.2H1633.7V438.6H1633.9V437.2H1633.9V439.6H1634.2V438.0H1634.4V454.9H1634.5V412.1H1634.5V443.1H1634.8V434.6H1635.0V436.7H1635.1V452.8H1635.2V437.2H1636.1V441.3H1636.2V419.1H1636.4V453.3H1636.6V412.9H1636.8V422.6H1636.8V436.8H1637.2V439.9H1637.3V431.1H1638.4V484.4H1638.5V464.8H1639.5V453.8H1639.6V435.3H1639.9V423.1H1640.4V441.1H1640.6V401.6H1641.6V418.9H1642.0V441.9H1642.1V495.1H1642.3V442.9H1642.5V439.5H1642.8V442.9H1643.1V427.8H1643.2V441.8H1643.5V437.2H1643.7V428.3H1643.8V448.7H1643.9V448.1H1644.3V451.5H1644.3V442.5H1644.8V449.6H1645.1V444.2H1645.3V439.2H1646.7V435.9H1646.7V437.6H1647.2V439.0H1647.2V420.5H1647.3V462.7H1647.5V422.1H1647.6V422.5H1647.9V442.2H1647.9V445.3H1648.2V440.4H1648.2V439.7H1648.5V424.3H1648.7V443.0H1648.7V442.3H1649.0V450.6H1650.1V411.6H1650.2V406.0H1650.3V419.0H1651.1V443.2H1651.2V421.4H1651.6V416.3H1651.7V433.2H1651.7V437.7H1652.0V417.1H1652.2V439.2H1652.2V431.9H1652.3V426.0H1652.5V444.7H1652.9V433.9H1653.0V477.1H1653.0V415.8H1653.6V438.4H1653.7V456.3H1653.9V446.0H1654.0V435.6H1654.2V444.6H1654.3V435.1H1654.4V457.1H1655.0V420.1H1655.2V443.5H1655.8V433.1H1655.9V459.1H1656.0V436.0H1656.5V439.9H1656.6V463.4H1656.7V426.4H1656.8V443.7H1657.2V450.4H1657.4V439.7H1658.2V453.1H1658.3V415.0H1658.3V437.2H1658.4V448.7H1658.5V438.3H1658.9V457.9H1659.0V390.9H1659.4V427.8H1659.8V416.1H1660.1V428.8H1661.1V437.0H1661.3V436.6H1661.3V435.8H1661.8V454.7H1661.9V427.2H1661.9V451.5H1662.2V424.4H1662.2V416.7H1662.2V437.1H1662.9V422.5H1663.0V429.7H1663.1V440.8H1663.3V458.0H1663.5V404.0H1664.2V487.8H1664.2V441.8H1664.5V429.8H1664.6V430.7H1664.7V440.1H1664.7V440.0H1664.8V386.8H1664.8V451.2H1665.1V456.7H1665.5V432.9H1665.7V477.7H1666.3V442.9H1667.4V441.2H1667.7V448.5H1667.9V420.1H1668.2V431.9H1668.7V428.4H1669.7V426.1H1670.3V461.4H1670.4V435.5H1670.5V442.5H1670.8V440.2H1671.6V431.1H1671.7V438.7H1671.9V462.7H1671.9V440.7H1672.0V440.4H1672.2V433.0H1672.3V445.2H1672.5V411.8H1672.8V428.3H1673.0V434.9H1673.2V427.3H1673.7V442.1H1674.3V442.3H1674.6V444.9H1674.8V440.6H1674.8V434.7H1675.0V426.1H1675.1V486.9H1675.8V438.8H1677.0V440.5H1677.4V427.7H1678.1V458.5H1678.2V404.2H1678.7V432.8H1678.8V456.6H1678.9V426.0H1679.4V511.0H1679.6V425.2H1680.0V393.2H1680.4V447.5H1680.7V434.5H1681.0V454.7H1681.0V426.5H1681.1V446.7H1681.2V443.1H1681.7V468.2H1681.7V452.4H1682.0V441.3H1682.2V425.9H1682.6V426.4H1682.9V453.1H1683.3V439.6H1683.4V438.8H1683.6V418.6H1683.8V413.1H1684.5V437.8H1685.3V445.9H1685.4V418.4H1685.5V426.4H1686.3V420.4H1686.7V420.6H1687.0V427.6H1688.7V438.8H1688.9V439.1H1689.5V434.4H1689.8V468.3H1690.0V467.3H1690.4V456.7H1690.9V426.9H1691.0V452.0H1691.0V442.9H1691.2V430.5H1691.2V451.8H1691.2V466.9H1691.4V445.4H1691.7V440.4H1692.1V441.2H1693.5V441.4H1693.5V466.4H1694.5V425.4H1695.6V439.6H1696.0V400.6H1696.1V423.8H1696.2V438.7H1696.6V454.7H1696.6V458.6H1696.9V451.6H1697.1V432.3H1697.2V507.7H1697.2V418.6H1697.9V416.2H1698.1V457.4H1698.2V431.3H1699.1V451.1H1699.5V437.3H1699.5V449.6H1699.8V433.1H1700.1V439.5H1700.2V435.1H1700.3V451.0H1700.4V444.3H1701.0V455.1H1701.3V440.1H1705.5V437.4H1708.0V436.4H1709.1V443.2H1712.5V435.8H1714.8V427.1H1716.3V437.9H1719.6V437.3H1720.6V436.3H1721.7V437.6H1724.4V437.8H1725.1V438.0H1726.9V434.7H1731.7V437.4H1740.7V435.9H1741.0V438.1H1743.1V438.0H1746.7V437.6H1749.8V437.4H1752.3V436.9H1752.4V437.5H1752.6V416.8H1755.9V418.0H1756.0V413.2H1756.2V436.9H1756.6V441.5H1757.2V440.4H1757.3V431.3H1757.3V434.0H1757.5V416.3H1757.8V432.5H1758.0V422.5H1758.6V434.0H1758.7V427.0H1758.7V450.3H1758.8V426.6H1758.9V459.0H1759.1V441.4H1759.5V423.1H1759.7V435.6H1759.8V409.2H1760.1V435.3H1760.6V438.9H1760.8V461.3H1761.2V417.6H1761.5V424.7H1762.1V418.5H1762.8V420.5H1762.8V440.2H1763.0V433.3H1763.2V452.0H1763.7V437.8H1764.0V416.7H1764.1V438.9H1764.5V451.5H1764.6V451.0H1765.1V424.5H1765.9V432.0H1766.1V441.1H1766.3V409.4H1766.3V432.2H1767.2V436.4"/>
</g></svg></body></html>
